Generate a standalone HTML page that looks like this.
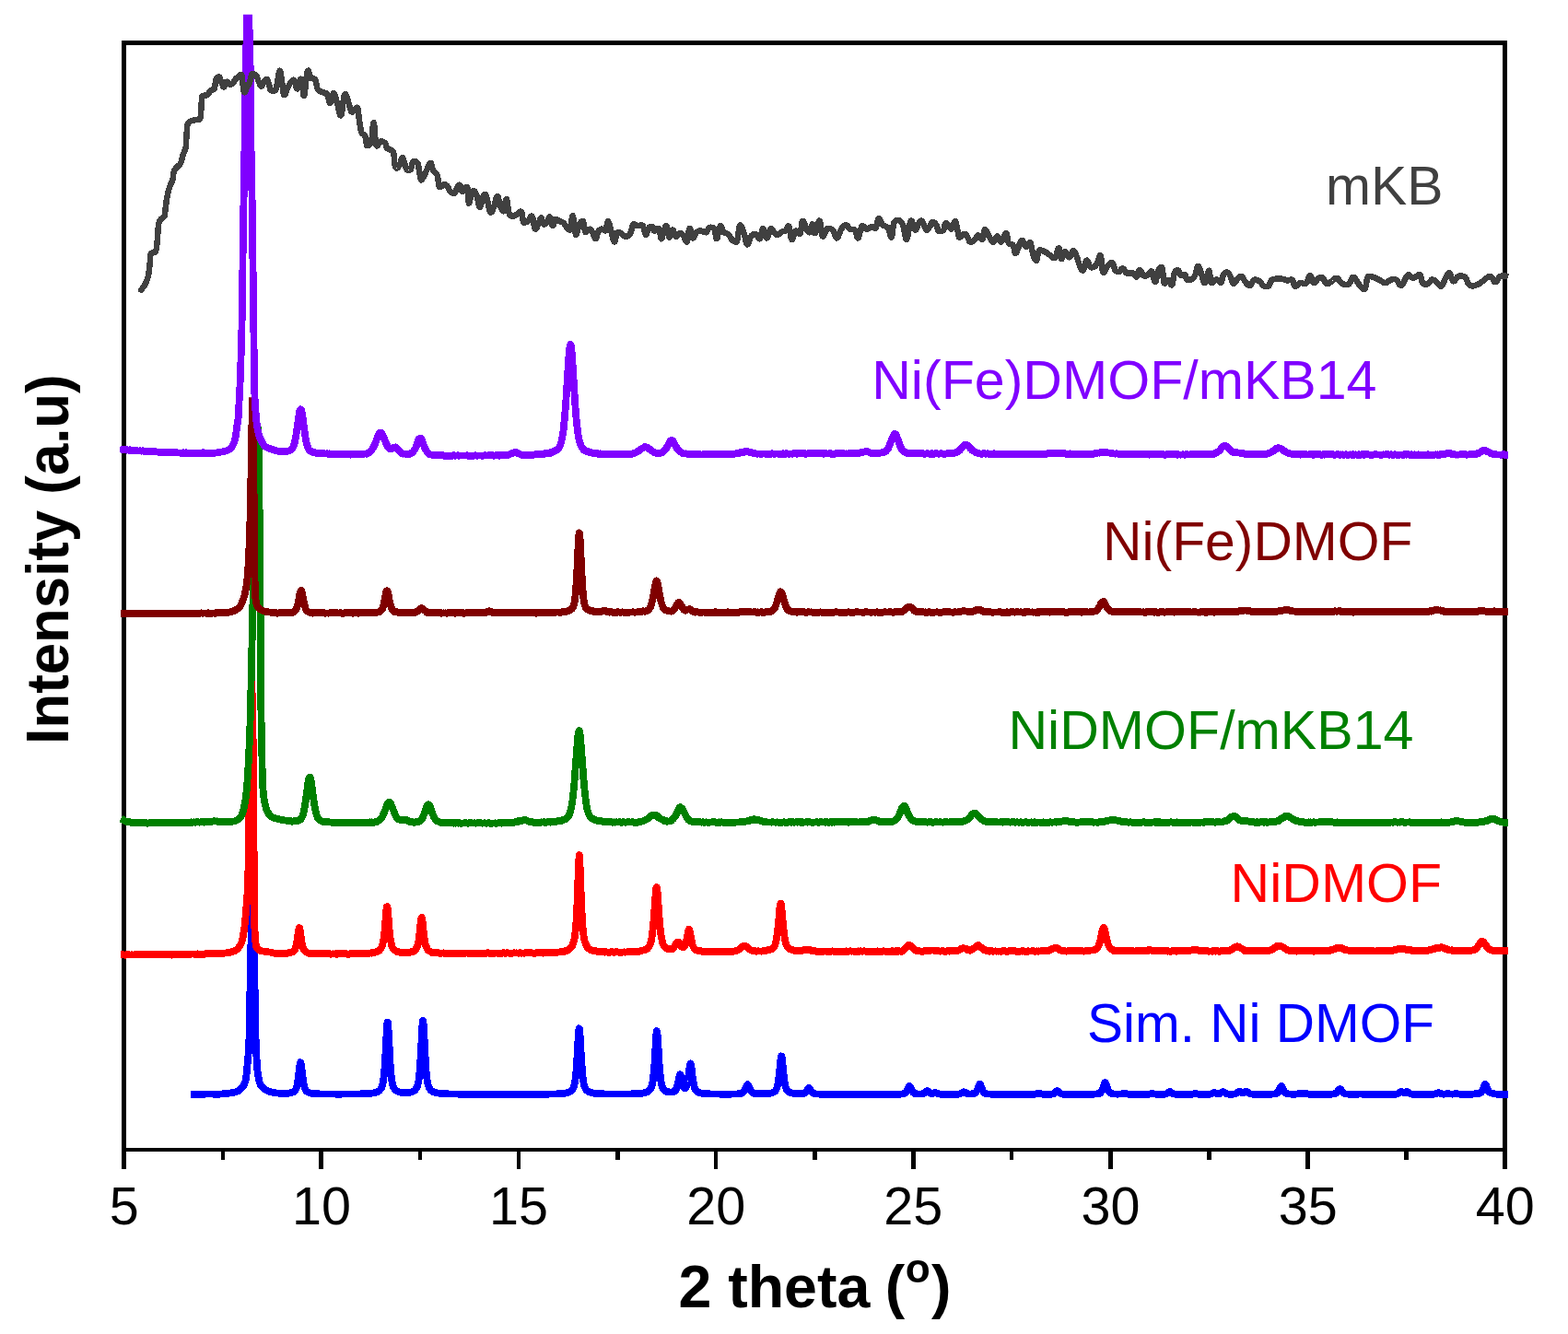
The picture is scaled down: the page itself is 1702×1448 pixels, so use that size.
<!DOCTYPE html>
<html lang="en">
<head>
<meta charset="utf-8">
<title>XRD patterns</title>
<style>
html,body{margin:0;padding:0;background:#fff;overflow:hidden;}
body{width:1702px;height:1448px;overflow:hidden;}
svg{display:block;}
text{font-family:"Liberation Sans",Arial,Helvetica,sans-serif;}
.tick{font-size:57.5px;fill:#000;text-anchor:middle;}
.lab{font-size:58.8px;}
.ax{font-weight:bold;fill:#000;text-anchor:middle;}
.c{fill:none;stroke-width:7.8;stroke-linejoin:round;stroke-linecap:butt;stroke-miterlimit:3;shape-rendering:crispEdges;}
</style>
</head>
<body>
<svg width="1702" height="1448" viewBox="0 0 1702 1448">
<rect x="0" y="0" width="1702" height="1448" fill="#ffffff"/>
<g fill="#000" shape-rendering="crispEdges">
<rect x="132" y="44" width="5" height="1206"/>
<rect x="1631" y="44" width="5" height="1206"/>
<rect x="132" y="44" width="1504" height="5"/>
<rect x="132" y="1246" width="1504" height="4"/>
<rect x="132" y="1248" width="5" height="21"/>
<rect x="346" y="1248" width="5" height="21"/>
<rect x="561" y="1248" width="4" height="21"/>
<rect x="775" y="1248" width="4" height="21"/>
<rect x="989" y="1248" width="5" height="21"/>
<rect x="1203" y="1248" width="5" height="21"/>
<rect x="1417" y="1248" width="5" height="21"/>
<rect x="1631" y="1248" width="5" height="21"/>
<rect x="240" y="1248" width="4" height="11"/>
<rect x="454" y="1248" width="4" height="11"/>
<rect x="668" y="1248" width="5" height="11"/>
<rect x="882" y="1248" width="5" height="11"/>
<rect x="1096" y="1248" width="4" height="11"/>
<rect x="1310" y="1248" width="5" height="11"/>
<rect x="1524" y="1248" width="5" height="11"/>
</g>
<clipPath id="clip0000ff"><rect x="0" y="976.0" width="1702" height="472.0"/></clipPath>
<path class="c" d="M207.00,1187.79 L230.00,1187.53 L235.97,1187.82 L241.21,1187.43 L247.82,1186.77 L251.41,1186.26 L254.23,1185.69 L256.52,1185.07 L258.30,1184.39 L259.73,1183.48 L261.12,1182.29 L262.88,1180.34 L264.32,1178.30 L265.45,1176.19 L266.36,1173.85 L267.00,1170.80 L267.55,1166.28 L269.81,1142.20 L270.18,1135.22 L270.54,1123.33 L270.99,1101.63 L272.11,1035.14 L273.07,1002.95 L274.05,976.00 L275.02,1002.58 L276.00,1035.47 L276.35,1054.01 L276.99,1100.21 L277.61,1127.85 L278.21,1143.94 L278.99,1156.52 L279.50,1162.45 L280.30,1168.00 L281.43,1173.49 L281.91,1175.25 L282.49,1176.92 L283.00,1178.00 L283.59,1178.91 L284.49,1179.96 L285.84,1181.20 L287.34,1182.31 L289.18,1183.39 L291.34,1184.37 L293.67,1185.22 L295.74,1185.80 L297.82,1186.21 L300.93,1186.52 L308.99,1187.02 L312.13,1186.94 L313.87,1186.64 L317.50,1185.66 L319.00,1184.90 L320.00,1184.02 L321.00,1182.51 L321.50,1181.35 L322.00,1179.79 L322.50,1177.74 L323.50,1171.83 L325.50,1155.40 L326.00,1153.30 L326.50,1153.55 L327.00,1156.06 L329.00,1172.59 L329.50,1175.75 L330.00,1178.27 L330.50,1180.23 L331.00,1181.71 L331.50,1182.82 L332.00,1183.64 L332.50,1184.27 L333.50,1185.12 L335.00,1185.89 L337.00,1186.48 L339.50,1186.90 L343.00,1187.21 L348.00,1187.43 L366.50,1187.64 L388.50,1187.49 L398.00,1187.15 L401.50,1186.89 L404.00,1186.59 L406.00,1186.24 L408.00,1185.73 L409.50,1185.16 L411.00,1184.34 L412.00,1183.56 L413.00,1182.47 L414.00,1180.86 L414.50,1179.71 L415.00,1178.22 L415.50,1176.22 L416.00,1173.55 L416.50,1169.99 L417.00,1165.29 L417.50,1159.26 L418.00,1151.78 L420.00,1114.26 L420.50,1109.46 L421.00,1110.01 L421.50,1115.72 L423.50,1153.33 L424.50,1166.24 L425.00,1170.68 L425.50,1174.04 L426.00,1176.54 L426.50,1178.41 L427.00,1179.81 L428.00,1181.73 L428.50,1182.40 L429.50,1183.42 L430.50,1184.15 L431.50,1184.68 L432.50,1185.08 L434.00,1185.51 L435.50,1185.79 L437.50,1186.01 L439.50,1186.09 L442.00,1186.02 L444.00,1185.82 L445.50,1185.56 L447.00,1185.16 L448.50,1184.55 L450.00,1183.62 L451.00,1182.69 L452.00,1181.34 L452.50,1180.40 L453.00,1179.19 L453.50,1177.59 L454.00,1175.46 L454.50,1172.60 L455.00,1168.78 L455.50,1163.77 L456.00,1157.37 L457.00,1140.19 L458.00,1119.87 L458.50,1111.78 L459.00,1107.91 L459.50,1109.62 L460.00,1116.29 L461.50,1145.97 L462.50,1161.47 L463.00,1167.03 L463.50,1171.31 L464.00,1174.54 L464.50,1176.95 L465.00,1178.75 L466.00,1181.17 L467.00,1182.67 L468.50,1184.10 L470.00,1185.01 L472.00,1185.79 L474.50,1186.39 L477.50,1186.83 L481.00,1187.13 L486.00,1187.39 L492.50,1187.57 L513.00,1187.78 L560.50,1187.84 L592.50,1187.68 L603.00,1187.45 L610.00,1187.03 L612.50,1186.75 L614.50,1186.40 L616.50,1185.88 L618.00,1185.31 L619.50,1184.45 L620.50,1183.61 L621.50,1182.42 L622.50,1180.56 L623.00,1179.19 L623.50,1177.37 L624.00,1174.93 L624.50,1171.67 L625.00,1167.38 L625.50,1161.87 L626.00,1155.02 L628.00,1120.71 L628.50,1116.32 L629.00,1116.83 L629.50,1122.06 L631.00,1148.59 L632.00,1163.07 L632.50,1168.32 L633.00,1172.39 L633.50,1175.47 L634.00,1177.77 L634.50,1179.48 L635.00,1180.78 L635.50,1181.77 L636.00,1182.55 L637.00,1183.69 L638.50,1184.81 L640.50,1185.72 L642.50,1186.28 L645.50,1186.79 L649.00,1187.12 L657.50,1187.46 L670.00,1187.58 L683.00,1187.47 L692.00,1187.14 L697.00,1186.66 L699.00,1186.31 L700.50,1185.94 L702.00,1185.43 L703.00,1184.96 L704.00,1184.33 L705.00,1183.48 L706.00,1182.24 L706.50,1181.39 L707.00,1180.28 L707.50,1178.82 L708.00,1176.87 L708.50,1174.25 L709.00,1170.78 L710.00,1160.50 L710.50,1153.47 L712.00,1127.98 L712.50,1121.61 L713.00,1119.20 L713.50,1121.60 L714.00,1127.95 L715.50,1153.39 L716.00,1160.40 L717.00,1170.65 L717.50,1174.11 L718.00,1176.70 L718.50,1178.63 L719.00,1180.07 L719.50,1181.16 L720.00,1181.99 L721.00,1183.18 L722.00,1183.98 L723.50,1184.75 L725.00,1185.21 L727.00,1185.50 L729.00,1185.48 L730.00,1185.34 L731.00,1185.08 L732.00,1184.60 L732.50,1184.23 L733.50,1183.04 L734.00,1182.13 L734.50,1180.92 L735.00,1179.36 L736.00,1175.10 L737.50,1167.64 L738.00,1166.34 L738.50,1166.42 L739.00,1167.80 L741.00,1176.92 L741.50,1178.56 L742.00,1179.78 L742.50,1180.61 L743.00,1181.08 L743.50,1181.21 L744.00,1181.01 L744.50,1180.45 L745.00,1179.50 L745.50,1178.07 L746.00,1176.10 L746.50,1173.51 L747.00,1170.29 L748.50,1158.44 L749.00,1155.48 L749.50,1154.40 L750.00,1155.60 L750.50,1158.69 L752.00,1170.96 L752.50,1174.34 L753.50,1179.30 L754.00,1180.98 L754.50,1182.25 L755.00,1183.20 L755.50,1183.91 L756.00,1184.46 L757.00,1185.22 L758.50,1185.93 L760.50,1186.49 L763.50,1186.96 L767.50,1187.28 L773.00,1187.49 L783.50,1187.64 L794.00,1187.61 L800.00,1187.43 L803.50,1187.09 L804.50,1186.88 L805.50,1186.52 L806.50,1185.87 L807.00,1185.39 L808.00,1183.98 L808.50,1183.02 L810.50,1178.31 L811.00,1177.50 L811.50,1177.20 L812.00,1177.50 L812.50,1178.30 L814.50,1182.99 L815.50,1184.72 L816.50,1185.82 L817.00,1186.18 L818.00,1186.65 L819.50,1187.00 L821.50,1187.21 L824.50,1187.32 L828.00,1187.30 L831.50,1187.16 L834.00,1186.95 L836.00,1186.66 L838.00,1186.20 L839.50,1185.63 L840.50,1185.06 L841.50,1184.21 L842.00,1183.61 L842.50,1182.82 L843.00,1181.77 L843.50,1180.36 L844.00,1178.47 L844.50,1175.99 L845.00,1172.80 L845.50,1168.84 L847.50,1148.98 L848.00,1146.44 L848.50,1146.74 L849.00,1149.77 L850.50,1165.12 L851.50,1173.50 L852.00,1176.55 L852.50,1178.90 L853.00,1180.68 L853.50,1182.01 L854.00,1183.01 L855.00,1184.33 L856.00,1185.14 L857.00,1185.69 L858.50,1186.24 L860.50,1186.69 L862.50,1186.97 L865.00,1187.16 L867.50,1187.24 L870.00,1187.20 L872.00,1186.98 L873.00,1186.67 L874.00,1186.08 L874.50,1185.62 L875.50,1184.33 L877.00,1181.83 L877.50,1181.22 L878.00,1181.00 L878.50,1181.24 L879.00,1181.85 L881.00,1185.13 L882.00,1186.20 L883.00,1186.82 L884.00,1187.16 L887.00,1187.54 L891.50,1187.72 L898.50,1187.82 L930.50,1187.92 L965.50,1187.88 L973.00,1187.78 L977.50,1187.61 L979.50,1187.42 L981.00,1187.14 L982.00,1186.75 L983.00,1186.03 L984.00,1184.76 L984.50,1183.87 L986.50,1179.58 L987.00,1179.05 L987.50,1179.11 L988.00,1179.74 L990.00,1184.04 L991.00,1185.57 L991.50,1186.09 L992.50,1186.76 L993.50,1187.11 L994.50,1187.30 L996.50,1187.48 L998.50,1187.53 L1000.00,1187.49 L1001.50,1187.30 L1003.00,1186.72 L1004.00,1186.00 L1005.50,1184.64 L1006.00,1184.32 L1006.50,1184.20 L1007.00,1184.32 L1007.50,1184.63 L1009.50,1186.34 L1010.00,1186.64 L1011.00,1186.98 L1011.50,1187.02 L1012.50,1186.91 L1014.50,1186.24 L1015.50,1186.11 L1016.50,1186.37 L1019.00,1187.37 L1020.00,1187.58 L1021.50,1187.73 L1025.50,1187.83 L1033.00,1187.84 L1038.00,1187.77 L1040.50,1187.62 L1041.50,1187.46 L1042.50,1187.15 L1043.50,1186.65 L1045.00,1185.68 L1045.50,1185.43 L1046.00,1185.30 L1046.50,1185.35 L1047.00,1185.54 L1049.00,1186.73 L1050.00,1187.14 L1051.50,1187.41 L1054.00,1187.42 L1056.00,1187.23 L1057.50,1186.87 L1058.50,1186.37 L1059.50,1185.42 L1060.50,1183.76 L1061.00,1182.61 L1062.50,1178.44 L1063.00,1177.34 L1063.50,1176.82 L1064.00,1177.05 L1064.50,1177.95 L1066.50,1183.35 L1067.00,1184.37 L1068.00,1185.80 L1069.00,1186.60 L1070.00,1187.02 L1071.50,1187.34 L1073.00,1187.52 L1077.50,1187.75 L1085.50,1187.88 L1119.50,1187.88 L1123.00,1187.68 L1124.50,1187.35 L1126.00,1186.88 L1127.00,1186.70 L1128.00,1186.82 L1130.50,1187.54 L1132.00,1187.75 L1135.00,1187.84 L1140.00,1187.76 L1142.00,1187.61 L1143.50,1187.23 L1144.50,1186.70 L1145.00,1186.33 L1147.00,1184.50 L1147.50,1184.25 L1148.00,1184.22 L1148.50,1184.44 L1150.50,1186.25 L1151.50,1186.95 L1153.00,1187.50 L1154.50,1187.71 L1159.00,1187.86 L1167.50,1187.90 L1179.00,1187.85 L1186.00,1187.71 L1189.50,1187.52 L1192.00,1187.20 L1193.50,1186.76 L1194.50,1186.16 L1195.50,1185.03 L1196.50,1183.08 L1197.00,1181.73 L1198.50,1176.83 L1199.00,1175.53 L1199.50,1174.92 L1200.00,1175.19 L1200.50,1176.25 L1202.00,1181.13 L1203.00,1183.76 L1203.50,1184.71 L1204.50,1185.98 L1205.50,1186.66 L1207.00,1187.14 L1209.50,1187.48 L1212.50,1187.64 L1216.00,1187.56 L1217.00,1187.41 L1220.00,1186.70 L1221.00,1186.80 L1224.00,1187.60 L1227.00,1187.84 L1236.50,1187.91 L1245.00,1187.86 L1247.00,1187.73 L1250.00,1187.17 L1251.00,1187.10 L1254.00,1187.63 L1255.50,1187.79 L1259.00,1187.86 L1263.00,1187.77 L1264.50,1187.64 L1266.00,1187.27 L1267.00,1186.78 L1269.00,1185.39 L1269.50,1185.16 L1270.00,1185.10 L1270.50,1185.23 L1271.00,1185.51 L1272.50,1186.60 L1273.50,1187.15 L1275.00,1187.60 L1276.50,1187.77 L1282.50,1187.90 L1291.50,1187.87 L1294.00,1187.68 L1296.50,1187.19 L1297.50,1187.10 L1300.50,1187.62 L1302.00,1187.79 L1305.00,1187.87 L1310.00,1187.84 L1312.50,1187.73 L1314.00,1187.51 L1315.00,1187.21 L1317.00,1186.33 L1318.00,1186.10 L1319.00,1186.29 L1320.50,1186.90 L1321.50,1187.19 L1323.00,1187.24 L1324.00,1186.97 L1324.50,1186.74 L1326.50,1185.43 L1327.00,1185.19 L1327.50,1185.10 L1328.00,1185.19 L1328.50,1185.44 L1330.50,1186.80 L1332.00,1187.40 L1334.00,1187.66 L1337.50,1187.70 L1340.00,1187.53 L1341.50,1187.15 L1342.50,1186.64 L1344.50,1185.11 L1345.00,1184.82 L1345.50,1184.70 L1346.00,1184.78 L1348.00,1185.98 L1349.00,1186.29 L1350.00,1186.15 L1352.00,1184.96 L1352.50,1184.75 L1353.00,1184.71 L1353.50,1184.87 L1354.00,1185.18 L1355.50,1186.38 L1356.50,1187.00 L1358.00,1187.50 L1359.50,1187.69 L1363.00,1187.81 L1369.00,1187.85 L1380.00,1187.69 L1382.50,1187.52 L1384.50,1187.21 L1385.50,1186.87 L1386.50,1186.23 L1387.50,1185.08 L1388.00,1184.26 L1390.00,1179.92 L1390.50,1179.20 L1391.00,1179.01 L1391.50,1179.43 L1392.00,1180.32 L1393.50,1183.68 L1394.00,1184.60 L1394.50,1185.36 L1395.50,1186.39 L1396.50,1186.95 L1397.50,1187.25 L1399.00,1187.48 L1401.50,1187.65 L1406.50,1187.69 L1411.00,1187.10 L1414.00,1187.38 L1417.50,1187.10 L1421.00,1187.69 L1424.50,1187.87 L1439.00,1187.85 L1443.50,1187.76 L1446.50,1187.58 L1448.50,1187.24 L1450.00,1186.58 L1451.00,1185.76 L1451.50,1185.22 L1453.50,1182.61 L1454.00,1182.21 L1454.50,1182.11 L1455.00,1182.34 L1455.50,1182.83 L1457.50,1185.45 L1458.00,1185.96 L1459.00,1186.71 L1460.00,1187.15 L1461.00,1187.41 L1462.50,1187.60 L1465.00,1187.75 L1471.50,1187.84 L1476.50,1187.50 L1480.50,1187.84 L1484.00,1187.92 L1504.00,1187.93 L1513.50,1187.80 L1515.50,1187.64 L1517.00,1187.30 L1518.00,1186.84 L1520.00,1185.48 L1520.50,1185.22 L1521.00,1185.10 L1521.50,1185.15 L1523.00,1185.81 L1524.00,1186.09 L1525.00,1185.96 L1526.50,1185.28 L1527.00,1185.13 L1527.50,1185.11 L1528.00,1185.26 L1530.50,1186.90 L1531.50,1187.33 L1533.00,1187.65 L1535.50,1187.81 L1546.50,1187.91 L1555.50,1187.80 L1557.00,1187.65 L1558.00,1187.43 L1560.50,1186.37 L1561.50,1186.10 L1562.50,1186.28 L1565.00,1187.33 L1566.00,1187.55 L1567.00,1187.64 L1568.50,1187.58 L1571.00,1187.16 L1572.00,1187.10 L1575.00,1187.58 L1577.00,1187.64 L1580.00,1187.18 L1581.00,1187.10 L1584.00,1187.61 L1586.00,1187.80 L1596.00,1187.78 L1599.00,1187.60 L1602.50,1187.10 L1605.00,1187.01 L1606.00,1186.84 L1607.00,1186.42 L1608.00,1185.54 L1609.00,1183.97 L1609.50,1182.87 L1611.50,1177.53 L1612.00,1176.86 L1612.50,1176.94 L1613.00,1177.72 L1614.50,1181.78 L1615.50,1184.03 L1616.00,1184.83 L1616.50,1185.41 L1617.50,1186.08 L1620.00,1186.64 L1622.50,1187.34 L1624.50,1187.63 L1628.50,1187.81 L1636.90,1187.91" stroke="#0000ff" clip-path="url(#clip0000ff)"/>
<clipPath id="clipff0000"><rect x="0" y="734.2" width="1702" height="713.8"/></clipPath>
<path class="c" d="M131.30,1036.39 L134.80,1036.37 L135.30,1036.64 L136.30,1036.75 L136.80,1036.31 L138.30,1036.10 L139.80,1036.49 L140.30,1036.40 L141.80,1036.59 L142.30,1036.52 L142.80,1036.31 L143.30,1036.31 L143.80,1036.60 L144.30,1036.58 L145.80,1036.30 L146.80,1036.27 L147.30,1036.44 L148.30,1036.46 L148.80,1036.05 L149.30,1036.15 L149.80,1035.96 L150.30,1036.09 L150.80,1036.00 L151.80,1036.34 L152.80,1036.09 L153.30,1036.13 L153.80,1036.43 L154.80,1036.54 L156.80,1036.18 L157.80,1036.35 L158.80,1036.14 L159.30,1035.86 L159.80,1036.04 L160.80,1036.16 L161.80,1035.91 L162.30,1036.19 L162.80,1035.94 L163.80,1035.93 L164.30,1036.31 L165.80,1035.90 L166.80,1036.33 L167.30,1036.15 L167.80,1036.26 L168.30,1035.94 L168.80,1036.25 L169.30,1036.20 L169.80,1036.28 L170.30,1035.90 L171.30,1036.23 L171.80,1036.52 L172.80,1036.40 L174.30,1035.85 L174.80,1036.09 L175.80,1036.03 L176.30,1035.82 L177.30,1036.15 L178.30,1035.80 L178.80,1035.73 L179.80,1036.31 L180.30,1036.33 L180.80,1036.15 L181.80,1036.03 L182.30,1036.16 L182.80,1036.02 L183.30,1036.06 L183.80,1035.95 L184.30,1036.10 L184.80,1036.11 L185.30,1036.42 L186.30,1036.68 L186.80,1036.13 L187.80,1035.64 L188.30,1035.95 L188.80,1035.71 L189.30,1035.92 L190.30,1036.09 L191.30,1035.59 L192.30,1035.94 L192.80,1036.27 L193.80,1036.25 L194.30,1036.02 L194.80,1036.25 L195.30,1036.24 L195.80,1036.38 L196.30,1036.03 L196.80,1035.91 L197.30,1035.64 L197.80,1035.95 L198.80,1036.10 L199.30,1035.85 L201.30,1035.70 L201.80,1036.07 L202.30,1036.15 L202.80,1036.02 L203.30,1035.57 L203.80,1035.43 L205.30,1035.94 L206.80,1035.82 L207.30,1035.59 L207.80,1035.51 L209.30,1035.57 L209.80,1035.45 L210.80,1035.64 L212.30,1035.68 L213.30,1036.01 L213.80,1035.65 L214.30,1035.66 L214.80,1035.39 L215.30,1035.64 L215.80,1035.63 L216.80,1035.90 L217.30,1035.81 L217.80,1035.86 L218.30,1035.69 L219.80,1035.48 L220.30,1035.74 L220.80,1035.75 L221.30,1036.06 L222.80,1035.34 L223.30,1035.42 L224.30,1035.38 L224.80,1035.27 L225.30,1035.52 L225.80,1035.37 L226.30,1035.48 L226.80,1035.19 L227.30,1035.13 L227.80,1034.90 L228.30,1034.81 L229.80,1035.24 L230.80,1035.32 L231.80,1035.23 L232.80,1034.71 L233.30,1034.75 L233.80,1034.54 L234.30,1034.78 L234.80,1034.65 L235.35,1034.97 L237.11,1034.76 L241.30,1034.92 L246.16,1034.35 L249.35,1033.81 L252.75,1032.94 L254.91,1032.08 L255.82,1031.53 L256.98,1030.65 L258.78,1028.89 L260.20,1027.00 L261.57,1024.48 L262.58,1021.85 L263.42,1018.46 L264.58,1011.90 L265.53,1004.96 L266.37,996.61 L268.38,972.18 L269.04,961.70 L269.62,936.17 L271.43,808.77 L271.73,794.08 L272.49,765.39 L273.10,734.20 L274.06,767.79 L274.92,820.98 L275.15,846.88 L275.43,903.93 L275.87,954.33 L276.03,989.33 L276.27,1005.77 L277.21,1021.15 L277.68,1025.12 L278.29,1027.83 L278.62,1028.64 L278.96,1029.16 L279.67,1029.93 L280.57,1030.64 L282.58,1031.77 L284.84,1032.44 L288.33,1033.01 L293.94,1033.60 L296.03,1034.32 L298.48,1034.80 L299.53,1034.67 L300.30,1034.74 L300.80,1035.29 L301.30,1035.12 L302.80,1035.02 L303.30,1035.19 L303.80,1035.17 L304.30,1035.31 L304.80,1035.27 L305.30,1035.10 L305.80,1035.18 L306.30,1035.08 L307.30,1035.08 L307.80,1035.44 L309.30,1034.89 L309.80,1034.85 L310.30,1034.96 L310.80,1034.85 L311.30,1035.00 L312.30,1034.76 L312.80,1034.25 L313.30,1034.15 L314.30,1034.40 L314.80,1034.32 L315.30,1033.87 L316.30,1033.82 L317.80,1033.14 L318.30,1033.03 L318.80,1032.44 L319.30,1032.07 L320.30,1030.42 L321.30,1027.16 L321.80,1025.13 L322.30,1022.46 L324.30,1008.73 L324.80,1007.10 L325.30,1007.39 L325.80,1009.97 L327.30,1021.36 L328.30,1026.44 L329.30,1029.73 L329.80,1030.86 L330.30,1031.71 L331.30,1032.44 L332.30,1033.57 L333.30,1033.96 L334.30,1034.60 L336.30,1034.87 L336.80,1034.71 L337.30,1034.89 L337.80,1034.89 L338.30,1035.28 L338.80,1034.90 L339.30,1035.00 L339.80,1034.92 L340.30,1035.15 L341.30,1035.16 L341.80,1035.29 L342.80,1035.11 L343.30,1035.19 L343.80,1035.42 L344.30,1035.47 L345.30,1035.25 L345.80,1035.38 L347.30,1034.98 L348.80,1035.09 L349.30,1035.28 L349.80,1035.23 L350.30,1035.33 L350.80,1035.06 L351.30,1035.26 L351.80,1034.98 L352.80,1035.06 L353.80,1035.26 L354.30,1035.14 L356.30,1035.46 L357.30,1035.33 L357.80,1035.14 L359.30,1035.76 L360.30,1035.48 L361.30,1035.38 L361.80,1035.50 L362.30,1035.49 L363.80,1035.24 L364.80,1035.85 L365.30,1035.85 L365.80,1035.64 L366.30,1035.05 L367.30,1035.08 L368.30,1035.29 L368.80,1035.11 L369.30,1035.21 L369.80,1035.13 L371.30,1035.39 L371.80,1035.37 L372.30,1035.10 L372.80,1035.04 L373.30,1035.20 L373.80,1035.22 L374.80,1035.10 L376.30,1035.41 L376.80,1035.63 L377.80,1035.72 L379.30,1035.62 L379.80,1035.34 L380.80,1035.20 L381.30,1035.53 L381.80,1035.43 L382.30,1035.48 L382.80,1035.32 L383.30,1035.51 L383.80,1035.46 L385.30,1035.12 L386.30,1035.12 L386.80,1035.20 L387.30,1035.40 L388.30,1035.30 L388.80,1035.04 L389.30,1035.16 L390.80,1034.83 L391.30,1035.02 L391.80,1035.09 L392.80,1034.83 L393.30,1034.88 L394.30,1035.23 L396.80,1034.67 L397.80,1034.80 L398.30,1034.66 L399.80,1034.98 L400.80,1034.65 L401.30,1034.74 L401.80,1034.47 L402.30,1034.58 L402.80,1034.38 L403.30,1034.65 L403.80,1034.41 L404.30,1034.35 L404.80,1034.11 L405.30,1034.13 L406.30,1033.86 L407.30,1033.36 L408.80,1033.45 L409.30,1033.24 L409.80,1032.84 L410.30,1032.59 L411.30,1032.29 L411.80,1031.65 L412.30,1030.59 L412.80,1029.81 L413.30,1029.56 L413.80,1029.10 L414.30,1028.19 L414.80,1026.86 L415.80,1023.08 L416.80,1016.99 L417.30,1012.59 L419.30,988.11 L419.80,984.42 L420.30,983.99 L420.80,986.87 L421.30,992.29 L422.80,1011.63 L423.30,1016.09 L424.30,1022.46 L425.30,1026.60 L426.30,1029.02 L427.30,1030.58 L427.80,1031.13 L429.30,1031.93 L430.30,1032.71 L430.80,1032.88 L431.30,1032.93 L431.80,1032.85 L432.30,1032.98 L432.80,1033.28 L433.30,1033.37 L433.80,1033.63 L434.80,1033.80 L435.30,1033.56 L435.80,1033.60 L436.30,1033.75 L436.80,1033.74 L437.80,1034.02 L438.30,1034.29 L438.80,1034.22 L439.80,1034.42 L441.30,1033.77 L441.80,1033.84 L442.30,1033.53 L442.80,1033.60 L443.30,1033.50 L443.80,1033.76 L444.30,1033.59 L444.80,1033.70 L446.30,1033.25 L446.80,1033.33 L447.80,1033.18 L449.30,1032.35 L449.80,1031.91 L450.30,1031.72 L450.80,1031.02 L451.30,1030.60 L452.80,1027.58 L453.30,1026.24 L453.80,1024.38 L454.80,1018.55 L456.80,1000.05 L457.30,996.72 L457.80,995.87 L458.30,997.93 L458.80,1002.07 L460.30,1016.79 L461.30,1022.92 L462.30,1026.62 L464.30,1031.04 L464.80,1031.75 L465.80,1032.21 L466.30,1032.31 L466.80,1032.77 L467.30,1032.92 L468.30,1033.68 L469.30,1034.26 L469.80,1034.09 L470.80,1034.01 L471.30,1034.28 L471.80,1034.32 L472.30,1034.24 L472.80,1033.92 L474.30,1034.37 L474.80,1034.37 L475.30,1034.13 L475.80,1034.22 L476.80,1034.68 L477.30,1034.70 L477.80,1034.47 L478.30,1034.64 L478.80,1034.62 L479.30,1034.78 L479.80,1034.67 L480.30,1034.44 L481.30,1034.37 L481.80,1034.69 L482.80,1034.96 L483.80,1034.51 L484.30,1034.49 L484.80,1034.74 L485.80,1034.42 L486.30,1034.47 L487.30,1034.88 L487.80,1034.61 L488.30,1034.79 L488.80,1034.45 L489.30,1034.62 L489.80,1034.66 L490.30,1035.00 L490.80,1035.07 L491.30,1034.69 L491.80,1034.87 L492.30,1034.69 L492.80,1034.87 L493.30,1034.72 L494.30,1034.83 L494.80,1034.65 L495.30,1034.70 L495.80,1034.59 L497.30,1034.97 L497.80,1034.98 L498.80,1034.69 L499.30,1034.69 L499.80,1034.85 L500.80,1034.98 L501.80,1034.80 L502.30,1034.85 L502.80,1034.74 L503.80,1034.92 L504.80,1034.91 L505.30,1034.54 L505.80,1034.61 L506.30,1034.43 L506.80,1034.58 L507.30,1034.58 L508.30,1035.01 L509.30,1035.17 L509.80,1034.97 L510.30,1034.91 L511.30,1034.52 L511.80,1034.55 L512.80,1035.12 L514.80,1034.93 L515.30,1034.58 L515.80,1034.52 L516.30,1034.56 L516.80,1034.95 L517.30,1035.04 L517.80,1034.94 L518.30,1034.63 L519.30,1034.54 L520.30,1034.74 L520.80,1034.98 L521.30,1035.03 L522.30,1034.55 L522.80,1034.63 L523.30,1034.91 L523.80,1034.93 L524.80,1034.67 L525.30,1034.92 L526.80,1034.80 L527.80,1034.85 L528.80,1034.22 L529.30,1034.13 L529.80,1034.15 L530.30,1034.54 L531.30,1034.94 L532.30,1034.78 L533.80,1034.94 L534.30,1034.88 L535.30,1035.06 L535.80,1034.89 L536.30,1034.96 L536.80,1034.68 L537.30,1034.67 L537.80,1034.42 L538.30,1034.59 L538.80,1034.56 L539.30,1034.69 L539.80,1034.50 L541.30,1035.11 L541.80,1035.18 L542.30,1035.02 L542.80,1035.25 L543.80,1034.80 L544.80,1034.69 L545.30,1034.75 L546.30,1034.30 L546.80,1034.40 L547.30,1034.35 L547.80,1034.72 L548.30,1034.82 L548.80,1034.74 L549.30,1034.38 L550.30,1034.19 L551.80,1034.55 L552.80,1034.56 L553.80,1035.06 L554.80,1034.93 L555.30,1034.65 L555.80,1034.70 L556.30,1034.47 L556.80,1034.65 L557.30,1034.44 L558.30,1034.35 L558.80,1034.56 L560.30,1034.38 L560.80,1034.57 L562.30,1034.46 L562.80,1034.72 L563.30,1034.77 L563.80,1034.64 L564.30,1034.20 L564.80,1034.15 L565.80,1034.72 L566.30,1034.81 L567.30,1034.42 L568.30,1034.46 L568.80,1034.70 L569.30,1034.44 L569.80,1034.45 L570.30,1034.28 L570.80,1034.54 L571.80,1034.44 L572.30,1034.27 L572.80,1034.48 L573.80,1034.53 L574.30,1034.25 L574.80,1034.11 L575.30,1034.37 L576.80,1034.18 L577.30,1034.54 L577.80,1034.61 L578.80,1034.57 L579.30,1034.70 L579.80,1034.60 L580.30,1034.70 L580.80,1034.60 L581.30,1034.78 L581.80,1034.44 L582.30,1034.52 L582.80,1034.18 L583.80,1034.06 L584.30,1034.11 L584.80,1034.33 L585.30,1034.14 L585.80,1034.42 L586.80,1034.34 L587.30,1034.16 L588.80,1034.32 L589.80,1034.64 L590.30,1034.56 L590.80,1034.24 L591.30,1034.19 L592.80,1033.53 L593.30,1033.56 L593.80,1034.12 L594.30,1034.21 L594.80,1034.20 L595.30,1033.84 L596.80,1033.92 L597.30,1033.83 L598.80,1033.99 L599.80,1034.28 L600.30,1034.04 L600.80,1034.17 L601.30,1033.96 L601.80,1034.28 L602.30,1033.85 L602.80,1033.84 L603.30,1033.69 L604.80,1033.80 L605.80,1033.46 L606.30,1033.43 L606.80,1033.58 L607.30,1033.51 L609.30,1032.83 L610.80,1033.05 L611.30,1032.69 L612.30,1032.88 L612.80,1032.83 L613.30,1032.61 L613.80,1032.17 L614.30,1032.25 L614.80,1032.13 L616.30,1031.36 L616.80,1031.25 L619.30,1029.09 L620.30,1027.98 L621.30,1026.30 L622.80,1022.13 L623.30,1020.15 L623.80,1017.51 L624.80,1009.17 L625.80,995.59 L626.80,973.43 L627.80,944.65 L628.30,933.09 L628.80,928.16 L629.30,933.02 L630.80,973.14 L631.80,995.49 L632.30,1003.18 L632.80,1008.71 L633.30,1013.47 L633.80,1017.10 L634.30,1019.94 L634.80,1021.86 L635.80,1024.76 L637.30,1027.78 L637.80,1028.62 L638.30,1029.15 L639.30,1029.84 L640.30,1030.35 L641.80,1031.40 L642.80,1031.63 L644.30,1032.23 L644.80,1032.32 L645.80,1032.13 L646.80,1032.20 L647.30,1032.65 L648.30,1032.89 L648.80,1032.85 L649.80,1033.29 L650.30,1033.38 L651.80,1033.16 L653.30,1033.34 L654.80,1032.79 L655.30,1032.89 L656.30,1033.63 L656.80,1033.59 L657.30,1033.26 L657.80,1033.22 L658.30,1033.41 L659.80,1033.47 L660.30,1033.80 L660.80,1033.72 L661.30,1033.82 L663.30,1033.31 L663.80,1033.53 L665.30,1033.33 L666.30,1033.95 L666.80,1034.00 L668.30,1033.23 L668.80,1033.41 L669.30,1033.23 L671.30,1033.48 L672.80,1033.81 L673.80,1033.82 L674.80,1033.56 L675.30,1033.66 L677.30,1033.38 L678.80,1033.63 L679.80,1033.55 L680.30,1033.62 L681.30,1033.12 L681.80,1033.18 L682.30,1033.39 L682.80,1033.28 L683.30,1032.94 L683.80,1032.88 L684.80,1033.19 L685.30,1033.17 L685.80,1033.32 L686.30,1033.10 L687.30,1033.29 L688.30,1033.35 L688.80,1033.20 L689.30,1033.34 L690.80,1032.61 L691.30,1032.66 L692.30,1033.07 L693.30,1032.96 L694.30,1032.36 L694.80,1032.20 L695.80,1032.29 L697.30,1031.45 L697.80,1031.52 L698.30,1031.32 L700.30,1031.09 L701.30,1030.13 L701.80,1029.78 L702.80,1029.78 L703.30,1029.24 L704.30,1027.79 L704.80,1026.82 L705.80,1024.57 L706.30,1023.13 L706.80,1021.51 L707.80,1015.79 L708.80,1007.45 L709.30,1001.92 L711.80,968.27 L712.30,964.02 L712.80,963.08 L713.30,965.28 L713.80,970.20 L715.80,998.37 L716.80,1009.52 L717.30,1013.66 L718.30,1019.55 L719.30,1023.76 L719.80,1025.04 L720.80,1026.95 L721.80,1028.28 L723.30,1029.14 L724.30,1029.94 L725.30,1030.29 L726.30,1030.42 L727.80,1030.19 L729.30,1030.28 L730.30,1029.92 L730.80,1029.47 L731.80,1028.03 L732.80,1026.28 L733.80,1024.27 L734.30,1023.53 L735.30,1022.44 L736.30,1022.40 L737.30,1023.41 L737.80,1024.32 L738.30,1024.91 L739.80,1027.55 L740.30,1028.00 L740.80,1028.26 L741.30,1028.24 L741.80,1028.10 L742.80,1027.28 L743.30,1026.67 L744.30,1024.07 L745.30,1019.60 L747.30,1009.75 L747.80,1008.76 L748.30,1009.27 L748.80,1011.05 L749.30,1013.33 L750.80,1021.60 L751.80,1025.73 L752.80,1028.39 L754.30,1030.68 L754.80,1031.15 L755.30,1031.42 L756.30,1031.38 L757.30,1031.85 L757.80,1031.96 L758.30,1032.31 L759.80,1032.47 L760.30,1032.31 L761.30,1032.29 L761.80,1032.58 L762.30,1032.74 L762.80,1032.76 L763.80,1032.74 L764.80,1032.43 L766.30,1032.86 L766.80,1032.90 L767.30,1033.16 L767.80,1033.20 L768.30,1032.98 L769.30,1032.82 L770.80,1033.14 L771.80,1033.25 L772.80,1033.56 L773.30,1033.28 L773.80,1033.17 L774.30,1032.86 L775.30,1032.88 L776.80,1033.12 L778.30,1032.97 L779.30,1033.37 L780.30,1032.92 L780.80,1032.84 L781.30,1033.25 L782.30,1033.56 L783.30,1033.32 L785.30,1033.04 L786.30,1033.03 L787.30,1033.14 L787.80,1033.39 L788.80,1033.11 L789.30,1033.15 L789.80,1033.33 L790.80,1033.06 L792.80,1033.32 L793.30,1033.31 L793.80,1033.23 L794.30,1032.78 L794.80,1032.67 L795.80,1032.89 L796.30,1032.77 L796.80,1032.42 L797.30,1032.36 L797.80,1032.50 L798.80,1032.35 L799.30,1032.03 L799.80,1031.97 L800.80,1031.60 L803.80,1029.16 L804.30,1029.01 L806.30,1027.20 L807.30,1026.82 L807.80,1026.86 L809.30,1026.73 L809.80,1027.23 L810.30,1027.54 L810.80,1028.20 L811.30,1028.37 L812.30,1029.27 L812.80,1029.92 L814.80,1031.09 L816.30,1031.75 L816.80,1031.77 L818.30,1032.26 L819.30,1032.17 L819.80,1032.28 L820.30,1032.57 L821.30,1032.78 L823.30,1032.28 L823.80,1032.45 L824.80,1032.54 L825.30,1032.46 L825.80,1032.61 L826.80,1032.66 L827.30,1032.43 L828.80,1032.18 L829.30,1031.86 L829.80,1031.99 L830.30,1031.76 L830.80,1031.86 L831.30,1031.69 L831.80,1031.75 L832.80,1031.52 L833.30,1031.29 L833.80,1031.25 L834.30,1030.92 L834.80,1030.83 L836.30,1030.79 L836.80,1030.64 L837.30,1030.38 L838.30,1029.51 L838.80,1029.33 L839.80,1028.46 L840.80,1026.70 L841.30,1025.59 L841.80,1024.14 L842.30,1022.23 L842.80,1019.70 L843.80,1012.99 L844.80,1003.86 L846.30,986.60 L846.80,982.52 L847.30,980.52 L847.80,981.37 L848.30,984.72 L850.30,1006.54 L851.30,1015.19 L852.30,1020.93 L853.30,1024.55 L853.80,1026.03 L854.30,1027.28 L854.80,1028.12 L856.80,1030.11 L857.30,1030.04 L857.80,1030.27 L858.30,1030.23 L858.80,1030.65 L860.30,1031.07 L861.30,1031.60 L861.80,1031.75 L863.30,1031.39 L864.80,1032.08 L865.30,1032.11 L865.80,1031.86 L866.80,1031.88 L867.30,1031.80 L867.80,1031.54 L868.30,1031.51 L868.80,1031.60 L869.30,1031.96 L869.80,1031.94 L870.30,1031.84 L870.80,1031.49 L871.30,1031.55 L871.80,1031.43 L872.30,1031.43 L872.80,1031.13 L873.30,1031.25 L875.30,1030.46 L875.80,1030.59 L876.30,1030.53 L876.80,1030.83 L877.30,1030.81 L877.80,1031.01 L878.30,1030.87 L879.30,1031.21 L880.30,1031.76 L881.30,1031.87 L883.80,1032.53 L884.80,1032.20 L885.30,1032.23 L885.80,1032.66 L886.80,1032.77 L887.30,1032.59 L887.80,1032.64 L888.30,1032.47 L889.80,1032.81 L890.80,1032.89 L891.30,1032.69 L891.80,1032.67 L893.30,1032.97 L893.80,1032.71 L894.80,1032.53 L896.80,1032.67 L897.30,1032.86 L898.80,1032.83 L899.80,1032.43 L900.30,1032.51 L901.30,1033.00 L902.80,1032.41 L903.80,1032.35 L904.30,1032.62 L904.80,1032.51 L905.80,1032.84 L906.30,1033.15 L907.30,1032.98 L907.80,1032.64 L908.80,1032.52 L909.30,1032.81 L910.30,1032.83 L911.80,1032.52 L913.30,1032.90 L914.30,1032.75 L915.30,1032.92 L915.80,1033.20 L916.30,1033.21 L917.80,1032.46 L918.80,1032.39 L919.80,1032.88 L920.30,1032.90 L920.80,1032.88 L921.30,1032.55 L921.80,1032.59 L922.30,1032.38 L922.80,1032.33 L924.30,1032.65 L925.30,1032.46 L926.30,1032.48 L926.80,1032.63 L927.30,1032.50 L928.30,1032.63 L928.80,1032.92 L929.30,1033.02 L929.80,1032.98 L930.80,1032.41 L931.30,1032.38 L931.80,1032.63 L932.30,1033.05 L933.80,1032.25 L934.80,1032.54 L935.80,1032.65 L936.30,1032.62 L936.80,1032.43 L937.80,1032.27 L938.30,1032.57 L938.80,1032.49 L939.80,1032.56 L940.80,1032.87 L941.30,1032.69 L942.30,1032.76 L942.80,1033.11 L943.80,1033.21 L944.30,1032.94 L945.30,1032.88 L946.30,1033.11 L946.80,1033.00 L947.80,1033.30 L948.30,1033.12 L948.80,1033.09 L949.30,1032.85 L949.80,1033.01 L950.30,1032.77 L950.80,1032.81 L952.30,1032.36 L953.80,1032.91 L954.30,1032.92 L955.30,1032.43 L956.30,1032.52 L956.80,1032.78 L957.30,1032.90 L957.80,1032.86 L958.30,1032.79 L958.80,1032.34 L959.80,1032.44 L960.30,1032.63 L961.30,1032.49 L961.80,1032.51 L963.30,1033.08 L963.80,1032.93 L964.80,1032.83 L965.30,1033.01 L965.80,1032.92 L966.30,1032.98 L966.80,1032.68 L967.30,1032.64 L967.80,1032.25 L968.30,1032.04 L968.80,1032.27 L969.30,1032.73 L969.80,1032.91 L970.30,1032.71 L971.30,1032.52 L971.80,1032.73 L972.30,1032.52 L972.80,1032.55 L973.30,1031.99 L973.80,1032.29 L974.30,1032.36 L974.80,1032.87 L975.30,1032.55 L975.80,1032.56 L976.30,1032.34 L977.80,1032.79 L978.30,1032.84 L979.30,1032.12 L980.30,1031.81 L980.80,1031.49 L982.30,1030.01 L982.80,1029.66 L985.30,1026.87 L985.80,1026.19 L986.80,1025.76 L987.80,1026.12 L988.80,1027.10 L989.30,1027.37 L990.80,1029.35 L991.30,1029.59 L992.30,1030.53 L992.80,1030.91 L993.30,1031.12 L993.80,1031.55 L994.80,1031.98 L996.30,1032.43 L996.80,1032.44 L997.80,1032.28 L998.30,1032.32 L998.80,1032.48 L999.30,1032.49 L999.80,1032.77 L1000.80,1032.84 L1001.30,1032.54 L1001.80,1032.67 L1002.80,1032.55 L1003.30,1032.24 L1004.30,1032.49 L1005.80,1032.23 L1006.30,1032.51 L1007.30,1032.23 L1008.80,1032.10 L1009.80,1031.66 L1010.80,1031.62 L1011.80,1031.43 L1013.30,1031.67 L1013.80,1031.48 L1014.30,1031.65 L1014.80,1031.50 L1015.30,1031.87 L1015.80,1031.74 L1016.30,1031.84 L1016.80,1031.61 L1018.80,1032.03 L1019.80,1032.48 L1020.80,1032.64 L1021.30,1032.44 L1021.80,1032.38 L1022.30,1032.11 L1022.80,1032.32 L1023.80,1032.24 L1024.30,1032.33 L1025.30,1033.05 L1026.30,1032.52 L1026.80,1032.45 L1027.30,1032.64 L1028.80,1032.08 L1029.30,1032.13 L1030.30,1032.70 L1030.80,1032.67 L1031.30,1032.22 L1031.80,1032.19 L1032.30,1032.28 L1032.80,1032.52 L1033.30,1032.38 L1033.80,1032.41 L1034.80,1032.28 L1035.80,1031.83 L1036.30,1031.83 L1037.30,1032.04 L1038.30,1032.01 L1038.80,1031.78 L1040.30,1031.78 L1041.30,1031.12 L1042.30,1030.67 L1043.80,1029.48 L1044.30,1029.40 L1044.80,1029.49 L1046.30,1029.22 L1046.80,1029.38 L1048.30,1029.56 L1049.30,1030.09 L1049.80,1030.78 L1050.30,1031.10 L1050.80,1031.26 L1051.30,1031.15 L1052.30,1031.65 L1052.80,1031.69 L1053.30,1031.45 L1053.80,1031.00 L1055.30,1030.48 L1055.80,1030.44 L1056.30,1029.90 L1056.80,1029.59 L1057.30,1029.02 L1058.30,1028.60 L1059.80,1026.73 L1061.30,1026.11 L1062.30,1026.20 L1063.30,1026.77 L1064.30,1028.09 L1065.80,1028.71 L1066.80,1029.62 L1067.80,1030.79 L1068.30,1031.06 L1069.30,1031.15 L1069.80,1031.57 L1070.30,1031.58 L1070.80,1031.88 L1071.30,1031.67 L1071.80,1031.87 L1072.30,1031.72 L1072.80,1032.06 L1073.30,1032.22 L1073.80,1032.76 L1075.30,1032.21 L1076.30,1032.52 L1076.80,1032.22 L1077.80,1032.45 L1078.30,1032.74 L1078.80,1032.51 L1079.30,1032.52 L1079.80,1032.41 L1080.30,1032.49 L1080.80,1032.40 L1081.30,1032.62 L1082.80,1032.53 L1083.80,1032.66 L1084.30,1032.50 L1084.80,1032.59 L1085.30,1032.52 L1086.80,1032.87 L1087.30,1032.72 L1087.80,1032.33 L1089.80,1032.10 L1090.30,1032.11 L1090.80,1032.41 L1091.30,1032.33 L1091.80,1032.65 L1092.30,1032.45 L1092.80,1032.64 L1093.30,1032.53 L1094.30,1032.72 L1095.30,1032.23 L1096.30,1032.03 L1097.80,1032.55 L1098.30,1032.55 L1098.80,1032.30 L1100.80,1032.35 L1101.30,1032.25 L1101.80,1032.46 L1102.30,1032.37 L1102.80,1032.62 L1103.30,1032.70 L1103.80,1032.75 L1104.80,1032.57 L1105.80,1032.87 L1106.80,1032.71 L1107.30,1032.78 L1107.80,1032.56 L1108.30,1032.59 L1108.80,1032.29 L1109.30,1032.65 L1109.80,1032.53 L1110.30,1032.62 L1110.80,1032.33 L1111.80,1032.50 L1112.30,1032.83 L1113.30,1032.53 L1114.30,1033.07 L1114.80,1033.12 L1115.80,1032.28 L1116.30,1032.47 L1116.80,1032.43 L1117.30,1032.57 L1119.30,1032.39 L1120.30,1032.58 L1121.80,1032.18 L1122.30,1032.29 L1123.30,1032.83 L1125.30,1032.33 L1125.80,1032.58 L1126.30,1032.53 L1126.80,1032.69 L1127.80,1032.37 L1128.30,1032.55 L1128.80,1032.50 L1129.30,1032.57 L1129.80,1032.34 L1130.30,1032.27 L1130.80,1032.36 L1131.30,1032.23 L1131.80,1032.39 L1132.80,1032.32 L1134.30,1032.37 L1135.30,1032.26 L1135.80,1032.57 L1136.30,1032.37 L1136.80,1032.35 L1137.30,1032.03 L1137.80,1032.10 L1139.30,1031.51 L1140.80,1030.43 L1141.30,1030.26 L1141.80,1030.25 L1143.30,1029.67 L1143.80,1029.35 L1144.80,1029.01 L1146.80,1028.92 L1147.80,1029.26 L1149.80,1030.78 L1150.30,1031.35 L1151.30,1031.62 L1151.80,1031.63 L1152.30,1031.90 L1153.80,1032.25 L1155.30,1032.22 L1155.80,1032.30 L1156.30,1032.52 L1157.80,1032.65 L1159.30,1032.29 L1159.80,1032.41 L1160.30,1032.33 L1161.80,1032.38 L1162.30,1032.49 L1162.80,1032.34 L1163.30,1032.46 L1163.80,1032.15 L1164.80,1032.38 L1166.80,1032.22 L1167.30,1032.37 L1168.30,1032.49 L1168.80,1032.26 L1169.30,1032.20 L1170.30,1032.26 L1170.80,1032.44 L1171.30,1032.11 L1172.30,1031.72 L1172.80,1031.79 L1173.30,1032.03 L1173.80,1031.97 L1174.30,1032.25 L1174.80,1032.30 L1175.30,1032.53 L1176.30,1032.64 L1177.80,1032.43 L1178.30,1032.27 L1179.30,1031.75 L1179.80,1031.85 L1180.30,1031.69 L1180.80,1031.83 L1181.30,1031.65 L1181.80,1032.00 L1182.80,1031.93 L1183.30,1031.80 L1183.80,1031.45 L1185.80,1031.51 L1186.30,1031.36 L1186.80,1031.51 L1187.30,1031.13 L1188.80,1030.96 L1189.30,1030.54 L1190.80,1029.71 L1191.30,1029.11 L1192.30,1027.07 L1193.80,1022.98 L1194.80,1018.72 L1195.80,1013.53 L1196.80,1009.28 L1197.30,1007.85 L1197.80,1006.99 L1198.30,1006.88 L1198.80,1007.89 L1199.30,1009.47 L1200.80,1016.78 L1202.80,1025.09 L1203.80,1027.33 L1204.80,1029.13 L1205.30,1029.73 L1205.80,1030.08 L1206.80,1030.09 L1207.80,1030.91 L1208.30,1031.58 L1208.80,1031.88 L1210.30,1031.67 L1210.80,1031.93 L1212.30,1031.92 L1212.80,1032.19 L1213.80,1032.08 L1214.30,1031.89 L1215.30,1031.84 L1216.30,1032.02 L1217.30,1032.41 L1218.30,1032.54 L1218.80,1032.26 L1220.30,1032.28 L1221.30,1031.85 L1222.80,1032.01 L1223.30,1032.19 L1223.80,1032.08 L1224.30,1032.19 L1224.80,1032.09 L1225.30,1032.12 L1226.80,1032.52 L1227.30,1032.36 L1228.80,1032.49 L1229.30,1032.19 L1230.30,1032.32 L1230.80,1032.56 L1232.30,1032.43 L1232.80,1032.28 L1234.30,1032.32 L1234.80,1032.21 L1236.30,1032.60 L1237.30,1031.91 L1237.80,1031.76 L1238.30,1031.77 L1238.80,1032.22 L1239.80,1032.03 L1240.30,1032.06 L1240.80,1032.34 L1241.30,1032.43 L1243.30,1031.85 L1243.80,1031.90 L1244.30,1031.71 L1244.80,1031.74 L1245.30,1031.36 L1245.80,1031.34 L1247.30,1031.72 L1247.80,1031.22 L1248.30,1031.25 L1248.80,1031.11 L1249.80,1031.40 L1250.30,1031.76 L1251.30,1032.17 L1251.80,1031.97 L1252.30,1032.12 L1252.80,1032.08 L1253.30,1032.37 L1253.80,1032.21 L1254.30,1032.18 L1255.80,1032.48 L1256.30,1032.27 L1256.80,1032.21 L1257.80,1032.47 L1259.80,1032.27 L1260.30,1032.43 L1260.80,1032.38 L1261.30,1032.50 L1261.80,1032.10 L1262.80,1031.81 L1263.30,1032.03 L1265.30,1032.44 L1265.80,1032.15 L1266.30,1032.31 L1266.80,1032.31 L1267.30,1032.62 L1267.80,1032.37 L1268.80,1032.42 L1269.80,1032.64 L1270.30,1032.54 L1270.80,1032.75 L1271.30,1032.41 L1272.30,1032.24 L1272.80,1032.44 L1273.30,1032.45 L1273.80,1032.12 L1274.30,1032.29 L1274.80,1032.12 L1275.30,1032.39 L1275.80,1032.27 L1276.30,1032.60 L1276.80,1032.71 L1278.80,1032.06 L1279.30,1032.25 L1279.80,1032.24 L1280.30,1032.47 L1280.80,1032.23 L1281.30,1032.27 L1281.80,1032.18 L1282.30,1032.30 L1282.80,1032.16 L1283.30,1032.35 L1284.80,1032.04 L1285.30,1032.07 L1286.30,1032.46 L1286.80,1032.46 L1287.30,1032.38 L1287.80,1031.97 L1288.30,1031.99 L1289.30,1032.25 L1289.80,1032.28 L1291.30,1031.80 L1292.80,1031.57 L1293.30,1031.59 L1294.80,1031.00 L1295.30,1031.10 L1295.80,1031.05 L1296.30,1031.25 L1298.30,1030.94 L1300.80,1031.57 L1301.80,1032.05 L1302.80,1031.94 L1303.80,1032.03 L1304.30,1032.46 L1304.80,1032.53 L1305.30,1032.54 L1305.80,1032.26 L1307.30,1032.05 L1307.80,1032.23 L1309.30,1032.22 L1309.80,1032.58 L1310.80,1032.59 L1311.30,1032.36 L1311.80,1032.69 L1312.30,1032.57 L1314.30,1032.42 L1314.80,1032.59 L1315.30,1032.48 L1315.80,1032.71 L1317.30,1031.94 L1317.80,1031.99 L1318.80,1032.63 L1319.30,1032.65 L1319.80,1032.53 L1320.30,1032.17 L1321.30,1032.22 L1321.80,1032.10 L1322.80,1032.36 L1323.30,1032.89 L1324.80,1032.21 L1326.30,1031.92 L1327.80,1032.55 L1329.30,1032.08 L1330.80,1032.47 L1331.30,1032.33 L1331.80,1032.31 L1332.30,1032.00 L1333.80,1032.00 L1334.30,1031.91 L1334.80,1031.54 L1336.80,1030.71 L1337.30,1030.71 L1337.80,1030.58 L1338.30,1030.26 L1338.80,1029.48 L1339.30,1029.25 L1339.80,1028.63 L1340.30,1028.34 L1340.80,1027.90 L1341.80,1027.71 L1342.30,1027.33 L1343.30,1027.26 L1344.80,1027.95 L1345.30,1028.40 L1346.80,1029.20 L1347.30,1029.56 L1348.80,1030.09 L1350.80,1031.73 L1351.30,1032.08 L1351.80,1032.22 L1352.30,1031.89 L1353.30,1031.98 L1353.80,1032.25 L1354.30,1032.19 L1354.80,1032.48 L1355.30,1032.26 L1355.80,1032.32 L1356.30,1031.95 L1357.30,1032.05 L1357.80,1032.36 L1358.30,1032.17 L1359.30,1032.10 L1359.80,1032.32 L1360.30,1032.15 L1361.30,1032.00 L1362.80,1032.49 L1363.30,1032.46 L1364.30,1032.14 L1364.80,1032.31 L1365.80,1032.34 L1366.30,1031.99 L1367.30,1032.00 L1368.30,1032.40 L1369.30,1032.42 L1369.80,1032.12 L1370.80,1032.08 L1371.30,1032.24 L1372.30,1031.96 L1372.80,1032.11 L1374.30,1031.72 L1374.80,1031.70 L1375.80,1031.96 L1377.30,1031.90 L1378.80,1031.28 L1379.30,1031.48 L1379.80,1031.53 L1380.80,1030.79 L1381.30,1030.27 L1381.80,1030.04 L1382.80,1029.15 L1383.80,1028.82 L1384.80,1028.31 L1385.30,1027.85 L1385.80,1027.59 L1386.30,1026.93 L1387.30,1026.95 L1387.80,1027.11 L1388.80,1026.62 L1389.80,1026.92 L1390.30,1027.30 L1390.80,1027.47 L1391.80,1027.56 L1392.80,1028.15 L1393.30,1028.68 L1394.80,1029.74 L1395.30,1029.91 L1395.80,1030.39 L1396.30,1030.48 L1397.30,1030.88 L1397.80,1031.36 L1398.30,1031.61 L1398.80,1031.76 L1399.30,1031.51 L1400.30,1031.52 L1402.30,1032.19 L1402.80,1032.22 L1403.30,1032.13 L1403.80,1032.25 L1404.30,1032.14 L1405.30,1032.19 L1406.30,1032.40 L1406.80,1032.35 L1407.30,1032.62 L1407.80,1032.67 L1408.80,1032.13 L1409.30,1032.04 L1409.80,1032.34 L1411.30,1032.62 L1411.80,1032.44 L1412.80,1031.75 L1413.30,1032.11 L1413.80,1032.17 L1414.30,1032.40 L1414.80,1032.00 L1415.30,1031.96 L1416.30,1032.17 L1416.80,1032.17 L1417.30,1032.05 L1417.80,1032.33 L1418.80,1032.21 L1419.30,1031.91 L1420.80,1032.12 L1421.30,1032.03 L1422.80,1032.05 L1423.80,1032.47 L1424.30,1032.42 L1424.80,1032.14 L1425.30,1032.05 L1426.30,1032.69 L1427.80,1031.77 L1428.30,1032.06 L1429.80,1032.16 L1430.30,1032.38 L1430.80,1032.17 L1431.80,1032.05 L1432.80,1032.29 L1433.30,1032.24 L1433.80,1032.47 L1434.30,1032.23 L1434.80,1032.47 L1435.30,1032.49 L1435.80,1032.46 L1436.80,1032.11 L1438.80,1032.14 L1439.30,1032.03 L1440.30,1032.09 L1440.80,1031.95 L1441.30,1032.00 L1441.80,1031.85 L1442.30,1031.91 L1442.80,1031.77 L1443.30,1031.91 L1444.80,1031.02 L1445.30,1031.08 L1446.30,1030.97 L1447.30,1030.62 L1448.30,1030.43 L1448.80,1029.96 L1449.30,1029.91 L1449.80,1029.50 L1450.30,1029.65 L1450.80,1029.02 L1451.30,1028.89 L1451.80,1028.52 L1452.30,1028.77 L1453.30,1029.03 L1453.80,1028.91 L1455.80,1028.98 L1456.80,1029.62 L1457.80,1029.89 L1458.30,1030.15 L1458.80,1030.67 L1459.80,1030.91 L1460.80,1031.35 L1461.80,1031.34 L1462.80,1031.59 L1463.80,1031.60 L1464.80,1031.86 L1465.30,1031.88 L1465.80,1031.78 L1466.30,1031.85 L1467.80,1032.47 L1468.80,1032.17 L1469.30,1031.74 L1470.80,1032.18 L1472.30,1031.77 L1472.80,1031.96 L1473.30,1032.32 L1474.30,1032.49 L1474.80,1032.24 L1475.80,1032.09 L1476.80,1032.41 L1477.30,1032.31 L1477.80,1032.42 L1478.30,1032.34 L1478.80,1032.45 L1479.80,1032.25 L1480.80,1031.66 L1481.30,1031.72 L1481.80,1031.99 L1482.80,1031.95 L1484.30,1032.23 L1484.80,1032.09 L1485.30,1032.40 L1485.80,1032.16 L1486.30,1032.16 L1486.80,1031.90 L1487.30,1032.24 L1487.80,1032.09 L1488.30,1032.30 L1488.80,1032.04 L1489.30,1032.16 L1489.80,1031.93 L1490.80,1032.12 L1491.80,1032.46 L1492.30,1032.43 L1492.80,1032.53 L1493.30,1032.39 L1493.80,1032.57 L1494.80,1032.30 L1495.30,1032.04 L1496.80,1032.39 L1498.30,1032.14 L1498.80,1032.15 L1499.30,1031.93 L1499.80,1032.11 L1500.30,1031.98 L1500.80,1032.21 L1501.30,1032.07 L1501.80,1032.10 L1502.80,1031.89 L1504.30,1032.55 L1505.30,1032.13 L1505.80,1032.09 L1506.30,1032.31 L1506.80,1032.32 L1507.30,1032.04 L1507.80,1031.59 L1508.30,1031.72 L1508.80,1031.61 L1509.30,1031.85 L1509.80,1031.73 L1510.30,1032.26 L1511.30,1031.96 L1511.80,1031.54 L1513.30,1031.51 L1513.80,1031.25 L1514.30,1030.72 L1514.80,1030.56 L1515.30,1030.46 L1515.80,1030.78 L1516.30,1030.47 L1516.80,1030.47 L1517.30,1030.10 L1517.80,1030.05 L1519.30,1030.20 L1521.30,1029.68 L1521.80,1030.05 L1522.80,1030.39 L1524.30,1030.37 L1524.80,1030.13 L1526.80,1030.94 L1527.30,1030.80 L1527.80,1031.01 L1528.30,1030.79 L1528.80,1030.97 L1529.30,1030.98 L1529.80,1031.41 L1530.30,1031.48 L1530.80,1031.46 L1531.30,1031.21 L1531.80,1031.67 L1532.80,1032.16 L1533.80,1032.22 L1534.80,1031.65 L1535.30,1031.49 L1535.80,1032.03 L1536.30,1031.93 L1536.80,1032.13 L1537.30,1031.83 L1537.80,1031.96 L1538.80,1031.98 L1540.80,1031.70 L1541.80,1031.83 L1542.80,1032.11 L1543.30,1032.06 L1543.80,1032.31 L1545.30,1031.92 L1547.30,1032.05 L1549.30,1031.88 L1549.80,1031.56 L1550.80,1031.20 L1551.30,1031.17 L1551.80,1030.99 L1552.80,1031.24 L1553.30,1031.18 L1553.80,1030.96 L1554.30,1030.59 L1555.30,1030.19 L1556.30,1030.29 L1556.80,1030.23 L1557.30,1029.94 L1557.80,1029.36 L1558.30,1029.21 L1558.80,1029.22 L1559.30,1029.50 L1560.30,1029.14 L1560.80,1029.22 L1561.30,1029.02 L1561.80,1028.98 L1562.30,1028.68 L1562.80,1028.69 L1564.30,1028.17 L1565.80,1028.57 L1566.80,1028.60 L1567.30,1029.13 L1568.30,1029.72 L1568.80,1029.56 L1569.30,1029.65 L1571.30,1030.83 L1571.80,1031.28 L1572.30,1031.48 L1573.80,1031.32 L1574.30,1031.62 L1574.80,1031.52 L1575.30,1031.63 L1575.80,1031.21 L1576.80,1031.38 L1577.80,1031.96 L1579.30,1031.71 L1579.80,1031.72 L1580.80,1032.23 L1581.30,1032.34 L1582.30,1031.86 L1583.30,1031.89 L1583.80,1031.79 L1584.80,1031.95 L1585.30,1032.14 L1585.80,1031.86 L1586.30,1031.75 L1586.80,1031.90 L1588.30,1031.98 L1588.80,1032.32 L1589.30,1032.38 L1589.80,1032.29 L1590.30,1032.00 L1591.30,1032.15 L1592.30,1032.10 L1593.80,1031.57 L1594.30,1031.67 L1594.80,1032.03 L1595.30,1032.22 L1595.80,1032.07 L1596.30,1031.77 L1597.30,1031.73 L1598.30,1031.49 L1598.80,1031.26 L1599.30,1031.42 L1599.80,1031.25 L1600.30,1031.23 L1601.30,1030.76 L1602.30,1029.50 L1603.30,1028.69 L1603.80,1028.00 L1604.30,1026.94 L1604.80,1026.26 L1605.80,1025.56 L1607.30,1022.63 L1607.80,1022.02 L1608.30,1021.76 L1608.80,1022.03 L1609.30,1021.91 L1610.30,1022.49 L1610.80,1023.41 L1612.30,1025.06 L1613.80,1027.51 L1614.30,1028.18 L1614.80,1028.62 L1615.30,1029.41 L1615.80,1029.96 L1616.30,1030.14 L1617.30,1030.70 L1617.80,1031.15 L1619.80,1031.42 L1621.30,1032.23 L1621.80,1032.20 L1622.30,1032.32 L1622.80,1032.17 L1623.30,1032.17 L1624.30,1032.47 L1624.80,1032.43 L1625.80,1031.82 L1626.30,1031.82 L1626.80,1031.97 L1627.30,1031.87 L1628.30,1031.87 L1628.80,1032.14 L1629.30,1032.06 L1629.80,1032.31 L1630.30,1032.38 L1630.80,1032.29 L1631.30,1031.91 L1631.80,1031.91 L1632.30,1032.15 L1632.80,1032.26 L1633.80,1032.07 L1637.00,1032.11" stroke="#ff0000" clip-path="url(#clipff0000)"/>
<clipPath id="clip008000"><rect x="0" y="459.0" width="1702" height="989.0"/></clipPath>
<path class="c" d="M131.30,888.46 L134.80,890.49 L135.80,891.39 L136.80,891.42 L137.80,892.01 L139.30,891.83 L139.80,892.06 L140.30,892.10 L141.30,892.48 L142.80,892.80 L143.30,893.00 L144.30,892.98 L144.80,892.86 L145.30,893.07 L145.80,892.94 L147.30,893.19 L149.30,892.88 L150.30,892.95 L150.80,893.25 L151.30,893.31 L152.30,893.09 L152.80,892.87 L153.30,893.11 L155.30,892.90 L155.80,893.25 L156.30,893.14 L156.80,893.26 L157.30,893.01 L157.80,893.11 L158.30,892.91 L158.80,893.22 L159.30,893.32 L159.80,893.71 L160.30,893.61 L160.80,893.65 L162.30,893.19 L163.80,893.30 L164.30,893.13 L164.80,893.25 L167.30,893.08 L167.80,893.15 L168.30,892.98 L168.80,892.94 L169.30,892.67 L169.80,892.94 L170.30,893.04 L170.80,893.08 L171.30,892.82 L171.80,892.91 L173.80,892.88 L174.30,892.99 L174.80,892.91 L175.80,893.02 L176.30,893.18 L176.80,893.17 L177.30,893.02 L177.80,892.64 L178.80,892.77 L179.30,893.02 L181.30,892.83 L182.80,893.01 L183.80,893.31 L184.30,893.11 L185.30,893.06 L185.80,893.13 L186.80,892.98 L187.30,893.02 L188.30,892.70 L188.80,892.77 L189.30,892.97 L190.80,893.18 L191.80,893.04 L192.30,892.77 L192.80,892.78 L193.30,892.62 L193.80,892.65 L194.30,892.82 L195.80,892.90 L196.80,893.08 L197.80,893.06 L198.80,893.18 L199.30,893.13 L200.30,892.79 L200.80,892.72 L201.30,892.73 L202.30,893.12 L202.80,893.02 L203.30,892.76 L204.80,892.95 L207.30,892.33 L207.80,892.73 L208.80,892.69 L209.30,892.45 L209.80,892.49 L210.30,892.40 L210.80,892.44 L211.80,892.77 L212.80,892.34 L213.30,892.26 L214.30,892.32 L214.80,892.09 L215.30,892.39 L216.30,892.63 L216.80,892.49 L217.30,892.52 L218.80,891.91 L219.30,892.25 L220.30,892.28 L220.80,892.18 L221.80,892.66 L222.30,892.58 L222.80,892.22 L224.30,892.20 L224.80,891.85 L225.80,892.16 L226.30,892.18 L226.80,891.98 L227.80,891.84 L228.30,892.14 L228.80,892.04 L229.30,891.82 L229.80,891.43 L230.80,891.63 L231.80,891.18 L232.30,891.20 L232.80,891.56 L235.35,891.36 L236.73,892.01 L239.16,892.08 L240.89,892.43 L241.24,892.41 L245.07,892.04 L251.09,891.73 L253.46,891.52 L254.81,891.25 L256.53,890.60 L257.86,889.89 L259.06,889.08 L260.06,888.23 L260.68,887.55 L261.43,886.42 L262.09,885.13 L263.42,881.75 L264.15,879.42 L264.75,877.03 L266.12,870.16 L267.01,864.27 L267.77,856.97 L268.61,846.15 L269.37,833.92 L270.55,810.85 L271.16,796.16 L272.06,767.48 L272.99,720.58 L274.15,673.00 L277.01,489.96 L277.46,477.03 L279.20,459.00 L280.56,472.58 L280.99,477.47 L281.10,480.00 L282.05,614.31 L282.99,698.30 L283.41,771.10 L283.68,787.90 L284.41,820.44 L284.70,840.74 L284.93,848.44 L285.50,857.18 L286.39,865.88 L286.88,869.01 L287.49,872.11 L288.29,875.50 L289.00,877.85 L289.91,880.16 L290.85,882.01 L292.00,883.79 L293.17,885.20 L294.19,886.14 L295.29,886.85 L296.86,887.58 L298.56,888.19 L301.61,889.04 L305.04,889.79 L308.16,890.31 L311.97,890.76 L313.71,891.13 L315.11,891.04 L315.46,891.12 L316.51,891.69 L317.21,891.77 L317.91,891.60 L318.30,891.38 L318.80,891.43 L319.30,891.31 L319.80,891.50 L320.30,891.36 L321.30,891.38 L322.30,891.04 L322.80,890.71 L323.30,890.59 L323.80,890.68 L324.80,890.50 L325.30,890.11 L325.80,889.87 L326.30,889.37 L327.80,886.98 L328.30,885.89 L328.80,884.45 L329.80,880.62 L330.80,875.72 L331.30,872.58 L334.30,850.53 L334.80,847.39 L335.30,845.07 L335.80,843.82 L336.30,843.63 L336.80,844.36 L337.30,846.00 L337.80,848.54 L341.30,874.30 L342.30,879.38 L343.30,883.52 L344.30,886.45 L345.30,888.62 L345.80,889.01 L346.80,890.06 L347.80,890.70 L348.30,890.86 L349.30,891.39 L349.80,891.41 L350.30,891.77 L350.80,891.85 L352.80,892.52 L353.30,892.21 L353.80,892.10 L354.30,892.10 L354.80,892.41 L355.80,892.57 L356.30,892.38 L356.80,892.45 L357.30,892.26 L357.80,892.46 L358.30,892.41 L359.30,892.50 L359.80,892.81 L361.30,892.67 L361.80,892.76 L362.30,893.07 L362.80,892.99 L363.30,893.07 L363.80,892.92 L364.30,893.12 L365.30,893.23 L366.80,892.66 L368.30,893.30 L369.30,893.05 L369.80,893.04 L370.30,892.87 L370.80,892.99 L371.30,892.87 L374.80,893.32 L375.80,892.86 L376.30,892.78 L377.30,893.51 L377.80,893.53 L378.30,893.52 L378.80,893.18 L380.30,893.15 L381.30,892.86 L381.80,893.02 L382.30,892.77 L383.30,892.79 L383.80,893.12 L384.80,893.17 L385.30,893.07 L387.30,892.98 L387.80,893.19 L388.30,893.12 L388.80,892.90 L389.30,892.51 L389.80,892.92 L390.80,893.27 L391.30,892.94 L391.80,892.85 L392.30,892.60 L393.30,892.85 L393.80,892.85 L394.80,892.56 L396.80,893.30 L397.80,893.40 L398.80,892.87 L399.30,892.83 L400.30,893.03 L401.30,892.35 L401.80,892.41 L402.80,892.82 L403.80,892.37 L404.30,892.41 L404.80,892.55 L405.30,892.90 L406.30,892.60 L406.80,892.21 L407.80,892.41 L408.30,892.36 L409.30,891.78 L409.80,891.61 L410.30,891.07 L410.80,890.76 L411.80,890.38 L412.30,889.91 L412.80,888.96 L413.30,888.73 L414.30,887.91 L416.80,882.53 L418.30,878.84 L419.80,874.43 L420.80,871.97 L421.80,870.77 L422.30,870.69 L422.80,870.70 L423.30,871.01 L424.30,872.48 L428.30,882.80 L430.80,887.87 L431.30,888.29 L431.80,888.89 L432.30,889.04 L432.80,889.40 L435.80,890.28 L436.80,890.01 L437.30,889.75 L438.30,889.98 L439.30,890.06 L440.30,889.51 L440.80,889.69 L441.30,889.75 L441.80,890.23 L442.30,890.36 L443.30,891.24 L444.30,891.82 L444.80,891.74 L445.80,891.94 L446.30,891.93 L446.80,892.23 L447.30,892.14 L448.30,892.24 L448.80,892.61 L449.30,892.71 L449.80,892.44 L450.80,892.64 L451.30,892.45 L451.80,891.96 L452.80,892.38 L453.30,892.45 L454.30,892.08 L454.80,891.76 L455.30,891.18 L456.30,890.38 L456.80,890.11 L457.80,889.24 L458.30,888.47 L459.80,885.28 L461.80,879.78 L463.30,874.91 L463.80,873.88 L464.30,873.44 L464.80,873.32 L465.30,873.36 L465.80,873.54 L466.30,874.33 L467.80,878.18 L469.30,882.96 L470.80,886.47 L472.30,889.17 L472.80,889.86 L473.80,890.82 L474.80,891.29 L475.30,891.25 L475.80,891.68 L476.30,891.85 L476.80,892.27 L477.30,892.37 L477.80,892.77 L480.30,892.62 L480.80,892.80 L481.30,892.80 L481.80,893.21 L482.30,893.15 L482.80,893.23 L483.30,893.09 L483.80,893.20 L484.30,893.11 L485.30,892.72 L486.80,893.24 L487.80,893.05 L488.80,893.44 L489.30,893.53 L489.80,893.24 L490.80,893.23 L491.80,893.56 L492.30,893.64 L492.80,893.50 L493.30,893.18 L494.30,893.41 L494.80,893.64 L496.30,893.27 L497.30,893.65 L498.30,893.27 L498.80,893.17 L499.80,893.50 L500.30,893.80 L500.80,893.81 L501.80,893.42 L503.80,893.39 L504.30,893.31 L506.80,893.33 L507.30,893.66 L508.30,893.72 L508.80,893.42 L509.30,893.32 L510.80,893.56 L511.30,893.20 L512.30,893.31 L512.80,893.61 L513.80,893.60 L515.30,893.23 L516.30,893.65 L517.80,893.50 L518.30,893.37 L518.80,893.00 L519.30,892.82 L519.80,892.79 L520.30,893.06 L521.30,893.11 L523.30,893.63 L524.80,893.47 L525.80,893.24 L526.30,893.24 L527.30,893.68 L527.80,893.60 L528.30,893.67 L529.30,893.45 L529.80,893.21 L531.80,893.45 L532.30,893.78 L533.30,893.71 L533.80,893.47 L534.30,893.73 L534.80,893.53 L535.80,893.51 L536.30,893.59 L536.80,893.40 L537.30,893.35 L538.30,893.62 L538.80,893.86 L539.30,893.71 L539.80,893.67 L540.30,893.34 L540.80,893.48 L541.80,893.39 L542.30,893.14 L542.80,893.02 L543.30,893.12 L543.80,893.45 L544.30,893.63 L545.30,893.21 L545.80,893.12 L547.80,893.41 L548.30,893.30 L548.80,892.97 L549.80,892.76 L550.30,892.96 L550.80,893.03 L551.80,893.04 L552.30,892.95 L552.80,893.32 L553.30,893.37 L554.30,892.96 L554.80,892.92 L555.30,893.09 L556.30,892.93 L557.30,893.03 L558.30,892.58 L558.80,892.26 L559.80,891.96 L560.80,891.91 L561.30,892.14 L561.80,892.18 L562.30,891.97 L562.80,891.25 L563.30,890.93 L564.30,890.52 L565.30,890.51 L566.30,890.85 L566.80,890.85 L567.30,890.73 L567.80,890.36 L569.30,890.16 L570.30,890.56 L570.80,890.54 L571.30,890.38 L571.80,890.43 L573.80,891.73 L574.80,891.98 L575.30,892.01 L575.80,892.24 L576.30,892.02 L576.80,892.23 L577.30,892.05 L577.80,892.22 L578.30,892.23 L578.80,892.43 L579.30,892.82 L580.30,892.74 L581.30,892.53 L581.80,892.85 L582.80,893.18 L583.80,892.77 L584.30,892.80 L585.80,892.61 L586.80,892.84 L587.30,892.69 L587.80,892.36 L588.30,892.52 L589.30,892.57 L589.80,892.27 L590.30,892.16 L590.80,892.52 L591.30,892.72 L592.30,892.65 L593.30,892.71 L593.80,892.15 L594.30,892.08 L594.80,892.11 L595.30,892.38 L595.80,892.17 L597.30,892.66 L599.30,892.00 L599.80,892.07 L600.30,891.92 L600.80,892.09 L601.30,891.91 L602.30,892.04 L602.80,892.23 L604.30,891.40 L604.80,891.30 L605.30,891.43 L605.80,891.24 L606.80,891.16 L607.30,891.28 L608.80,891.04 L610.30,890.13 L610.80,890.13 L611.80,889.63 L613.30,889.28 L613.80,889.07 L616.30,886.68 L617.30,885.41 L618.30,883.51 L618.80,881.98 L619.30,880.36 L620.30,875.87 L621.30,869.72 L622.30,861.34 L623.30,851.40 L626.30,811.09 L627.30,799.57 L627.80,795.67 L628.30,793.69 L628.80,793.20 L629.30,794.96 L629.80,798.49 L630.30,803.57 L633.30,844.06 L634.80,860.22 L636.30,872.59 L637.30,877.83 L637.80,879.82 L638.80,883.18 L639.80,885.08 L641.30,887.29 L641.80,887.82 L642.30,888.18 L642.80,888.34 L643.80,888.94 L644.30,889.38 L645.30,889.89 L646.30,889.85 L647.80,890.63 L648.30,890.67 L648.80,890.83 L649.30,890.73 L650.80,891.16 L651.30,891.21 L651.80,891.07 L652.30,891.28 L652.80,891.21 L653.80,891.36 L654.30,891.77 L655.30,891.94 L655.80,891.58 L656.30,891.74 L656.80,891.71 L657.30,891.84 L657.80,891.57 L658.30,891.51 L659.30,892.02 L660.30,892.21 L660.80,892.28 L662.30,891.90 L662.80,892.21 L663.30,892.22 L663.80,892.42 L664.30,892.33 L664.80,892.69 L665.80,892.59 L666.30,892.31 L666.80,892.35 L667.30,892.65 L667.80,892.62 L668.30,892.51 L668.80,892.21 L669.30,892.36 L669.80,892.36 L671.30,892.61 L672.30,892.32 L673.30,892.25 L674.30,892.74 L674.80,892.80 L675.30,892.65 L675.80,892.23 L676.30,892.21 L676.80,892.26 L677.30,892.52 L677.80,892.60 L678.30,892.66 L679.30,892.58 L679.80,892.67 L680.30,892.43 L680.80,892.34 L681.30,892.06 L681.80,892.20 L685.30,892.57 L686.30,892.23 L686.80,892.17 L688.30,892.70 L689.30,892.77 L689.80,892.53 L690.80,892.47 L691.30,892.78 L692.30,892.58 L692.80,892.28 L693.30,892.18 L693.80,891.89 L694.80,891.71 L695.30,891.94 L697.80,891.48 L698.30,891.02 L699.30,890.61 L699.80,890.54 L700.30,890.23 L700.80,889.77 L701.80,889.29 L702.30,889.17 L703.30,888.43 L704.30,887.40 L704.80,886.73 L705.80,885.97 L707.30,885.50 L707.80,885.26 L708.30,884.67 L708.80,884.53 L710.30,884.70 L710.80,884.57 L713.30,885.59 L713.80,886.31 L714.80,887.44 L715.80,887.95 L716.80,888.66 L717.80,889.23 L719.30,889.71 L720.30,890.39 L720.80,890.87 L721.80,891.11 L722.30,891.05 L723.30,891.62 L723.80,891.74 L724.80,891.36 L726.30,891.51 L726.80,891.30 L727.30,891.36 L728.30,891.26 L728.80,890.86 L729.80,889.59 L730.30,889.20 L730.80,888.98 L732.30,886.82 L732.80,886.45 L735.80,880.34 L737.30,877.01 L737.80,876.29 L738.30,876.18 L740.30,877.44 L741.30,879.15 L742.30,881.40 L743.30,883.08 L744.80,886.27 L746.80,889.27 L747.30,889.80 L749.30,891.13 L749.80,891.26 L750.30,891.21 L750.80,891.41 L751.80,892.07 L752.30,892.08 L752.80,892.25 L753.30,892.12 L753.80,892.18 L754.30,892.00 L755.80,892.42 L756.30,892.33 L756.80,892.06 L757.80,892.14 L758.30,892.32 L759.80,892.19 L760.80,892.56 L761.30,892.62 L762.80,892.50 L763.30,892.31 L764.30,892.54 L764.80,892.87 L765.80,892.66 L766.30,892.39 L766.80,892.50 L767.30,892.47 L767.80,892.67 L768.30,892.63 L768.80,892.72 L769.30,892.59 L769.80,892.68 L771.30,892.53 L771.80,892.61 L772.80,892.32 L773.30,892.30 L773.80,892.46 L775.30,892.11 L776.30,892.61 L777.30,892.92 L777.80,893.17 L778.30,892.89 L779.30,892.60 L779.80,892.62 L780.80,892.36 L781.80,892.94 L783.30,892.29 L784.30,892.61 L784.80,892.64 L785.30,892.91 L786.30,892.87 L786.80,892.67 L787.30,892.80 L787.80,892.65 L788.30,892.69 L788.80,892.47 L789.30,892.43 L790.30,892.67 L790.80,893.00 L793.30,892.66 L793.80,892.85 L794.30,892.67 L794.80,892.92 L795.30,892.69 L795.80,892.89 L796.30,892.71 L797.80,892.84 L798.80,892.52 L799.30,892.57 L799.80,892.39 L801.30,892.57 L801.80,892.42 L803.30,892.37 L803.80,892.20 L804.80,892.51 L805.30,892.50 L806.30,892.32 L807.80,892.20 L808.30,891.88 L808.80,891.82 L809.30,891.51 L810.80,891.32 L811.30,891.53 L812.30,891.34 L812.80,891.09 L813.30,890.99 L814.30,890.25 L814.80,890.08 L815.80,890.00 L816.30,889.75 L816.80,889.78 L817.80,889.26 L818.30,889.13 L818.80,889.35 L819.30,889.76 L820.80,889.84 L821.30,889.98 L821.80,890.41 L822.30,890.42 L823.30,890.16 L823.80,890.20 L825.30,890.73 L827.80,891.80 L828.30,891.88 L829.30,891.56 L829.80,891.51 L830.30,891.83 L831.80,892.07 L832.30,892.52 L832.80,892.63 L833.80,892.49 L835.30,892.57 L835.80,892.45 L836.30,892.52 L836.80,892.41 L837.30,892.63 L838.80,892.17 L839.80,892.44 L841.80,892.69 L842.30,892.51 L842.80,892.57 L843.30,892.36 L843.80,892.46 L844.30,892.43 L845.80,892.84 L846.30,893.10 L847.30,892.89 L847.80,892.64 L849.80,892.62 L850.30,892.54 L850.80,892.29 L851.80,892.39 L852.30,892.86 L852.80,892.90 L853.80,892.73 L854.80,892.71 L855.80,892.31 L856.30,892.33 L856.80,892.56 L858.30,892.28 L859.30,892.69 L859.80,892.38 L860.80,892.29 L861.30,892.58 L861.80,892.69 L863.30,892.34 L863.80,892.33 L864.30,892.12 L864.80,892.44 L865.80,892.64 L866.30,892.21 L866.80,892.39 L867.80,892.50 L868.30,892.18 L869.30,892.40 L869.80,892.81 L870.80,892.37 L871.30,892.28 L871.80,892.40 L872.30,892.77 L873.30,892.49 L874.30,892.48 L874.80,892.27 L875.80,892.29 L876.30,892.68 L876.80,892.51 L877.30,892.53 L878.30,892.12 L878.80,892.31 L879.30,892.26 L879.80,892.52 L881.30,892.77 L881.80,892.63 L882.30,892.71 L882.80,892.64 L883.30,892.73 L883.80,892.61 L884.30,892.63 L884.80,892.41 L885.30,892.58 L885.80,892.26 L886.30,892.36 L886.80,892.26 L887.30,892.56 L887.80,892.54 L888.80,892.87 L889.30,892.79 L890.30,892.02 L890.80,891.99 L892.30,892.55 L893.30,892.51 L894.80,892.30 L895.30,892.62 L895.80,892.71 L896.30,892.63 L896.80,892.04 L897.80,892.25 L899.30,892.81 L899.80,892.68 L900.30,892.34 L900.80,892.29 L901.30,892.59 L901.80,892.50 L902.80,892.72 L903.30,892.72 L904.30,891.90 L905.80,892.65 L906.80,892.35 L907.80,892.32 L908.80,892.05 L909.80,892.57 L910.30,892.61 L910.80,892.38 L911.30,892.46 L911.80,892.23 L912.30,892.31 L912.80,892.12 L913.30,892.31 L913.80,892.21 L914.30,892.37 L915.30,892.41 L916.80,892.39 L917.30,892.26 L917.80,892.36 L918.80,892.35 L919.30,892.22 L919.80,892.37 L920.30,892.38 L920.80,892.67 L921.30,892.42 L921.80,892.51 L922.30,892.25 L922.80,892.59 L923.30,892.32 L923.80,892.47 L924.30,892.17 L924.80,892.44 L925.30,892.36 L925.80,892.52 L926.80,892.19 L927.80,892.19 L928.80,891.82 L929.30,892.00 L930.30,892.61 L931.30,892.46 L932.30,892.47 L933.80,892.00 L934.30,892.11 L934.80,892.07 L936.80,892.48 L937.30,892.48 L938.80,891.79 L939.80,892.04 L941.30,891.88 L942.30,891.95 L943.80,890.90 L944.30,891.03 L945.30,890.67 L945.80,890.33 L947.80,889.92 L949.30,890.17 L950.80,890.10 L951.30,890.43 L951.80,890.57 L952.30,890.87 L952.80,890.61 L953.80,891.30 L954.30,891.88 L954.80,891.74 L955.30,891.76 L955.80,892.06 L956.80,892.13 L957.30,891.92 L957.80,892.07 L958.30,892.07 L958.80,891.91 L959.30,891.99 L959.80,891.81 L960.30,892.15 L961.30,892.23 L961.80,891.75 L962.30,891.66 L963.80,892.09 L964.80,892.08 L965.30,891.68 L965.80,891.60 L966.30,891.59 L967.30,891.88 L969.30,891.65 L970.80,890.82 L971.30,890.65 L973.80,888.48 L975.80,885.07 L979.30,876.37 L980.30,875.28 L981.30,874.47 L981.80,874.82 L982.80,876.51 L983.80,878.56 L985.30,882.51 L986.80,885.96 L989.30,889.49 L990.30,890.30 L990.80,890.60 L991.30,890.76 L991.80,890.77 L992.80,891.02 L993.30,891.40 L994.30,891.88 L994.80,891.74 L995.30,891.90 L995.80,891.69 L996.30,891.86 L996.80,891.86 L997.30,892.01 L997.80,891.86 L999.30,891.92 L1000.30,891.85 L1000.80,891.96 L1001.30,892.22 L1002.30,892.46 L1002.80,892.11 L1003.30,892.18 L1003.80,892.06 L1004.80,892.27 L1005.30,892.57 L1006.30,892.66 L1006.80,892.45 L1007.30,892.56 L1008.80,892.13 L1009.80,892.19 L1010.30,892.09 L1011.30,892.22 L1011.80,892.57 L1012.30,892.78 L1012.80,892.82 L1013.30,892.55 L1013.80,892.41 L1014.80,892.49 L1015.30,892.32 L1015.80,892.01 L1016.30,892.03 L1016.80,892.37 L1017.30,892.56 L1017.80,892.61 L1018.30,892.43 L1019.30,892.56 L1019.80,892.28 L1020.80,892.15 L1021.80,892.55 L1022.30,892.46 L1023.80,892.66 L1024.30,892.55 L1024.80,892.30 L1025.30,892.42 L1025.80,892.16 L1026.80,891.89 L1027.80,892.50 L1028.30,892.43 L1028.80,892.52 L1029.80,892.47 L1030.30,892.34 L1031.30,892.54 L1032.30,892.06 L1032.80,892.08 L1033.30,892.37 L1034.30,892.32 L1034.80,892.05 L1035.30,892.17 L1035.80,891.97 L1036.30,892.05 L1036.80,891.85 L1037.30,891.88 L1038.30,891.66 L1039.80,892.50 L1040.30,892.28 L1040.80,892.29 L1041.30,892.17 L1043.30,892.24 L1044.30,891.90 L1045.80,891.20 L1046.30,891.14 L1046.80,890.91 L1047.30,890.98 L1047.80,890.71 L1048.30,890.81 L1049.80,889.94 L1051.80,887.89 L1052.30,887.53 L1053.30,886.45 L1054.30,884.77 L1054.80,884.54 L1056.30,883.24 L1057.30,883.19 L1058.30,882.94 L1058.80,882.95 L1059.30,883.09 L1059.80,883.54 L1060.80,884.86 L1061.30,885.29 L1061.80,885.41 L1063.30,886.86 L1064.30,888.01 L1064.80,888.79 L1066.30,889.86 L1068.30,891.02 L1068.80,891.51 L1069.80,891.68 L1070.30,891.45 L1071.80,891.94 L1072.80,891.97 L1074.30,892.41 L1074.80,892.34 L1075.80,891.91 L1076.30,891.95 L1077.30,892.23 L1077.80,892.11 L1078.30,892.14 L1078.80,891.93 L1079.80,891.86 L1080.30,892.18 L1080.80,892.26 L1081.80,892.22 L1082.30,892.29 L1082.80,892.52 L1083.80,892.58 L1084.30,892.45 L1084.80,892.50 L1085.80,892.23 L1086.80,892.30 L1087.30,892.50 L1087.80,892.47 L1088.30,892.65 L1088.80,892.30 L1089.30,892.10 L1089.80,892.13 L1090.80,892.47 L1091.30,892.28 L1091.80,892.38 L1092.80,892.16 L1093.80,892.48 L1094.30,892.51 L1094.80,892.38 L1095.30,892.39 L1095.80,892.61 L1096.80,892.68 L1097.30,892.44 L1097.80,892.45 L1098.30,892.29 L1099.30,892.59 L1099.80,892.38 L1100.30,892.42 L1100.80,892.23 L1101.30,892.58 L1102.30,892.71 L1102.80,892.44 L1103.80,892.29 L1105.30,892.47 L1105.80,892.76 L1106.80,892.71 L1107.30,892.36 L1107.80,892.29 L1109.30,892.92 L1110.30,892.95 L1111.30,892.52 L1112.30,892.35 L1112.80,892.41 L1113.30,892.27 L1113.80,892.46 L1114.30,892.36 L1115.30,892.89 L1116.80,892.67 L1117.80,892.67 L1118.30,892.42 L1118.80,892.57 L1119.30,892.40 L1120.30,892.49 L1120.80,892.99 L1121.80,892.80 L1122.80,892.21 L1123.80,892.49 L1124.30,892.80 L1124.80,892.76 L1125.30,892.54 L1125.80,892.56 L1126.30,892.42 L1126.80,892.63 L1127.30,892.56 L1128.80,892.73 L1130.30,892.75 L1130.80,892.92 L1131.80,892.42 L1132.30,892.33 L1133.30,892.72 L1136.30,892.71 L1136.80,892.64 L1138.30,892.85 L1138.80,892.81 L1139.30,892.39 L1140.30,892.29 L1142.30,892.80 L1142.80,892.50 L1143.80,892.52 L1144.80,892.27 L1145.30,892.31 L1146.30,892.69 L1147.30,892.31 L1147.80,892.21 L1148.80,892.29 L1149.30,892.09 L1149.80,892.18 L1150.30,892.10 L1150.80,892.21 L1151.80,891.89 L1152.30,891.59 L1153.30,891.45 L1154.30,891.18 L1154.80,891.27 L1155.30,891.52 L1156.30,891.62 L1157.30,891.24 L1157.80,890.95 L1158.30,890.91 L1160.80,891.99 L1161.80,891.77 L1162.30,891.53 L1162.80,891.84 L1163.30,891.58 L1163.80,891.64 L1164.30,891.49 L1164.80,892.04 L1165.30,892.01 L1165.80,892.32 L1166.30,892.27 L1166.80,892.55 L1167.30,892.57 L1167.80,892.79 L1168.30,892.85 L1169.30,892.63 L1169.80,892.72 L1170.80,892.51 L1171.80,892.48 L1172.80,892.24 L1173.30,892.24 L1174.30,892.55 L1175.30,892.31 L1177.30,892.44 L1178.30,892.40 L1178.80,892.07 L1179.30,892.37 L1179.80,892.32 L1180.30,892.43 L1180.80,892.11 L1181.30,892.00 L1181.80,892.33 L1182.80,892.58 L1183.80,892.29 L1184.30,892.45 L1184.80,892.19 L1185.30,892.48 L1185.80,892.29 L1186.30,892.60 L1186.80,892.52 L1187.30,892.71 L1187.80,892.55 L1188.30,892.58 L1188.80,892.47 L1189.30,892.59 L1189.80,892.48 L1191.30,892.85 L1191.80,892.81 L1192.80,892.31 L1193.80,892.40 L1194.30,892.18 L1194.80,891.74 L1195.30,892.05 L1195.80,892.10 L1196.30,892.35 L1196.80,891.91 L1197.80,892.12 L1198.80,891.85 L1199.30,891.45 L1200.30,891.08 L1200.80,891.06 L1201.80,891.46 L1202.30,891.33 L1202.80,890.84 L1203.30,890.63 L1203.80,890.50 L1204.30,890.57 L1204.80,890.23 L1205.30,890.10 L1206.80,890.58 L1207.80,890.10 L1208.80,889.88 L1209.30,890.01 L1210.30,889.97 L1211.30,890.25 L1211.80,890.57 L1212.30,890.54 L1212.80,890.80 L1213.30,890.89 L1214.30,891.27 L1215.30,891.10 L1215.80,891.13 L1216.30,891.57 L1216.80,891.74 L1217.30,891.74 L1217.80,891.91 L1218.30,891.91 L1218.80,892.04 L1219.30,891.78 L1220.30,892.01 L1221.80,892.54 L1222.30,892.24 L1223.30,892.37 L1223.80,892.62 L1225.30,892.67 L1226.80,892.43 L1227.30,892.22 L1227.80,892.43 L1228.30,892.47 L1228.80,892.66 L1229.30,892.68 L1229.80,892.99 L1232.30,892.42 L1232.80,892.76 L1233.80,893.19 L1234.30,892.94 L1234.80,893.17 L1235.80,893.05 L1236.30,892.69 L1237.30,892.76 L1237.80,892.98 L1240.80,892.33 L1241.80,892.23 L1243.30,892.84 L1243.80,892.79 L1244.30,892.47 L1245.30,892.56 L1245.80,892.85 L1246.30,892.94 L1246.80,892.84 L1247.30,893.02 L1247.80,892.96 L1248.30,893.07 L1249.30,892.81 L1249.80,892.58 L1250.80,892.49 L1252.30,892.60 L1252.80,892.55 L1253.30,892.28 L1253.80,892.28 L1254.30,892.63 L1255.30,893.10 L1255.80,892.63 L1256.80,892.01 L1257.80,892.82 L1258.30,892.72 L1258.80,892.38 L1259.30,892.31 L1260.30,892.85 L1260.80,892.85 L1262.30,892.54 L1262.80,892.82 L1263.30,892.77 L1263.80,892.57 L1264.30,892.57 L1265.30,893.18 L1265.80,892.99 L1266.30,892.65 L1267.30,892.63 L1267.80,892.81 L1268.80,892.83 L1269.30,892.52 L1270.30,892.38 L1270.80,892.44 L1271.30,892.37 L1272.80,892.77 L1273.30,892.52 L1273.80,892.60 L1274.80,892.95 L1275.80,892.60 L1276.30,892.76 L1277.30,892.72 L1277.80,892.36 L1279.30,893.04 L1279.80,893.12 L1280.30,892.90 L1280.80,892.98 L1281.30,892.57 L1282.30,892.41 L1283.30,892.82 L1284.80,892.50 L1285.80,892.61 L1286.80,892.90 L1287.30,892.71 L1287.80,892.77 L1288.30,892.65 L1288.80,892.91 L1289.30,892.79 L1290.30,892.93 L1290.80,892.70 L1291.30,892.69 L1291.80,892.47 L1292.30,892.71 L1294.30,892.47 L1294.80,892.58 L1295.30,892.82 L1296.30,892.91 L1297.80,892.88 L1298.30,892.42 L1299.30,892.63 L1299.80,893.11 L1300.30,892.91 L1301.30,892.85 L1301.80,893.06 L1302.30,892.93 L1302.80,892.56 L1303.80,892.42 L1305.30,892.51 L1306.30,892.86 L1306.80,892.80 L1307.30,892.58 L1307.80,892.06 L1309.30,892.59 L1309.80,892.26 L1310.80,892.13 L1311.30,892.38 L1313.30,892.40 L1313.80,892.54 L1314.30,892.12 L1314.80,892.06 L1315.30,892.17 L1315.80,892.60 L1316.30,892.61 L1317.30,892.33 L1318.30,892.60 L1319.30,892.67 L1319.80,892.38 L1320.30,892.33 L1320.80,892.10 L1321.80,892.13 L1323.80,892.46 L1324.30,892.40 L1324.80,892.51 L1325.30,892.46 L1325.80,892.60 L1326.30,892.38 L1326.80,892.38 L1328.30,891.57 L1329.30,891.25 L1330.30,890.68 L1330.80,890.88 L1331.80,890.76 L1332.30,890.26 L1332.80,889.99 L1334.80,887.74 L1335.30,887.55 L1335.80,886.98 L1336.30,886.92 L1336.80,886.67 L1337.30,886.63 L1338.30,886.01 L1338.80,885.85 L1339.30,886.14 L1340.30,886.48 L1340.80,886.33 L1341.30,886.52 L1341.80,886.88 L1342.80,888.06 L1343.80,888.75 L1345.30,890.18 L1346.80,890.84 L1348.30,890.45 L1349.30,890.97 L1349.80,890.76 L1350.80,890.65 L1351.30,890.81 L1351.80,890.82 L1352.80,891.15 L1354.30,891.25 L1355.80,891.79 L1356.30,891.71 L1356.80,891.82 L1357.30,891.67 L1358.30,891.99 L1359.30,892.12 L1359.80,892.09 L1360.80,892.41 L1361.30,892.29 L1362.30,892.55 L1362.80,892.92 L1363.30,892.83 L1364.30,892.21 L1364.80,892.31 L1365.80,892.74 L1367.30,892.62 L1368.30,892.15 L1368.80,892.10 L1370.80,892.17 L1371.30,892.44 L1371.80,892.48 L1372.30,892.70 L1373.30,892.33 L1373.80,892.03 L1374.30,892.22 L1374.80,892.72 L1375.30,892.93 L1375.80,892.84 L1376.30,892.48 L1376.80,892.44 L1377.30,892.59 L1378.30,892.43 L1378.80,892.07 L1379.30,892.09 L1380.30,892.51 L1381.30,892.11 L1381.80,892.01 L1383.30,892.23 L1384.30,891.88 L1384.80,891.85 L1386.30,891.33 L1386.80,891.30 L1387.30,891.41 L1387.80,890.63 L1388.30,890.50 L1388.80,890.02 L1389.30,890.04 L1389.80,889.64 L1390.30,888.98 L1391.30,888.16 L1391.80,888.52 L1392.30,888.18 L1392.80,888.05 L1393.30,887.39 L1393.80,887.27 L1394.30,886.57 L1394.80,886.30 L1395.30,885.86 L1395.80,885.67 L1396.80,885.63 L1397.80,885.78 L1399.30,886.27 L1399.80,886.70 L1400.30,887.37 L1400.80,887.56 L1402.30,888.68 L1404.30,889.62 L1404.80,889.99 L1407.30,891.31 L1407.80,891.20 L1408.80,891.28 L1409.30,891.39 L1409.80,891.79 L1410.30,891.92 L1410.80,891.88 L1411.30,891.66 L1412.80,892.27 L1413.30,892.11 L1414.80,892.04 L1415.30,892.30 L1416.30,892.60 L1416.80,892.91 L1417.30,892.71 L1417.80,892.89 L1418.30,892.63 L1418.80,892.94 L1419.30,892.85 L1420.30,892.34 L1420.80,892.41 L1421.30,892.69 L1422.30,892.38 L1422.80,892.43 L1423.30,892.74 L1423.80,892.73 L1424.30,892.71 L1424.80,892.45 L1425.80,892.30 L1426.80,892.80 L1427.30,892.82 L1427.80,892.65 L1428.80,892.62 L1429.80,892.44 L1431.30,892.59 L1431.80,892.26 L1432.80,892.00 L1433.30,892.25 L1434.80,892.05 L1435.80,892.04 L1436.80,891.77 L1439.30,892.40 L1439.80,892.35 L1440.30,892.08 L1440.80,892.22 L1442.30,892.16 L1443.30,892.28 L1443.80,892.23 L1444.30,892.47 L1445.30,892.62 L1445.80,892.33 L1446.30,892.31 L1447.80,892.67 L1448.80,892.73 L1449.30,892.94 L1449.80,892.75 L1450.30,892.72 L1450.80,892.46 L1451.30,892.37 L1452.30,892.66 L1452.80,893.01 L1453.30,892.87 L1454.80,893.03 L1455.30,892.92 L1455.80,892.47 L1456.30,892.73 L1456.80,892.73 L1457.30,893.12 L1457.80,892.83 L1458.30,892.88 L1458.80,892.67 L1459.30,892.82 L1459.80,892.79 L1460.30,892.89 L1460.80,892.85 L1461.30,892.62 L1461.80,892.69 L1462.30,892.59 L1462.80,892.98 L1463.80,893.08 L1464.30,892.87 L1464.80,893.14 L1465.30,893.04 L1465.80,893.31 L1466.30,893.06 L1466.80,893.27 L1467.30,892.82 L1467.80,892.81 L1468.30,892.65 L1468.80,892.77 L1469.80,892.72 L1470.30,892.90 L1470.80,892.71 L1471.30,892.87 L1472.30,892.87 L1473.30,892.54 L1474.30,892.62 L1474.80,892.93 L1475.80,893.07 L1476.80,892.66 L1478.30,892.78 L1479.80,892.58 L1480.30,892.68 L1480.80,892.62 L1481.30,892.81 L1481.80,892.76 L1482.30,892.93 L1483.80,892.39 L1484.30,892.43 L1485.30,892.91 L1485.80,893.01 L1487.30,893.03 L1487.80,892.93 L1489.80,892.86 L1490.30,893.15 L1491.30,892.90 L1491.80,892.59 L1493.30,893.11 L1493.80,892.87 L1494.30,893.09 L1494.80,892.74 L1495.30,892.84 L1495.80,892.69 L1496.80,892.94 L1497.30,892.88 L1498.80,893.07 L1499.80,892.67 L1500.30,892.78 L1500.80,893.16 L1501.30,893.36 L1501.80,893.32 L1502.30,893.12 L1502.80,893.25 L1503.80,892.96 L1504.30,892.61 L1504.80,892.86 L1505.30,892.83 L1505.80,892.98 L1506.30,892.61 L1506.80,892.49 L1507.30,892.53 L1508.30,893.03 L1510.30,892.44 L1510.80,892.41 L1511.80,892.70 L1513.30,892.24 L1515.30,892.21 L1516.80,892.83 L1517.30,892.82 L1517.80,892.55 L1518.30,892.53 L1518.80,892.51 L1519.80,892.71 L1520.30,892.23 L1520.80,892.24 L1521.30,892.11 L1521.80,892.44 L1522.30,892.24 L1522.80,892.22 L1523.30,892.32 L1524.30,892.80 L1525.30,892.93 L1525.80,892.91 L1526.80,892.61 L1527.80,892.47 L1528.80,892.49 L1529.30,892.35 L1530.30,892.26 L1531.30,892.90 L1531.80,893.04 L1532.80,892.80 L1533.80,893.00 L1535.30,892.83 L1535.80,893.02 L1536.30,892.99 L1536.80,893.12 L1537.80,893.15 L1538.80,892.70 L1539.30,892.65 L1539.80,892.71 L1540.80,893.28 L1541.30,893.27 L1542.30,892.81 L1543.30,892.83 L1543.80,892.99 L1544.30,892.93 L1544.80,893.02 L1545.30,892.87 L1545.80,893.13 L1546.80,893.31 L1547.30,892.96 L1547.80,892.89 L1548.30,892.97 L1549.30,892.88 L1550.30,893.20 L1551.30,892.97 L1551.80,893.16 L1552.30,893.16 L1553.30,892.79 L1554.80,893.12 L1555.30,892.84 L1556.30,892.76 L1556.80,893.10 L1558.30,893.01 L1559.30,892.70 L1560.30,892.55 L1560.80,892.95 L1561.30,892.98 L1561.80,893.29 L1562.30,892.93 L1563.30,892.65 L1564.30,892.67 L1564.80,892.38 L1565.30,892.64 L1565.80,892.50 L1566.30,892.71 L1566.80,892.44 L1568.30,893.06 L1569.30,892.78 L1571.30,893.23 L1572.30,892.91 L1572.80,892.56 L1574.80,892.32 L1575.30,892.49 L1576.30,892.15 L1576.80,891.75 L1577.30,891.60 L1577.80,891.66 L1578.30,891.57 L1578.80,891.64 L1579.30,891.21 L1580.80,891.01 L1581.30,891.02 L1582.30,891.38 L1582.80,891.39 L1583.30,891.24 L1583.80,891.44 L1584.30,891.46 L1584.80,891.75 L1585.30,891.82 L1585.80,892.03 L1586.30,892.00 L1587.30,892.14 L1587.80,892.47 L1588.30,892.44 L1588.80,892.61 L1589.30,892.60 L1590.80,893.00 L1591.30,892.96 L1592.30,892.64 L1593.30,892.50 L1593.80,892.54 L1594.30,892.89 L1594.80,893.06 L1596.30,892.43 L1596.80,892.71 L1598.30,892.90 L1598.80,892.79 L1599.30,892.95 L1599.80,892.88 L1600.30,893.12 L1600.80,892.93 L1601.30,893.00 L1601.80,892.73 L1602.30,892.87 L1604.30,892.80 L1605.80,892.29 L1606.30,892.54 L1607.30,892.61 L1607.80,892.38 L1608.30,892.29 L1608.80,892.02 L1610.30,892.09 L1610.80,891.84 L1611.30,891.37 L1611.80,891.44 L1612.30,891.31 L1612.80,891.48 L1613.80,891.01 L1614.30,890.42 L1616.30,889.97 L1617.30,889.57 L1618.30,888.85 L1619.30,888.57 L1619.80,888.77 L1620.80,888.91 L1621.30,888.79 L1621.80,888.88 L1623.30,889.78 L1623.80,889.83 L1624.80,890.27 L1627.30,891.61 L1627.80,891.61 L1628.30,891.85 L1628.80,891.84 L1629.80,892.13 L1630.30,892.45 L1630.80,892.58 L1632.30,892.66 L1632.80,892.81 L1633.30,892.56 L1633.80,892.47 L1634.30,892.73 L1637.00,892.83" stroke="#008000" clip-path="url(#clip008000)"/>
<clipPath id="clip800000"><rect x="0" y="431.2" width="1702" height="1016.8"/></clipPath>
<path class="c" d="M131.30,666.14 L135.30,666.16 L135.80,666.05 L136.80,666.24 L137.30,666.07 L138.30,666.09 L139.30,665.99 L139.80,665.67 L140.30,665.68 L140.80,665.51 L141.30,665.71 L141.80,665.71 L142.30,665.96 L143.30,666.13 L143.80,665.80 L144.30,665.71 L144.80,665.73 L145.30,666.04 L146.80,665.74 L147.80,666.00 L148.80,666.11 L150.30,666.11 L150.80,666.01 L151.30,666.09 L151.80,665.95 L152.30,665.95 L152.80,666.10 L153.30,666.06 L153.80,666.15 L154.30,666.00 L155.80,666.32 L156.30,666.25 L156.80,666.02 L157.30,665.99 L158.30,666.18 L158.80,666.10 L159.80,666.29 L160.80,666.16 L161.30,665.93 L161.80,666.03 L162.30,665.86 L163.30,665.80 L164.30,666.25 L165.30,665.91 L167.30,665.71 L167.80,666.10 L168.30,666.24 L168.80,666.21 L169.80,665.90 L170.30,666.12 L171.30,666.10 L171.80,665.96 L172.80,666.00 L173.30,665.82 L174.30,665.80 L174.80,666.07 L175.80,666.20 L176.80,666.02 L177.30,666.14 L177.80,666.06 L178.30,666.17 L178.80,665.88 L179.30,665.92 L179.80,665.65 L180.80,665.48 L181.30,665.57 L182.30,666.13 L183.30,666.04 L183.80,665.79 L184.30,665.95 L186.30,666.05 L187.80,665.79 L188.80,665.83 L189.30,665.72 L189.80,665.96 L190.30,665.95 L190.80,666.06 L191.30,665.87 L191.80,665.83 L192.30,665.57 L192.80,665.50 L193.80,665.54 L194.30,665.77 L194.80,665.52 L195.30,665.86 L195.80,665.66 L196.30,665.96 L197.30,665.79 L197.80,665.84 L198.80,666.17 L200.30,665.68 L200.80,665.84 L201.30,665.79 L201.80,665.89 L202.30,665.66 L202.80,665.65 L203.30,665.50 L203.80,665.74 L204.30,665.79 L204.80,666.06 L206.80,665.60 L208.30,665.70 L209.30,665.47 L209.80,665.70 L210.30,665.78 L210.80,665.74 L211.30,665.58 L211.80,665.82 L212.80,665.70 L213.30,665.45 L213.80,665.41 L214.80,665.58 L215.30,665.80 L215.80,665.61 L217.30,665.65 L218.30,665.37 L219.80,665.78 L220.30,665.60 L221.30,665.50 L222.80,665.61 L223.30,665.53 L223.80,665.70 L224.80,665.83 L225.80,665.35 L226.30,665.41 L227.30,665.72 L228.30,665.63 L229.30,665.76 L229.80,665.60 L230.30,665.67 L230.80,665.40 L231.30,665.54 L231.80,665.41 L232.30,665.65 L233.30,665.86 L233.80,665.60 L234.30,665.15 L234.80,665.06 L236.06,665.28 L237.48,665.09 L238.88,665.34 L240.98,665.38 L245.14,665.19 L247.23,664.95 L249.68,664.42 L252.38,663.59 L254.93,662.61 L256.83,661.56 L258.62,660.28 L260.13,658.85 L261.08,657.54 L262.31,655.01 L264.46,649.36 L265.29,646.69 L266.18,642.96 L267.16,637.79 L267.97,632.24 L268.73,625.63 L269.19,619.70 L270.69,590.34 L271.85,551.86 L272.19,535.06 L273.03,474.52 L274.30,431.20 L275.62,536.54 L275.89,588.69 L276.09,608.99 L276.34,623.69 L277.17,647.12 L277.63,651.66 L278.19,654.84 L279.02,657.55 L279.41,658.41 L279.93,659.21 L280.62,660.00 L281.74,660.97 L282.67,661.63 L283.94,662.36 L286.80,663.44 L290.28,664.26 L294.45,664.75 L296.19,665.05 L296.89,664.97 L298.29,664.99 L299.35,665.18 L299.71,665.38 L300.80,665.64 L302.30,665.59 L302.80,665.46 L303.30,665.06 L303.80,665.09 L304.80,665.62 L305.30,665.50 L306.30,665.04 L307.80,665.34 L310.30,665.26 L311.80,665.56 L312.30,665.48 L312.80,665.03 L313.30,664.98 L313.80,664.71 L314.80,664.72 L315.30,664.99 L315.80,665.09 L316.30,664.72 L317.30,664.37 L318.30,664.73 L318.80,664.67 L319.30,664.27 L319.80,663.54 L320.80,662.56 L321.30,661.76 L321.80,660.72 L322.80,657.78 L323.80,653.70 L325.30,645.31 L325.80,643.08 L326.30,641.44 L326.80,640.76 L327.30,641.18 L327.80,642.85 L329.30,650.81 L330.30,655.53 L331.30,659.47 L332.30,662.06 L332.80,662.84 L333.30,663.34 L333.80,663.53 L334.80,664.35 L335.30,664.41 L336.30,664.73 L336.80,665.21 L337.80,665.03 L338.30,664.79 L338.80,665.19 L339.30,665.24 L339.80,665.61 L340.30,665.26 L340.80,665.33 L341.30,664.97 L342.80,665.21 L343.30,665.41 L344.30,665.39 L345.30,665.13 L345.80,665.26 L346.30,665.27 L348.30,665.12 L348.80,665.15 L349.30,665.39 L350.30,665.38 L350.80,665.20 L352.30,665.40 L352.80,665.70 L353.30,665.51 L353.80,665.62 L354.30,665.42 L355.80,665.46 L356.30,665.63 L357.80,665.36 L358.30,665.37 L358.80,665.62 L359.80,665.52 L360.30,665.20 L360.80,665.38 L362.30,665.16 L362.80,665.43 L363.30,665.46 L364.30,665.12 L364.80,665.16 L365.30,665.34 L367.30,665.41 L367.80,665.55 L368.30,665.36 L368.80,665.31 L369.30,665.04 L369.80,665.37 L370.30,665.48 L370.80,665.73 L371.30,665.50 L372.30,665.53 L372.80,665.77 L373.80,665.43 L374.30,665.07 L374.80,665.04 L375.80,665.53 L376.30,665.57 L377.30,665.17 L377.80,665.45 L378.30,665.28 L378.80,665.39 L379.30,665.09 L379.80,665.55 L380.30,665.35 L380.80,665.45 L381.30,665.14 L381.80,665.15 L382.80,665.62 L383.30,665.69 L384.30,665.09 L384.80,665.08 L385.80,665.40 L387.80,665.30 L388.80,665.81 L389.30,665.79 L390.30,665.31 L390.80,665.24 L392.30,665.18 L393.80,665.47 L395.30,665.14 L396.30,665.13 L397.30,665.29 L398.30,665.15 L398.80,664.97 L399.30,665.05 L400.30,664.89 L401.30,665.00 L401.80,665.21 L403.30,664.93 L404.30,664.88 L404.80,664.98 L405.30,664.83 L406.80,664.95 L407.30,664.82 L407.80,664.82 L408.30,664.58 L408.80,664.62 L409.30,664.51 L409.80,664.66 L410.30,664.56 L411.30,664.13 L412.30,663.91 L412.80,663.68 L414.80,661.44 L415.30,660.27 L416.30,656.72 L416.80,654.57 L418.30,646.51 L419.30,641.99 L419.80,641.13 L420.30,641.12 L420.80,642.22 L421.30,644.17 L422.80,651.88 L424.30,658.00 L424.80,659.70 L425.80,661.98 L426.80,663.05 L428.30,664.22 L428.80,664.36 L429.80,664.42 L430.80,664.27 L431.80,664.55 L432.30,664.84 L432.80,664.61 L433.80,664.55 L434.30,664.68 L434.80,664.48 L435.30,664.54 L436.30,665.12 L437.30,665.01 L437.80,665.07 L438.30,664.83 L439.30,664.81 L439.80,665.23 L440.30,665.46 L440.80,665.54 L443.30,665.16 L443.80,665.17 L444.30,665.47 L444.80,665.45 L445.80,665.11 L446.30,665.28 L446.80,665.27 L447.30,665.41 L447.80,665.11 L448.30,665.07 L448.80,664.83 L449.80,665.08 L451.30,664.29 L451.80,664.21 L452.30,663.90 L453.80,663.35 L454.30,662.73 L455.30,661.75 L455.80,661.46 L456.30,660.80 L456.80,660.38 L457.30,660.07 L457.80,660.04 L458.80,660.62 L460.30,661.77 L460.80,662.48 L462.30,663.67 L463.30,664.90 L463.80,664.97 L464.30,664.90 L465.30,665.06 L466.30,664.89 L467.30,665.05 L468.30,664.67 L469.80,665.15 L470.30,665.11 L470.80,665.29 L471.80,665.31 L473.30,664.97 L473.80,665.21 L474.80,665.30 L475.30,665.12 L475.80,665.10 L476.30,665.28 L477.80,664.91 L478.30,665.41 L478.80,665.65 L479.30,665.68 L479.80,665.47 L480.30,665.60 L480.80,665.59 L481.80,665.36 L482.80,665.57 L483.30,665.37 L484.80,665.79 L485.30,665.64 L485.80,665.20 L486.80,665.10 L487.30,665.39 L488.30,665.38 L488.80,665.13 L489.80,665.04 L490.30,665.20 L490.80,665.09 L491.30,665.13 L491.80,664.90 L492.30,665.12 L492.80,665.19 L493.30,665.60 L493.80,665.69 L494.30,665.66 L495.30,664.96 L495.80,664.81 L496.80,665.09 L497.30,664.99 L497.80,665.09 L498.30,664.90 L498.80,665.17 L499.30,665.12 L499.80,665.26 L501.30,665.13 L501.80,664.93 L502.30,664.99 L503.30,665.73 L503.80,665.89 L504.30,665.75 L504.80,665.43 L505.80,665.35 L506.30,665.42 L506.80,665.21 L508.30,665.21 L508.80,665.06 L509.30,665.07 L509.80,665.35 L510.30,665.47 L510.80,665.49 L511.30,665.28 L511.80,665.37 L512.80,665.17 L514.80,665.47 L515.80,665.35 L516.30,665.10 L516.80,665.36 L517.30,665.11 L517.80,665.09 L518.30,664.84 L518.80,665.15 L519.80,665.53 L520.30,665.26 L520.80,665.27 L521.30,665.06 L521.80,665.17 L522.30,665.14 L524.30,664.68 L525.30,664.90 L526.30,665.30 L526.80,665.16 L527.80,664.43 L528.30,664.18 L529.30,663.94 L530.30,663.44 L530.80,663.32 L531.30,663.33 L531.80,663.67 L532.30,663.74 L533.30,664.23 L533.80,664.58 L534.80,664.96 L535.30,664.99 L535.80,664.86 L536.80,664.83 L537.30,665.06 L537.80,664.94 L538.30,665.18 L539.30,665.21 L539.80,664.81 L540.30,664.77 L541.30,665.03 L542.30,665.01 L542.80,665.17 L543.30,665.07 L544.30,665.19 L544.80,665.59 L545.80,665.30 L546.30,664.89 L546.80,665.11 L547.30,665.02 L547.80,665.07 L549.80,664.88 L550.80,664.68 L551.30,664.69 L552.30,665.11 L553.30,664.87 L553.80,664.99 L554.30,665.26 L554.80,665.31 L555.30,665.11 L556.80,665.02 L557.30,664.84 L558.80,665.48 L559.30,665.25 L559.80,665.34 L560.30,665.12 L560.80,665.16 L561.80,665.51 L562.30,665.46 L562.80,665.15 L563.30,665.10 L563.80,665.30 L564.30,665.25 L565.30,664.82 L565.80,664.88 L566.80,665.29 L567.80,665.41 L568.30,665.12 L568.80,665.18 L569.80,665.55 L570.30,665.48 L570.80,665.24 L571.30,665.36 L572.80,665.02 L573.30,665.22 L576.80,664.92 L577.30,665.03 L579.80,665.03 L580.30,664.82 L581.30,665.33 L581.80,665.69 L583.30,665.10 L584.30,665.23 L584.80,665.05 L585.30,665.16 L585.80,664.97 L586.30,665.29 L587.80,664.96 L589.30,665.12 L590.30,664.70 L591.30,664.88 L591.80,665.15 L593.30,665.00 L594.30,664.74 L594.80,664.93 L595.30,664.84 L595.80,665.00 L596.30,664.77 L597.80,664.85 L598.30,664.81 L598.80,664.61 L599.30,664.72 L599.80,665.00 L603.30,664.66 L603.80,664.54 L604.80,664.58 L605.80,664.46 L607.30,664.76 L608.30,664.76 L608.80,664.89 L609.30,664.61 L609.80,664.59 L610.30,664.24 L610.80,664.51 L611.30,664.57 L611.80,664.32 L612.30,663.92 L612.80,663.73 L613.30,663.98 L613.80,664.11 L614.80,663.80 L616.30,663.50 L616.80,663.00 L617.30,662.92 L617.80,662.49 L618.30,662.66 L619.30,662.05 L620.80,660.72 L622.30,658.41 L622.80,657.34 L623.30,655.39 L623.80,652.75 L624.30,648.92 L624.80,643.93 L625.30,637.39 L626.30,619.89 L627.80,588.17 L628.30,580.93 L628.80,578.43 L629.30,581.01 L629.80,588.34 L631.30,619.71 L632.30,637.55 L633.30,649.28 L633.80,652.87 L634.30,655.44 L634.80,657.11 L635.80,659.52 L636.30,660.33 L636.80,660.82 L637.80,661.41 L638.30,661.50 L638.80,662.04 L639.30,662.22 L639.80,662.61 L640.30,662.72 L640.80,663.00 L641.30,663.06 L642.80,662.99 L643.30,663.17 L643.80,663.57 L644.80,664.02 L645.30,663.73 L645.80,663.94 L646.30,663.88 L646.80,664.08 L647.30,664.15 L647.80,664.43 L648.30,664.49 L648.80,664.46 L649.30,664.15 L650.30,664.14 L650.80,664.33 L651.30,664.21 L651.80,664.36 L652.30,663.90 L653.30,663.41 L653.80,663.37 L655.30,662.45 L655.80,662.52 L656.80,663.39 L657.30,663.48 L657.80,663.35 L658.30,663.41 L658.80,663.89 L660.30,664.30 L660.80,664.59 L661.30,664.69 L662.30,664.23 L663.30,664.09 L663.80,664.38 L664.30,664.40 L664.80,664.74 L665.80,665.10 L666.80,664.80 L667.80,664.86 L669.30,664.39 L669.80,664.69 L670.30,664.41 L670.80,664.47 L671.30,664.26 L672.30,664.68 L673.80,664.86 L674.30,664.57 L674.80,664.59 L675.30,664.37 L675.80,664.64 L676.80,664.64 L677.30,664.54 L678.30,664.75 L678.80,664.75 L679.80,665.12 L680.80,664.81 L681.30,664.83 L681.80,665.09 L682.30,665.07 L682.80,664.74 L683.30,664.57 L684.30,664.46 L684.80,664.60 L685.80,664.57 L686.30,664.33 L687.30,664.29 L689.30,664.72 L691.30,664.36 L691.80,664.42 L692.30,664.28 L692.80,664.45 L693.30,664.33 L693.80,664.34 L694.30,664.09 L694.80,663.97 L695.30,664.03 L695.80,663.96 L696.30,664.13 L698.30,663.22 L699.80,663.77 L700.80,663.18 L701.80,663.21 L702.30,663.11 L702.80,662.79 L703.30,662.77 L703.80,662.57 L704.30,662.01 L705.80,659.43 L706.80,656.75 L707.30,655.09 L708.80,648.98 L710.30,639.91 L711.30,634.71 L711.80,632.61 L712.30,631.20 L712.80,630.57 L713.30,631.21 L713.80,632.97 L716.80,649.65 L717.30,652.00 L718.80,657.24 L719.80,659.53 L720.30,660.16 L720.80,661.01 L722.80,662.48 L723.30,662.46 L724.30,662.63 L726.30,663.49 L726.80,663.44 L727.80,663.51 L728.30,663.66 L728.80,663.65 L729.30,663.38 L730.30,662.75 L731.30,661.93 L732.30,660.74 L733.80,658.00 L734.80,656.58 L735.80,654.76 L736.30,654.00 L736.80,653.83 L737.30,653.94 L737.80,654.55 L738.80,656.32 L740.30,658.52 L741.80,661.32 L742.30,661.80 L743.80,662.70 L744.30,662.51 L744.80,662.18 L747.30,661.40 L748.80,661.30 L749.30,661.49 L749.80,661.88 L750.80,662.99 L753.30,664.42 L754.80,664.67 L755.30,664.30 L756.30,664.06 L757.80,664.60 L758.30,664.68 L758.80,664.53 L759.30,664.64 L760.30,664.66 L760.80,664.45 L762.30,664.71 L763.80,664.52 L764.80,664.72 L765.30,664.74 L765.80,664.64 L766.30,665.06 L766.80,664.94 L767.30,665.12 L767.80,664.78 L768.30,664.85 L768.80,664.78 L769.80,665.06 L770.30,665.02 L771.30,664.63 L771.80,664.65 L772.80,665.03 L774.80,665.07 L775.80,664.44 L776.30,664.25 L776.80,664.62 L777.30,664.66 L777.80,664.98 L778.30,664.86 L778.80,665.17 L779.80,665.06 L780.80,664.72 L782.30,664.70 L782.80,664.87 L783.30,664.73 L783.80,664.77 L784.30,664.46 L784.80,664.69 L786.30,664.93 L786.80,664.64 L787.30,664.78 L787.80,664.61 L788.30,664.88 L789.80,664.36 L790.30,664.36 L790.80,664.86 L791.30,664.98 L791.80,664.99 L792.30,664.63 L793.80,665.12 L794.30,664.92 L794.80,664.51 L795.30,664.61 L796.30,665.23 L796.80,665.27 L797.80,664.80 L798.30,664.80 L798.80,664.58 L799.30,664.67 L799.80,664.53 L800.30,664.77 L801.30,664.83 L802.30,664.38 L803.80,664.23 L804.30,664.02 L805.80,663.80 L806.30,663.60 L807.30,663.94 L807.80,664.32 L809.30,663.76 L810.80,664.07 L811.30,664.09 L811.80,664.03 L812.30,663.72 L813.30,664.09 L813.80,664.13 L814.30,664.03 L814.80,664.10 L815.30,664.38 L815.80,664.46 L816.80,664.53 L817.80,664.33 L818.30,664.32 L818.80,664.48 L819.30,664.26 L819.80,664.18 L820.30,664.34 L820.80,664.79 L821.30,664.55 L821.80,664.77 L822.30,664.44 L822.80,664.81 L823.30,664.64 L823.80,664.89 L824.30,664.78 L824.80,664.48 L826.30,664.13 L827.30,664.54 L827.80,665.04 L828.30,664.58 L828.80,664.65 L829.30,664.60 L829.80,664.87 L830.30,664.67 L831.80,663.77 L832.30,663.68 L832.80,663.67 L833.80,663.91 L834.30,663.83 L834.80,664.12 L835.30,664.22 L835.80,664.14 L836.30,663.95 L836.80,663.57 L837.80,663.14 L838.80,662.52 L839.30,661.85 L840.30,661.10 L841.30,659.45 L843.80,652.31 L845.80,644.74 L846.80,642.60 L847.30,642.28 L847.80,642.42 L848.30,643.04 L848.80,644.15 L849.30,645.41 L852.30,656.27 L853.30,658.67 L853.80,659.51 L854.80,661.61 L855.30,662.38 L856.30,663.01 L856.80,663.01 L857.30,663.45 L858.30,663.35 L859.80,664.25 L860.80,663.86 L861.30,664.04 L861.80,663.89 L862.30,663.87 L862.80,663.95 L863.80,664.45 L864.30,664.43 L864.80,664.71 L865.30,664.50 L865.80,664.55 L866.30,664.05 L866.80,664.01 L868.30,664.51 L868.80,664.36 L870.30,664.22 L871.80,664.59 L872.30,664.59 L872.80,664.40 L873.30,664.36 L873.80,664.43 L874.80,664.96 L875.30,665.08 L875.80,664.95 L876.80,664.42 L877.80,664.23 L878.80,664.35 L879.30,664.56 L880.30,664.59 L880.80,664.36 L881.30,664.61 L881.80,664.70 L882.30,665.06 L882.80,664.96 L883.30,665.08 L883.80,664.84 L884.30,664.83 L884.80,664.98 L886.30,664.80 L886.80,665.00 L887.80,664.90 L888.80,664.73 L889.30,664.48 L889.80,664.47 L890.30,664.35 L891.80,664.67 L892.30,664.52 L892.80,664.74 L893.30,664.83 L893.80,665.10 L894.30,664.81 L894.80,664.66 L895.80,664.73 L896.30,664.54 L896.80,664.56 L897.30,664.87 L898.30,664.88 L898.80,664.57 L899.30,664.78 L899.80,664.83 L900.30,664.64 L901.30,664.68 L901.80,664.80 L903.30,664.54 L903.80,664.78 L904.30,664.65 L904.80,664.82 L905.30,664.47 L905.80,664.67 L907.80,664.18 L908.80,664.64 L910.30,664.54 L910.80,664.69 L911.30,665.01 L912.80,664.56 L913.80,664.89 L914.30,664.90 L915.80,664.55 L916.30,664.79 L916.80,664.80 L917.30,664.73 L917.80,664.43 L918.30,664.52 L918.80,664.74 L919.30,664.78 L921.30,664.27 L922.80,664.72 L923.80,664.91 L924.30,664.86 L924.80,664.97 L925.80,664.93 L926.30,664.76 L928.80,664.37 L929.80,664.33 L930.30,664.52 L930.80,664.33 L931.30,664.32 L931.80,664.37 L932.30,664.59 L932.80,664.49 L933.30,664.57 L933.80,664.41 L935.30,664.67 L936.30,664.61 L937.30,664.67 L937.80,664.56 L938.30,664.74 L939.80,664.12 L940.30,664.26 L941.30,664.27 L941.80,664.44 L942.30,664.44 L942.80,664.56 L944.30,664.59 L945.30,664.87 L946.80,664.41 L947.80,664.63 L948.80,664.58 L950.30,664.70 L950.80,664.44 L951.80,664.31 L952.30,664.70 L953.30,664.74 L953.80,664.41 L954.30,664.44 L955.30,664.67 L955.80,664.94 L956.30,664.88 L956.80,665.03 L957.30,664.82 L957.80,664.86 L958.30,664.52 L959.30,664.38 L959.80,664.52 L960.30,664.28 L960.80,664.39 L961.30,664.37 L961.80,664.58 L962.30,664.44 L963.30,664.55 L964.80,664.32 L965.80,664.55 L966.80,664.33 L967.30,664.36 L967.80,664.57 L968.30,664.53 L968.80,664.72 L969.80,664.74 L970.30,664.65 L971.80,663.94 L972.80,664.22 L973.80,664.35 L974.30,664.12 L974.80,664.22 L975.30,664.02 L975.80,664.17 L976.30,664.03 L976.80,664.02 L977.80,663.75 L979.30,663.96 L979.80,663.65 L980.80,662.81 L981.30,662.65 L981.80,662.12 L982.30,661.94 L982.80,661.35 L983.30,660.98 L983.80,660.34 L985.30,659.23 L985.80,658.75 L986.80,658.52 L987.30,658.53 L988.30,658.95 L988.80,659.40 L989.30,659.61 L992.30,662.80 L992.80,662.80 L993.80,663.34 L994.30,663.71 L994.80,663.89 L995.30,663.66 L995.80,663.93 L996.30,663.91 L996.80,664.36 L997.30,664.10 L997.80,664.30 L998.30,664.19 L998.80,664.53 L999.30,664.35 L999.80,664.32 L1000.30,664.51 L1001.30,664.53 L1001.80,664.23 L1002.30,664.22 L1003.30,664.70 L1003.80,664.74 L1004.30,664.40 L1004.80,664.33 L1005.80,664.86 L1006.30,664.87 L1007.30,664.52 L1007.80,664.21 L1008.30,664.15 L1009.30,664.38 L1009.80,664.82 L1010.80,664.72 L1011.30,664.54 L1012.30,664.89 L1013.30,664.48 L1014.30,664.67 L1015.30,664.49 L1016.30,664.53 L1017.30,664.26 L1018.30,664.48 L1018.80,664.71 L1019.30,664.76 L1020.30,664.47 L1020.80,664.49 L1021.30,664.73 L1021.80,664.81 L1022.80,664.46 L1023.80,664.39 L1024.30,664.24 L1025.30,664.29 L1025.80,664.52 L1026.30,664.22 L1027.30,664.05 L1028.30,664.37 L1028.80,664.23 L1029.30,664.36 L1029.80,664.17 L1031.30,664.44 L1031.80,664.38 L1032.30,664.51 L1032.80,664.41 L1033.30,664.62 L1033.80,664.41 L1034.30,664.68 L1034.80,664.58 L1035.30,664.66 L1035.80,664.38 L1036.30,664.55 L1036.80,664.31 L1038.30,664.47 L1039.80,664.41 L1041.30,663.73 L1041.80,663.89 L1042.80,663.87 L1043.80,663.40 L1045.30,663.36 L1045.80,663.11 L1046.30,663.18 L1046.80,663.09 L1047.80,663.47 L1048.30,663.43 L1048.80,663.60 L1049.30,663.60 L1049.80,663.74 L1050.80,663.50 L1052.80,664.03 L1053.80,664.41 L1054.80,663.88 L1055.30,663.71 L1055.80,663.66 L1056.30,663.76 L1056.80,663.45 L1057.30,663.34 L1058.30,662.89 L1060.30,661.68 L1061.30,661.41 L1061.80,661.57 L1062.30,661.49 L1062.80,661.80 L1063.30,661.77 L1063.80,661.98 L1064.30,662.36 L1065.30,662.75 L1065.80,662.68 L1066.30,662.92 L1066.80,663.55 L1067.80,664.17 L1068.30,663.93 L1069.30,664.12 L1069.80,664.53 L1070.80,664.50 L1071.30,664.35 L1072.80,664.23 L1073.30,664.09 L1074.30,664.28 L1074.80,664.51 L1075.30,664.28 L1076.30,664.49 L1076.80,664.78 L1078.30,664.66 L1078.80,664.46 L1079.30,664.52 L1079.80,664.41 L1081.30,664.61 L1081.80,664.60 L1082.30,664.43 L1082.80,664.46 L1084.30,664.30 L1085.30,664.39 L1085.80,664.32 L1086.30,664.63 L1087.30,664.93 L1087.80,664.68 L1088.30,664.79 L1089.30,664.77 L1089.80,664.54 L1090.30,664.54 L1090.80,664.72 L1091.30,664.68 L1091.80,664.90 L1092.30,664.62 L1092.80,664.71 L1093.30,664.34 L1093.80,664.66 L1094.30,664.54 L1094.80,664.65 L1095.30,664.54 L1095.80,664.73 L1096.80,664.46 L1097.30,664.14 L1098.80,664.44 L1100.30,664.26 L1101.30,664.63 L1102.30,664.41 L1102.80,664.18 L1103.30,664.47 L1103.80,664.37 L1104.30,664.40 L1104.80,664.22 L1105.30,664.42 L1106.30,664.55 L1107.30,664.47 L1107.80,664.30 L1108.80,664.39 L1110.30,664.72 L1111.30,664.39 L1111.80,664.43 L1112.30,664.73 L1112.80,664.74 L1113.80,664.16 L1115.30,664.22 L1115.80,664.13 L1117.80,664.48 L1118.30,664.45 L1118.80,664.63 L1119.80,664.52 L1120.30,664.33 L1120.80,664.58 L1121.30,664.65 L1121.80,664.61 L1122.30,664.40 L1122.80,664.41 L1123.80,664.82 L1124.30,664.90 L1124.80,664.77 L1125.80,664.22 L1126.80,664.34 L1127.30,664.82 L1127.80,664.80 L1128.80,664.13 L1129.80,664.23 L1130.80,664.14 L1131.80,664.41 L1132.30,664.35 L1133.80,664.40 L1134.30,664.14 L1134.80,664.10 L1135.30,664.24 L1136.80,664.29 L1137.80,664.46 L1138.30,664.23 L1139.80,664.65 L1140.80,663.99 L1141.30,664.05 L1141.80,664.44 L1142.30,664.57 L1142.80,664.57 L1143.30,664.26 L1144.30,663.98 L1144.80,664.06 L1145.30,663.87 L1146.80,664.06 L1147.30,663.77 L1147.80,663.64 L1148.30,663.70 L1148.80,663.59 L1149.80,663.78 L1150.80,664.23 L1151.80,664.26 L1152.80,663.94 L1153.30,663.97 L1154.80,664.18 L1156.30,664.71 L1157.30,664.55 L1157.80,664.64 L1158.30,664.58 L1158.80,664.75 L1159.30,664.47 L1159.80,664.44 L1160.30,664.05 L1161.30,664.22 L1161.80,664.56 L1162.80,664.46 L1163.30,664.24 L1163.80,664.23 L1164.30,664.09 L1164.80,664.14 L1165.30,664.01 L1165.80,664.17 L1166.30,664.16 L1166.80,664.29 L1167.80,663.98 L1168.30,664.28 L1168.80,664.24 L1169.30,664.59 L1169.80,664.43 L1170.30,664.55 L1170.80,664.22 L1171.30,664.27 L1171.80,664.51 L1172.30,664.53 L1173.30,664.28 L1174.30,664.70 L1174.80,664.50 L1175.30,664.52 L1175.80,664.12 L1176.30,664.43 L1177.30,664.15 L1177.80,663.87 L1178.30,663.93 L1178.80,664.42 L1179.80,664.38 L1180.30,664.21 L1180.80,664.43 L1181.80,664.44 L1184.30,663.92 L1184.80,664.03 L1185.30,663.82 L1185.80,664.02 L1186.30,663.94 L1186.80,664.03 L1187.80,663.46 L1188.80,663.41 L1189.80,663.05 L1190.80,662.14 L1191.30,661.34 L1191.80,660.92 L1192.80,659.61 L1193.80,657.97 L1195.30,654.50 L1196.80,653.51 L1197.80,653.06 L1198.80,654.29 L1202.30,660.56 L1202.80,661.09 L1203.80,661.80 L1204.80,662.87 L1205.80,663.31 L1206.30,663.42 L1206.80,663.77 L1207.80,664.07 L1208.80,664.23 L1209.30,664.16 L1209.80,664.35 L1210.30,664.05 L1210.80,664.17 L1211.30,663.95 L1211.80,664.16 L1212.80,663.74 L1213.30,663.74 L1213.80,663.79 L1214.30,664.09 L1214.80,663.97 L1215.30,664.23 L1215.80,664.22 L1216.30,664.37 L1216.80,664.13 L1217.80,663.91 L1219.30,664.16 L1220.80,663.95 L1222.30,664.59 L1222.80,664.54 L1223.30,664.12 L1224.30,663.72 L1224.80,664.01 L1225.30,664.09 L1225.80,664.30 L1226.30,664.14 L1227.30,664.41 L1228.30,664.35 L1228.80,664.09 L1229.30,664.28 L1230.30,664.16 L1230.80,663.89 L1231.30,663.85 L1231.80,664.04 L1232.30,664.51 L1233.30,664.62 L1233.80,664.35 L1235.30,664.13 L1235.80,664.18 L1236.30,664.45 L1236.80,664.25 L1237.30,664.38 L1237.80,664.19 L1238.30,664.35 L1240.80,664.48 L1241.30,664.22 L1242.30,664.54 L1242.80,664.90 L1243.30,664.85 L1243.80,664.40 L1244.80,664.05 L1245.80,664.28 L1246.80,664.34 L1247.30,663.99 L1248.30,664.10 L1248.80,664.24 L1249.30,664.17 L1249.80,664.39 L1250.80,664.29 L1251.30,663.97 L1252.30,664.63 L1252.80,664.77 L1253.80,664.24 L1254.80,664.30 L1255.30,664.53 L1256.30,664.69 L1257.30,664.51 L1257.80,664.69 L1258.30,664.48 L1258.80,664.54 L1259.30,664.30 L1261.30,664.20 L1262.30,663.91 L1263.30,664.63 L1263.80,664.82 L1264.30,664.79 L1264.80,664.49 L1267.30,664.09 L1267.80,664.18 L1269.30,664.22 L1269.80,664.47 L1272.80,664.18 L1274.30,664.65 L1274.80,664.35 L1275.80,664.02 L1276.30,664.25 L1277.30,664.23 L1278.30,664.38 L1278.80,664.30 L1280.30,664.53 L1280.80,664.47 L1281.30,664.26 L1281.80,664.47 L1283.80,664.08 L1285.30,664.36 L1285.80,664.27 L1286.30,663.81 L1286.80,663.82 L1287.30,663.66 L1287.80,664.13 L1288.30,664.25 L1288.80,664.51 L1289.80,664.28 L1291.80,664.06 L1293.30,664.56 L1293.80,664.39 L1294.30,664.40 L1294.80,664.27 L1296.30,664.49 L1297.30,664.16 L1297.80,664.33 L1299.30,664.41 L1300.30,664.67 L1300.80,664.45 L1301.30,664.60 L1301.80,664.58 L1302.30,664.69 L1303.80,663.95 L1304.30,664.02 L1305.30,664.36 L1306.30,663.95 L1307.30,663.91 L1308.30,664.36 L1308.80,664.88 L1309.30,664.87 L1309.80,664.66 L1310.80,663.70 L1311.80,663.78 L1312.30,664.31 L1313.30,664.55 L1314.30,664.46 L1314.80,664.56 L1315.80,664.27 L1316.30,663.93 L1317.80,664.72 L1318.30,664.38 L1319.30,664.12 L1319.80,664.28 L1321.30,664.26 L1321.80,664.39 L1322.80,664.36 L1323.80,664.16 L1324.30,664.30 L1325.30,664.36 L1326.30,664.07 L1326.80,664.14 L1327.30,664.06 L1327.80,664.32 L1328.80,664.18 L1329.80,663.87 L1330.30,663.97 L1330.80,663.94 L1332.30,664.34 L1332.80,664.20 L1333.30,664.26 L1333.80,664.12 L1335.30,664.28 L1335.80,664.23 L1336.30,664.02 L1337.80,664.20 L1338.30,664.08 L1338.80,664.08 L1339.30,664.39 L1339.80,664.42 L1340.30,664.37 L1341.30,663.77 L1342.30,663.50 L1342.80,663.90 L1343.80,663.67 L1344.30,663.37 L1345.80,663.10 L1346.30,662.78 L1346.80,662.68 L1347.30,662.64 L1347.80,662.91 L1348.30,662.90 L1349.30,662.55 L1350.80,662.66 L1352.30,662.43 L1353.30,662.71 L1353.80,662.72 L1354.30,662.57 L1355.30,662.59 L1355.80,662.98 L1359.30,664.36 L1360.80,664.08 L1361.30,664.30 L1361.80,664.31 L1363.30,663.88 L1364.30,663.95 L1365.30,663.85 L1366.80,664.28 L1367.30,663.98 L1368.30,663.79 L1368.80,664.02 L1369.30,664.04 L1369.80,664.22 L1370.80,664.28 L1371.30,664.17 L1371.80,664.27 L1372.30,664.21 L1372.80,664.34 L1373.80,664.38 L1374.30,664.25 L1374.80,664.26 L1375.80,664.46 L1377.30,664.32 L1377.80,664.43 L1378.30,664.31 L1378.80,664.05 L1379.80,664.06 L1380.30,664.16 L1381.30,663.84 L1381.80,664.22 L1382.30,664.29 L1383.80,663.85 L1384.30,664.24 L1385.80,663.48 L1386.30,663.52 L1386.80,663.67 L1387.30,663.34 L1387.80,663.36 L1388.30,663.52 L1389.30,663.45 L1389.80,663.07 L1390.30,663.47 L1393.30,662.46 L1394.30,661.99 L1395.80,662.14 L1396.80,661.79 L1397.80,661.69 L1399.30,662.46 L1400.30,662.75 L1401.80,662.95 L1402.30,662.89 L1402.80,663.26 L1403.80,663.61 L1404.30,663.41 L1405.30,663.44 L1405.80,663.75 L1408.80,664.16 L1409.30,664.06 L1409.80,664.12 L1410.30,664.01 L1411.80,663.94 L1412.80,664.46 L1413.80,664.47 L1414.30,664.29 L1414.80,664.37 L1415.30,664.28 L1415.80,664.33 L1416.30,664.57 L1418.30,664.11 L1418.80,664.22 L1419.30,663.71 L1420.30,664.01 L1420.80,664.47 L1421.80,664.57 L1422.80,664.47 L1423.30,664.18 L1424.30,664.15 L1424.80,664.29 L1426.30,664.02 L1427.80,664.06 L1428.80,663.79 L1429.30,664.05 L1429.80,664.06 L1430.30,664.21 L1430.80,664.08 L1431.30,664.33 L1432.80,663.99 L1433.30,664.23 L1434.30,664.03 L1434.80,664.05 L1435.80,664.45 L1436.80,664.16 L1437.30,664.13 L1437.80,664.30 L1438.30,664.10 L1438.80,664.10 L1439.30,663.98 L1441.80,664.10 L1442.30,663.91 L1443.30,663.92 L1444.30,664.21 L1445.80,663.59 L1446.30,663.74 L1446.80,664.13 L1447.30,664.12 L1448.80,663.43 L1449.30,663.30 L1450.30,663.53 L1450.80,663.74 L1451.30,663.45 L1451.80,663.60 L1452.30,663.52 L1452.80,663.60 L1453.30,663.27 L1453.80,663.09 L1454.30,663.15 L1455.30,663.78 L1456.80,663.53 L1458.30,664.07 L1458.80,663.99 L1460.30,664.21 L1460.80,663.98 L1461.30,664.01 L1462.30,664.30 L1463.30,664.10 L1464.30,664.39 L1464.80,664.10 L1465.30,664.05 L1465.80,663.84 L1467.30,664.05 L1468.30,664.56 L1468.80,664.69 L1469.30,664.68 L1469.80,664.20 L1470.80,663.82 L1473.30,663.91 L1474.30,663.68 L1475.30,664.03 L1475.80,664.32 L1476.30,664.39 L1477.30,664.30 L1477.80,664.00 L1478.30,664.31 L1479.30,664.52 L1479.80,664.11 L1480.80,663.81 L1481.80,663.90 L1482.30,664.14 L1483.30,664.20 L1483.80,664.06 L1484.30,664.15 L1484.80,663.98 L1486.30,663.96 L1486.80,664.29 L1487.30,664.17 L1487.80,664.53 L1488.30,664.17 L1488.80,664.31 L1489.30,663.92 L1490.30,663.84 L1490.80,664.07 L1491.80,664.20 L1492.30,664.02 L1492.80,664.19 L1493.30,664.09 L1493.80,664.26 L1494.30,664.02 L1494.80,664.17 L1495.30,664.17 L1495.80,664.33 L1496.80,663.74 L1497.30,663.63 L1498.30,663.98 L1498.80,664.01 L1499.30,663.88 L1499.80,664.11 L1500.30,664.20 L1501.30,664.17 L1502.30,664.34 L1503.80,663.72 L1504.30,663.73 L1505.30,664.07 L1506.30,664.25 L1506.80,664.23 L1507.80,663.76 L1508.80,663.67 L1509.30,663.85 L1509.80,663.88 L1511.30,663.81 L1511.80,663.98 L1512.80,664.10 L1514.30,663.96 L1514.80,664.21 L1515.80,664.39 L1516.30,664.33 L1516.80,664.59 L1517.30,664.35 L1517.80,664.42 L1518.30,664.26 L1518.80,664.32 L1519.30,664.05 L1521.30,664.23 L1522.80,663.98 L1523.80,664.40 L1524.30,664.18 L1525.30,664.15 L1525.80,664.49 L1526.30,664.21 L1526.80,664.17 L1527.30,663.93 L1528.30,663.77 L1529.30,664.08 L1530.30,664.04 L1531.30,664.42 L1532.30,664.09 L1533.30,664.11 L1534.30,664.00 L1534.80,664.27 L1535.30,664.22 L1536.30,663.44 L1536.80,663.46 L1537.80,664.00 L1538.30,664.10 L1539.80,663.87 L1540.30,663.95 L1540.80,663.85 L1541.30,664.28 L1541.80,664.38 L1542.30,664.36 L1542.80,663.91 L1543.80,663.66 L1544.80,663.64 L1545.30,663.94 L1545.80,663.97 L1546.30,663.95 L1546.80,663.68 L1547.30,663.57 L1548.30,663.76 L1548.80,664.02 L1549.30,663.92 L1549.80,664.04 L1550.30,663.89 L1550.80,663.91 L1551.30,663.49 L1551.80,663.23 L1552.30,663.24 L1552.80,663.56 L1553.30,663.64 L1553.80,663.52 L1555.30,662.68 L1555.80,662.70 L1556.80,662.56 L1557.30,662.28 L1558.80,662.05 L1560.80,662.30 L1561.80,662.57 L1562.30,662.58 L1562.80,662.46 L1563.30,662.53 L1563.80,662.34 L1564.30,662.75 L1564.80,662.73 L1565.30,663.21 L1565.80,663.07 L1566.30,663.29 L1566.80,663.28 L1568.30,664.05 L1569.30,664.18 L1569.80,663.93 L1570.30,664.01 L1572.30,663.88 L1573.30,664.04 L1574.30,663.88 L1574.80,663.93 L1575.30,663.79 L1576.30,663.91 L1577.80,663.68 L1578.30,663.81 L1578.80,664.21 L1579.30,663.81 L1579.80,664.18 L1580.30,664.06 L1580.80,664.48 L1582.30,663.92 L1582.80,664.05 L1583.30,663.87 L1584.80,663.97 L1586.30,663.83 L1586.80,664.01 L1587.30,664.04 L1587.80,664.01 L1588.80,663.73 L1589.30,663.84 L1590.30,663.86 L1590.80,664.05 L1591.30,663.96 L1591.80,664.16 L1592.30,664.04 L1592.80,664.22 L1593.30,664.04 L1593.80,663.98 L1594.30,663.74 L1595.30,664.04 L1595.80,664.43 L1596.30,664.52 L1596.80,664.43 L1597.30,664.15 L1597.80,664.04 L1598.30,664.00 L1598.80,664.19 L1599.30,664.25 L1599.80,664.14 L1600.30,663.87 L1601.30,664.02 L1602.30,664.00 L1603.30,663.85 L1604.30,663.38 L1604.80,663.47 L1605.30,663.33 L1605.80,663.44 L1606.30,663.19 L1606.80,663.37 L1607.80,663.41 L1608.30,663.08 L1608.80,663.04 L1609.30,662.83 L1609.80,663.05 L1610.30,663.10 L1611.30,663.52 L1612.30,663.68 L1612.80,663.50 L1613.30,663.47 L1614.30,663.73 L1614.80,663.66 L1615.80,663.70 L1616.30,664.02 L1616.80,663.99 L1617.80,663.59 L1618.80,663.99 L1619.30,663.98 L1619.80,663.82 L1620.80,663.72 L1621.30,663.41 L1621.80,663.27 L1622.80,663.80 L1623.30,663.97 L1624.30,664.06 L1624.80,663.83 L1625.80,663.60 L1626.30,663.70 L1626.80,663.67 L1627.80,663.87 L1628.80,663.72 L1629.30,664.00 L1629.80,664.05 L1630.80,663.69 L1631.80,664.15 L1632.30,663.98 L1632.80,664.03 L1633.30,663.88 L1634.30,663.99 L1637.00,663.99" stroke="#800000" clip-path="url(#clip800000)"/>
<clipPath id="clip8000ff"><rect x="0" y="15.7" width="1702" height="1432.3"/></clipPath>
<path class="c" d="M130.30,487.56 L133.80,487.88 L134.30,487.81 L134.80,487.58 L135.80,487.99 L136.30,488.59 L137.30,488.65 L137.80,488.31 L138.30,488.43 L138.80,488.38 L139.30,488.70 L139.80,488.53 L140.30,488.66 L140.80,488.33 L141.30,488.71 L141.80,488.72 L142.30,488.91 L143.30,488.72 L143.80,488.91 L144.30,488.72 L144.80,488.94 L145.30,488.76 L146.80,488.64 L147.30,488.97 L147.80,489.09 L148.30,489.38 L149.80,489.36 L150.80,489.55 L151.30,489.48 L151.80,489.27 L152.80,489.32 L153.30,489.68 L154.30,489.58 L154.80,489.34 L155.80,489.71 L156.80,489.51 L157.30,489.52 L157.80,489.78 L158.80,489.84 L159.30,489.68 L160.30,489.94 L160.80,489.87 L161.30,490.14 L161.80,490.14 L162.30,490.28 L162.80,489.91 L163.30,489.88 L164.30,490.18 L165.30,490.31 L165.80,490.07 L166.80,489.86 L167.80,490.26 L169.30,490.28 L169.80,490.59 L171.30,490.46 L172.30,490.76 L172.80,490.61 L173.30,490.65 L173.80,490.50 L176.30,491.18 L176.80,491.16 L177.80,490.78 L178.30,490.95 L178.80,490.87 L179.30,491.30 L179.80,491.05 L180.30,491.21 L180.80,490.95 L181.30,491.11 L181.80,491.04 L182.30,491.31 L182.80,491.28 L183.30,491.39 L183.80,491.12 L184.80,491.12 L185.30,491.44 L185.80,491.54 L186.30,491.38 L186.80,491.36 L187.30,490.99 L187.80,491.39 L188.30,491.00 L188.80,491.31 L189.30,491.25 L189.80,491.50 L190.30,491.38 L190.80,491.44 L191.30,491.23 L191.80,491.20 L192.80,491.35 L193.30,491.56 L193.80,491.50 L194.80,491.61 L195.30,491.54 L197.30,491.83 L197.80,491.81 L199.30,491.30 L200.80,491.90 L201.80,491.33 L202.30,491.38 L202.80,491.66 L204.30,491.89 L205.80,491.48 L206.80,491.78 L207.30,492.09 L207.80,492.16 L208.80,491.70 L209.80,491.63 L210.80,491.69 L211.30,491.93 L212.30,491.88 L213.30,492.02 L214.30,491.64 L214.80,491.64 L215.30,491.80 L215.80,491.78 L216.30,491.58 L216.80,491.79 L217.80,491.95 L219.30,491.77 L220.30,491.07 L221.80,491.92 L222.30,491.74 L223.30,492.02 L223.80,491.83 L224.30,491.95 L224.80,491.55 L226.40,492.10 L228.15,492.11 L230.93,491.89 L234.75,491.44 L241.02,490.48 L243.38,489.96 L245.08,489.47 L246.81,488.84 L248.12,488.23 L249.90,487.10 L250.50,486.52 L251.13,485.71 L251.89,484.48 L253.75,480.98 L254.35,479.71 L254.68,478.73 L255.33,476.01 L255.99,472.20 L257.15,463.18 L258.45,455.22 L258.85,451.75 L259.46,437.41 L260.45,418.89 L261.18,400.71 L262.26,364.32 L262.95,333.18 L263.97,244.63 L264.61,214.19 L266.52,95.91 L267.38,51.11 L267.80,15.70 L270.00,15.70 L270.93,40.53 L271.56,66.08 L272.29,143.42 L272.97,187.17 L273.63,216.91 L274.02,252.96 L275.07,327.50 L275.94,411.15 L276.23,424.44 L276.93,439.13 L277.85,451.69 L278.40,457.27 L278.95,461.79 L279.54,465.59 L280.22,469.05 L280.99,472.09 L281.76,474.39 L282.93,476.96 L285.26,481.38 L286.21,482.89 L287.08,483.89 L288.38,484.86 L289.94,485.69 L291.96,486.54 L296.57,488.28 L300.62,489.50 L304.04,490.09 L306.82,490.19 L307.87,489.86 L308.93,489.81 L310.80,490.04 L311.30,489.66 L311.80,489.69 L312.30,489.56 L313.30,489.58 L314.30,489.30 L314.80,488.91 L315.30,488.78 L316.30,488.04 L316.80,487.30 L317.30,486.84 L318.30,485.01 L318.80,483.81 L319.80,480.55 L320.30,478.36 L320.80,475.87 L321.80,469.68 L324.80,448.59 L325.30,446.03 L325.80,444.76 L326.30,444.33 L326.80,444.66 L327.30,446.13 L327.80,448.25 L328.80,454.86 L330.80,470.08 L331.80,476.25 L332.80,481.10 L333.80,484.47 L335.30,488.17 L335.80,488.96 L336.30,489.38 L337.30,489.62 L338.30,490.44 L339.30,490.96 L339.80,490.81 L340.30,490.93 L340.80,490.80 L341.30,491.05 L341.80,491.01 L342.30,491.32 L342.80,491.36 L343.30,491.62 L343.80,491.72 L344.30,492.09 L344.80,492.31 L345.30,491.96 L346.30,491.66 L346.80,491.89 L347.80,491.90 L348.80,492.17 L349.30,492.11 L349.80,491.89 L350.80,491.98 L351.30,492.29 L351.80,492.24 L352.30,492.42 L353.30,492.44 L353.80,492.61 L354.80,492.30 L355.80,492.67 L356.80,492.59 L357.30,492.42 L357.80,493.00 L358.30,493.04 L358.80,493.33 L359.80,492.80 L360.80,492.79 L361.30,493.04 L362.80,492.58 L364.30,492.90 L364.80,492.79 L365.30,493.06 L365.80,492.99 L366.30,493.18 L366.80,492.79 L367.80,493.10 L368.30,493.38 L368.80,493.27 L369.30,492.98 L370.30,493.10 L371.80,493.00 L372.80,493.15 L373.30,493.06 L373.80,493.33 L374.30,493.11 L374.80,493.21 L376.80,492.71 L377.30,493.05 L378.30,493.22 L378.80,493.13 L379.30,493.49 L379.80,493.46 L380.30,493.68 L381.80,492.85 L382.30,492.72 L382.80,492.86 L383.80,492.82 L384.30,493.09 L385.30,493.44 L385.80,493.42 L386.30,493.18 L386.80,493.20 L387.30,492.92 L387.80,493.10 L388.30,492.94 L388.80,493.00 L389.80,493.35 L390.30,493.34 L390.80,493.27 L391.80,492.56 L392.30,492.56 L393.30,493.29 L394.30,492.78 L394.80,492.83 L396.80,492.45 L397.30,492.60 L397.80,492.52 L398.30,492.71 L398.80,492.19 L399.30,491.94 L399.80,491.72 L400.80,491.50 L401.30,490.75 L401.80,490.30 L402.30,489.45 L402.80,489.09 L403.80,488.09 L405.80,484.67 L407.30,481.40 L409.30,475.60 L411.30,470.78 L411.80,470.06 L412.30,469.75 L413.30,469.50 L413.80,469.64 L414.30,470.15 L415.30,471.85 L416.30,473.90 L418.80,480.69 L420.30,483.74 L421.30,485.25 L422.80,486.87 L423.30,487.11 L424.30,486.84 L425.30,486.86 L425.80,486.68 L426.80,485.92 L427.30,485.76 L427.80,485.78 L429.30,485.38 L430.30,486.17 L430.80,486.69 L431.30,486.98 L432.30,488.09 L433.80,490.15 L434.30,490.53 L435.80,492.30 L436.30,492.54 L437.30,492.42 L437.80,492.63 L438.30,492.53 L439.30,492.55 L439.80,492.74 L440.30,492.75 L440.80,492.95 L441.30,492.88 L441.80,492.94 L442.30,492.71 L442.80,492.80 L443.30,492.69 L443.80,492.80 L444.30,492.77 L444.80,493.01 L445.30,492.63 L445.80,492.50 L446.30,491.93 L446.80,491.87 L447.30,491.67 L448.30,490.89 L450.80,486.82 L451.80,484.30 L453.80,478.48 L454.80,476.56 L455.80,475.78 L456.30,475.80 L456.80,475.98 L457.30,476.56 L458.30,478.79 L459.80,482.87 L461.80,487.65 L462.30,488.59 L464.30,491.71 L464.80,492.28 L465.30,492.69 L466.30,492.96 L466.80,493.30 L467.80,493.51 L468.30,493.47 L469.80,493.88 L470.80,493.67 L471.80,493.83 L473.30,493.85 L473.80,494.25 L474.30,494.18 L474.80,494.41 L475.30,494.01 L476.30,494.11 L477.30,494.51 L477.80,494.36 L479.30,494.18 L479.80,494.31 L480.30,494.26 L480.80,494.41 L481.30,494.39 L481.80,494.56 L482.30,494.91 L482.80,494.81 L483.30,494.91 L483.80,494.59 L484.80,494.58 L485.30,494.68 L486.80,494.44 L487.30,494.71 L488.30,494.64 L488.80,494.52 L489.30,494.63 L490.30,494.58 L490.80,494.45 L491.30,494.75 L491.80,494.34 L492.80,494.01 L493.80,494.70 L496.80,494.30 L497.30,494.55 L498.30,494.71 L499.30,494.42 L502.80,494.61 L503.80,494.58 L504.80,494.41 L505.30,494.57 L505.80,494.61 L506.30,494.54 L506.80,494.34 L507.30,494.40 L507.80,494.67 L508.30,494.68 L508.80,494.87 L509.30,494.80 L509.80,494.92 L511.30,494.78 L511.80,494.85 L512.30,494.57 L513.30,494.54 L513.80,494.71 L515.30,494.49 L515.80,494.53 L516.30,494.29 L516.80,494.53 L517.30,494.54 L517.80,494.70 L519.30,494.40 L519.80,494.56 L520.80,494.48 L521.30,494.56 L521.80,494.46 L522.80,494.51 L523.80,494.87 L524.30,494.62 L524.80,494.59 L525.80,494.29 L526.80,494.31 L527.30,494.54 L527.80,494.35 L528.30,494.54 L529.30,494.58 L529.80,494.39 L530.30,494.00 L531.30,494.16 L532.30,494.52 L533.30,494.63 L534.30,494.29 L534.80,494.29 L535.30,494.47 L535.80,494.79 L536.30,494.80 L537.30,494.36 L538.80,494.35 L540.30,494.20 L541.30,494.46 L541.80,494.72 L542.80,494.57 L543.30,494.20 L544.80,494.50 L545.30,494.51 L545.80,494.27 L546.30,494.41 L546.80,494.41 L548.30,493.86 L549.30,494.18 L550.30,494.17 L551.30,493.75 L552.80,493.61 L554.80,492.24 L555.30,492.03 L556.30,491.96 L556.80,491.79 L557.30,491.36 L558.30,491.20 L558.80,491.01 L559.30,491.02 L560.30,491.44 L560.80,491.30 L561.30,491.47 L562.30,492.18 L562.80,492.32 L563.30,492.21 L564.30,492.73 L564.80,493.24 L565.30,493.42 L565.80,493.77 L566.30,493.52 L566.80,493.73 L567.30,493.60 L568.30,493.72 L568.80,493.92 L569.80,494.10 L570.30,493.96 L571.30,493.94 L571.80,494.03 L573.80,493.60 L574.30,493.72 L574.80,493.67 L575.30,493.80 L575.80,493.75 L576.30,493.98 L576.80,493.90 L577.30,493.98 L578.30,493.84 L578.80,493.65 L580.30,493.53 L580.80,493.39 L581.30,493.12 L582.80,493.62 L583.30,493.30 L583.80,493.21 L584.80,493.48 L585.30,493.28 L585.80,493.26 L587.30,493.53 L588.30,493.22 L588.80,493.19 L589.30,493.24 L589.80,493.47 L590.30,492.85 L591.30,492.21 L591.80,492.52 L592.30,492.49 L593.30,492.00 L593.80,492.13 L594.30,491.98 L594.80,491.97 L595.80,491.41 L596.30,491.36 L597.30,491.77 L597.80,491.70 L598.30,491.35 L598.80,491.21 L599.30,490.76 L599.80,490.56 L600.30,490.16 L601.30,489.93 L601.80,489.97 L602.80,489.40 L603.30,488.96 L603.80,488.83 L604.30,488.35 L604.80,488.40 L605.80,487.57 L607.30,485.25 L608.30,482.88 L609.30,479.50 L610.30,475.01 L611.30,469.04 L611.80,465.05 L612.80,454.66 L613.80,442.60 L614.80,427.92 L616.80,395.43 L617.80,382.36 L618.30,377.91 L618.80,374.88 L619.30,374.03 L619.80,375.38 L620.30,378.97 L620.80,384.27 L621.30,390.98 L623.80,431.26 L624.80,445.79 L625.30,451.74 L626.80,466.30 L627.80,473.34 L628.80,478.41 L629.80,481.64 L630.80,484.36 L632.30,486.73 L633.30,487.93 L634.30,488.80 L634.80,489.09 L635.80,489.34 L636.30,489.77 L636.80,489.99 L637.30,489.73 L637.80,489.65 L638.80,490.55 L639.30,490.78 L640.30,490.80 L640.80,491.31 L641.30,491.15 L641.80,491.44 L642.30,491.32 L642.80,491.73 L643.80,491.71 L645.30,492.25 L646.30,492.29 L647.30,492.06 L648.30,492.07 L648.80,492.43 L649.30,492.60 L649.80,492.93 L650.80,492.41 L651.30,492.38 L652.30,492.83 L652.80,492.90 L654.30,492.44 L654.80,492.84 L655.30,493.00 L656.30,492.98 L657.30,493.33 L658.30,493.13 L659.30,493.30 L659.80,493.20 L660.30,492.86 L660.80,492.70 L661.30,492.96 L662.30,493.09 L662.80,492.94 L663.80,493.22 L665.30,493.30 L665.80,493.18 L666.30,493.22 L666.80,493.04 L667.80,493.31 L668.30,493.56 L668.80,493.57 L670.30,493.12 L671.30,493.05 L671.80,493.21 L672.30,493.17 L672.80,493.26 L673.30,493.10 L673.80,493.10 L674.30,492.84 L675.30,493.20 L676.30,493.38 L676.80,493.23 L677.30,493.25 L677.80,493.12 L678.80,493.16 L679.80,492.73 L680.30,492.63 L680.80,492.68 L681.30,492.88 L682.30,492.66 L683.80,493.21 L684.80,492.70 L685.30,492.57 L686.30,492.71 L686.80,492.55 L687.80,491.91 L688.30,491.74 L689.80,491.59 L690.30,491.17 L691.30,490.67 L691.80,490.15 L692.80,489.51 L693.30,489.38 L693.80,489.02 L694.30,488.32 L695.30,487.46 L695.80,487.26 L696.30,487.20 L697.30,486.78 L697.80,486.26 L700.30,484.95 L701.30,485.34 L701.80,485.78 L702.80,486.11 L703.30,486.12 L704.30,487.20 L704.80,487.60 L705.80,487.65 L706.80,488.74 L707.30,489.49 L707.80,489.65 L708.30,489.97 L708.80,490.02 L709.80,490.90 L711.80,491.65 L713.80,491.84 L714.30,491.64 L715.80,491.90 L716.30,491.89 L716.80,491.80 L717.30,491.50 L717.80,491.65 L718.30,491.33 L718.80,491.34 L719.30,490.73 L719.80,490.54 L721.30,488.77 L721.80,488.47 L722.30,487.90 L722.80,487.21 L724.80,483.81 L726.80,479.71 L727.80,478.37 L728.30,478.15 L728.80,478.08 L729.30,478.11 L730.30,478.56 L730.80,479.09 L731.80,480.86 L732.30,481.99 L735.30,487.31 L736.80,489.31 L737.80,490.23 L738.30,490.56 L738.80,490.70 L739.80,491.23 L740.30,491.80 L741.30,491.96 L742.30,492.23 L742.80,492.48 L743.80,492.51 L744.80,492.39 L745.30,492.64 L745.80,492.75 L746.30,492.67 L747.30,492.97 L747.80,493.35 L748.30,493.04 L749.30,492.63 L749.80,492.93 L750.80,493.13 L751.80,492.78 L752.30,492.86 L752.80,493.17 L753.30,493.31 L754.30,492.77 L755.30,492.67 L756.80,492.73 L757.30,492.85 L758.80,492.84 L759.80,493.40 L760.30,493.54 L762.30,493.37 L762.80,493.49 L763.30,493.36 L763.80,493.36 L764.30,492.95 L766.30,493.40 L766.80,493.12 L767.30,493.35 L767.80,493.11 L768.30,493.27 L768.80,493.04 L769.30,493.14 L769.80,493.08 L770.30,493.26 L770.80,493.18 L771.30,493.23 L771.80,493.07 L772.30,493.11 L773.30,493.03 L773.80,492.81 L774.80,492.78 L775.80,492.99 L776.30,492.85 L776.80,492.96 L777.80,493.40 L778.30,493.07 L778.80,492.90 L779.30,492.89 L779.80,493.10 L781.30,493.01 L783.30,493.09 L784.30,493.39 L785.80,492.96 L786.30,493.09 L788.30,493.20 L788.80,492.88 L789.80,492.54 L790.80,493.00 L791.30,492.96 L791.80,493.12 L793.30,492.93 L794.30,493.10 L795.30,492.82 L795.80,492.87 L797.30,492.60 L798.30,492.54 L799.80,491.89 L800.30,491.84 L800.80,492.20 L801.80,492.27 L802.80,491.49 L803.30,491.24 L804.30,491.22 L805.80,490.69 L807.30,490.93 L807.80,490.50 L808.80,490.12 L809.30,490.42 L809.80,490.32 L810.30,490.42 L810.80,490.21 L811.30,490.37 L811.80,490.30 L812.30,490.48 L812.80,490.46 L813.30,490.76 L813.80,490.91 L814.30,490.81 L815.30,491.06 L815.80,491.47 L816.30,491.69 L816.80,491.69 L817.80,491.49 L818.30,491.63 L818.80,492.08 L819.80,492.40 L820.30,492.30 L820.80,492.53 L821.80,492.75 L822.30,492.53 L822.80,492.61 L823.30,492.50 L823.80,492.55 L824.30,492.41 L824.80,492.62 L825.80,492.80 L826.30,492.68 L826.80,492.79 L828.30,492.42 L830.30,492.67 L830.80,492.53 L831.30,492.72 L831.80,492.76 L832.30,493.03 L832.80,493.00 L833.30,492.64 L834.30,492.53 L834.80,492.83 L836.30,493.05 L836.80,492.93 L837.30,492.53 L837.80,492.33 L838.30,492.36 L838.80,492.55 L839.80,492.74 L840.80,492.59 L841.80,492.64 L842.80,492.50 L844.30,492.61 L844.80,492.76 L845.80,492.87 L846.30,492.78 L846.80,493.00 L847.30,493.05 L847.80,492.76 L848.30,492.84 L848.80,492.64 L849.30,492.66 L849.80,492.27 L850.30,492.55 L850.80,492.68 L851.30,492.54 L851.80,492.59 L852.30,492.40 L852.80,492.85 L853.30,492.32 L853.80,492.49 L854.30,492.26 L854.80,492.49 L855.30,492.50 L856.80,492.80 L858.80,492.49 L859.80,492.77 L861.30,492.32 L861.80,492.44 L862.30,492.41 L862.80,492.13 L863.80,492.16 L864.30,492.63 L865.30,492.82 L865.80,492.39 L866.30,492.12 L867.80,492.20 L868.30,492.08 L868.80,492.21 L869.80,492.13 L870.30,491.84 L871.30,491.79 L871.80,492.20 L872.30,492.28 L872.80,492.05 L873.30,492.07 L874.30,492.75 L876.30,492.48 L876.80,492.34 L877.30,491.96 L877.80,491.91 L878.30,491.98 L878.80,492.46 L880.30,492.10 L881.30,492.35 L882.30,492.37 L883.80,492.36 L884.30,492.16 L885.30,492.26 L885.80,492.46 L886.80,492.38 L887.30,492.11 L888.30,492.00 L889.30,492.07 L890.80,492.52 L891.80,492.38 L892.30,491.99 L893.30,492.37 L893.80,492.71 L894.80,492.32 L895.80,492.11 L896.80,492.29 L897.30,492.60 L898.80,492.50 L899.30,492.56 L899.80,492.45 L900.80,491.95 L902.30,492.77 L903.30,492.64 L903.80,492.43 L904.30,492.66 L904.80,492.70 L905.30,492.94 L906.30,492.58 L906.80,492.52 L907.30,492.27 L907.80,492.46 L908.30,492.33 L908.80,492.56 L909.30,492.32 L909.80,492.34 L910.30,492.22 L912.30,492.61 L912.80,492.36 L913.30,492.25 L914.80,492.49 L915.30,492.26 L915.80,492.22 L916.30,492.24 L916.80,492.53 L918.80,492.33 L919.30,492.60 L920.30,492.44 L920.80,492.22 L921.80,492.53 L922.80,492.37 L923.30,492.18 L924.80,492.38 L925.80,492.02 L927.30,492.40 L928.30,492.54 L929.30,492.07 L929.80,492.02 L930.30,492.20 L931.30,492.20 L931.80,491.87 L932.30,491.83 L932.80,491.46 L933.30,491.64 L934.80,490.87 L935.30,490.42 L935.80,490.60 L936.30,490.47 L936.80,490.79 L937.80,490.49 L938.80,490.51 L939.80,490.13 L940.80,490.42 L941.30,490.44 L941.80,490.29 L942.30,490.39 L943.30,490.90 L943.80,491.33 L944.30,491.40 L944.80,491.73 L945.30,491.68 L945.80,491.91 L946.80,492.09 L947.30,492.01 L948.30,491.60 L949.80,492.06 L950.30,491.91 L951.30,491.88 L951.80,492.04 L952.80,492.04 L953.30,491.73 L954.30,491.48 L955.30,491.79 L955.80,491.53 L956.30,491.53 L956.80,491.20 L957.30,491.48 L957.80,491.27 L958.30,491.31 L958.80,491.08 L959.30,491.06 L959.80,490.85 L960.30,490.53 L960.80,490.41 L961.30,490.02 L961.80,489.81 L964.30,486.37 L965.80,482.85 L968.30,475.95 L969.80,472.72 L970.30,471.84 L970.80,471.03 L971.30,470.93 L972.30,471.40 L972.80,472.26 L973.30,473.39 L976.80,483.29 L977.80,485.71 L978.80,487.61 L979.80,488.70 L980.30,489.05 L981.80,490.40 L982.80,490.94 L983.30,490.88 L983.80,491.08 L984.80,491.90 L985.30,492.06 L986.80,491.85 L987.30,491.91 L987.80,491.64 L988.80,491.80 L989.30,492.30 L990.30,492.10 L990.80,491.82 L991.30,491.98 L991.80,491.78 L992.30,492.12 L992.80,492.09 L993.30,492.32 L994.80,492.40 L995.30,492.19 L995.80,492.19 L996.30,492.26 L996.80,492.46 L997.30,492.23 L998.30,492.51 L998.80,492.49 L999.30,492.11 L999.80,492.04 L1000.80,492.34 L1001.30,492.23 L1002.30,492.35 L1003.80,492.86 L1004.30,492.57 L1005.30,492.46 L1005.80,492.55 L1006.80,492.15 L1007.30,492.44 L1008.30,492.67 L1008.80,492.60 L1009.80,492.68 L1011.30,492.20 L1011.80,492.53 L1012.80,492.87 L1013.80,492.86 L1014.30,492.53 L1015.30,492.25 L1015.80,492.42 L1016.30,492.30 L1016.80,492.35 L1017.30,492.27 L1018.80,492.76 L1019.30,492.69 L1019.80,492.48 L1020.30,492.53 L1021.80,492.14 L1023.30,492.65 L1023.80,492.58 L1025.30,492.84 L1025.80,492.56 L1026.80,492.48 L1027.30,492.61 L1028.30,492.03 L1029.80,492.55 L1030.80,492.03 L1031.30,492.09 L1031.80,491.87 L1032.30,492.08 L1032.80,492.09 L1033.30,492.43 L1035.30,492.06 L1035.80,491.81 L1036.30,491.77 L1036.80,491.41 L1037.30,491.26 L1037.80,490.93 L1038.30,491.15 L1039.30,490.61 L1040.30,489.65 L1040.80,489.52 L1041.80,488.97 L1042.30,488.17 L1042.80,487.63 L1043.30,486.79 L1043.80,486.47 L1044.30,485.79 L1044.80,485.64 L1045.30,484.80 L1045.80,484.27 L1046.30,483.41 L1047.30,482.89 L1047.80,482.88 L1048.30,483.01 L1048.80,483.01 L1049.30,483.20 L1049.80,483.12 L1050.80,483.88 L1051.30,484.44 L1051.80,484.75 L1053.30,486.85 L1053.80,487.30 L1054.30,487.59 L1055.30,488.79 L1056.30,489.60 L1056.80,489.65 L1057.30,490.06 L1057.80,490.17 L1058.30,490.68 L1058.80,490.97 L1059.30,491.14 L1060.30,491.23 L1061.30,491.71 L1062.30,491.96 L1062.80,492.30 L1063.30,492.41 L1064.80,492.47 L1065.30,492.72 L1065.80,492.74 L1067.30,492.28 L1067.80,492.25 L1068.30,492.38 L1068.80,492.32 L1069.30,492.60 L1070.30,492.69 L1070.80,492.40 L1071.80,492.37 L1072.30,492.68 L1072.80,492.37 L1073.30,492.65 L1073.80,492.61 L1074.30,492.95 L1074.80,492.80 L1075.80,493.07 L1077.30,492.65 L1077.80,492.85 L1078.30,492.65 L1078.80,492.62 L1079.30,492.35 L1079.80,492.76 L1080.80,492.85 L1081.30,492.61 L1081.80,492.76 L1082.30,493.10 L1082.80,493.21 L1083.30,492.97 L1084.30,492.72 L1085.30,492.74 L1086.30,492.99 L1086.80,492.93 L1087.30,492.85 L1088.30,492.42 L1089.30,492.64 L1089.80,493.05 L1090.30,493.06 L1091.80,492.66 L1092.30,492.82 L1093.30,492.49 L1093.80,492.71 L1094.30,492.77 L1094.80,493.05 L1095.30,492.81 L1096.30,492.59 L1096.80,492.85 L1099.30,492.96 L1100.30,492.80 L1100.80,492.94 L1101.30,492.80 L1101.80,492.80 L1102.30,492.59 L1103.30,492.97 L1103.80,493.37 L1105.30,492.92 L1106.30,493.14 L1106.80,492.87 L1107.30,492.93 L1107.80,492.74 L1108.30,493.01 L1108.80,492.80 L1109.30,492.85 L1109.80,493.03 L1110.30,492.88 L1110.80,492.93 L1111.30,492.72 L1111.80,492.93 L1114.30,492.84 L1114.80,492.91 L1115.80,492.89 L1116.80,493.05 L1117.30,493.23 L1118.80,492.63 L1119.30,492.57 L1120.80,492.78 L1122.30,493.36 L1122.80,493.37 L1123.80,493.16 L1124.30,493.26 L1125.30,492.71 L1126.30,492.79 L1127.80,492.54 L1128.30,492.92 L1129.30,493.23 L1130.80,492.80 L1132.30,492.82 L1133.30,492.67 L1133.80,492.92 L1134.30,492.95 L1135.80,492.73 L1136.30,492.76 L1136.80,492.26 L1137.80,491.99 L1138.30,492.26 L1139.80,492.39 L1140.30,492.26 L1140.80,491.91 L1141.80,491.88 L1142.30,491.98 L1143.30,491.58 L1143.80,491.94 L1144.80,492.10 L1145.30,491.64 L1145.80,491.47 L1146.30,491.49 L1146.80,491.71 L1147.30,492.07 L1148.30,491.78 L1148.80,491.74 L1149.30,491.80 L1149.80,492.03 L1150.30,492.04 L1150.80,492.31 L1151.80,492.23 L1152.30,491.86 L1152.80,492.05 L1153.30,492.01 L1153.80,492.38 L1154.30,492.19 L1154.80,492.37 L1155.30,492.18 L1155.80,492.25 L1156.30,492.20 L1156.80,492.74 L1157.30,492.90 L1157.80,492.84 L1158.30,492.62 L1159.80,492.83 L1160.30,492.70 L1160.80,492.71 L1161.30,492.39 L1162.30,492.60 L1163.30,493.10 L1164.30,492.95 L1164.80,492.73 L1165.30,493.01 L1167.30,492.89 L1168.30,492.96 L1169.30,493.23 L1169.80,493.27 L1171.30,492.93 L1172.30,492.89 L1173.80,493.20 L1174.80,492.93 L1176.30,492.83 L1179.30,493.10 L1179.80,492.71 L1181.30,492.62 L1181.80,492.41 L1182.80,492.46 L1183.80,492.89 L1184.30,492.95 L1184.80,492.94 L1185.30,492.64 L1185.80,492.54 L1186.30,492.52 L1186.80,492.74 L1188.30,492.28 L1189.30,492.40 L1189.80,492.13 L1190.30,492.08 L1192.30,491.45 L1193.30,491.64 L1194.30,491.40 L1194.80,491.07 L1195.30,490.96 L1196.80,491.23 L1197.80,490.93 L1198.30,490.91 L1199.30,491.37 L1199.80,491.11 L1200.30,490.99 L1200.80,491.01 L1201.80,491.35 L1202.80,491.46 L1203.80,491.43 L1204.30,491.65 L1204.80,491.52 L1205.30,491.62 L1206.30,492.07 L1206.80,491.96 L1207.30,492.01 L1207.80,492.09 L1208.30,492.30 L1210.80,492.67 L1211.30,492.43 L1211.80,492.31 L1212.80,492.52 L1213.80,492.49 L1214.30,492.73 L1215.30,492.89 L1216.80,492.91 L1217.30,492.70 L1217.80,492.86 L1218.30,492.88 L1218.80,493.10 L1219.80,492.87 L1220.30,493.08 L1220.80,493.07 L1221.30,493.31 L1221.80,493.09 L1222.30,493.17 L1222.80,493.01 L1223.30,493.25 L1223.80,493.18 L1224.30,493.25 L1224.80,493.04 L1225.30,493.23 L1225.80,493.00 L1226.80,493.02 L1227.80,493.21 L1228.30,492.94 L1229.30,492.65 L1229.80,493.06 L1230.30,493.24 L1232.30,493.24 L1233.80,493.51 L1234.30,493.23 L1234.80,493.21 L1235.30,493.00 L1236.30,493.04 L1236.80,493.35 L1237.30,493.50 L1238.30,493.52 L1238.80,493.30 L1239.80,493.13 L1240.80,493.44 L1241.30,493.24 L1241.80,492.84 L1242.30,492.78 L1243.80,492.96 L1244.80,493.41 L1246.30,493.06 L1247.30,493.63 L1248.30,493.13 L1248.80,493.03 L1249.30,493.31 L1249.80,493.33 L1250.80,492.94 L1251.80,493.37 L1252.30,493.16 L1252.80,492.67 L1253.30,492.67 L1253.80,492.85 L1254.30,493.18 L1254.80,493.07 L1255.80,493.07 L1256.30,492.98 L1256.80,493.18 L1257.30,493.03 L1257.80,493.04 L1258.30,492.82 L1258.80,492.96 L1259.30,493.25 L1260.30,493.48 L1260.80,493.22 L1261.30,493.38 L1261.80,493.17 L1262.80,493.06 L1263.30,493.26 L1264.30,493.88 L1265.30,493.70 L1265.80,493.21 L1266.30,493.30 L1266.80,492.98 L1267.30,493.35 L1267.80,493.36 L1268.30,493.57 L1268.80,493.24 L1269.80,493.17 L1270.30,493.37 L1271.80,493.15 L1273.30,493.39 L1274.80,493.11 L1275.30,493.26 L1275.80,493.23 L1276.30,493.04 L1276.80,493.11 L1277.30,493.32 L1277.80,493.72 L1278.80,493.52 L1279.30,493.25 L1281.30,493.62 L1284.30,493.26 L1284.80,493.52 L1285.80,493.72 L1287.30,493.09 L1287.80,493.03 L1290.80,493.52 L1291.80,493.44 L1292.30,493.30 L1292.80,493.32 L1293.30,493.13 L1293.80,493.24 L1294.30,493.02 L1294.80,493.10 L1295.30,492.91 L1296.30,492.83 L1298.30,493.42 L1298.80,493.32 L1299.80,492.71 L1300.30,492.97 L1301.30,493.22 L1302.30,493.22 L1303.30,493.01 L1304.30,493.20 L1306.30,492.81 L1306.80,492.98 L1307.80,493.13 L1308.30,493.32 L1309.30,493.10 L1309.80,492.66 L1310.30,492.66 L1311.30,492.95 L1312.30,492.86 L1313.30,493.31 L1313.80,493.32 L1314.80,492.84 L1315.30,492.96 L1315.80,492.93 L1316.30,493.22 L1316.80,492.98 L1317.30,492.99 L1318.30,492.47 L1318.80,491.94 L1320.30,491.72 L1321.30,490.86 L1322.80,489.78 L1323.80,488.86 L1325.80,486.55 L1326.30,486.19 L1327.30,485.05 L1328.80,483.89 L1329.30,483.87 L1330.30,484.37 L1330.80,484.32 L1331.30,484.60 L1331.80,484.99 L1332.30,485.77 L1332.80,486.10 L1333.30,486.70 L1333.80,487.02 L1334.30,487.75 L1335.30,488.39 L1335.80,488.88 L1336.30,489.64 L1336.80,490.15 L1337.30,490.22 L1337.80,490.43 L1338.30,490.89 L1338.80,491.17 L1339.80,490.65 L1341.80,490.73 L1342.30,491.02 L1342.80,491.05 L1343.80,491.47 L1344.30,491.44 L1345.30,491.59 L1345.80,491.82 L1346.80,491.58 L1347.30,491.75 L1347.80,492.18 L1348.30,492.38 L1348.80,492.37 L1349.30,492.09 L1349.80,492.44 L1350.30,492.48 L1350.80,492.72 L1351.30,492.59 L1352.80,493.11 L1354.30,493.03 L1354.80,493.14 L1356.30,493.12 L1357.80,492.97 L1358.30,493.04 L1358.80,493.30 L1359.30,493.14 L1359.80,493.33 L1360.30,493.11 L1360.80,493.41 L1361.80,493.03 L1362.30,492.99 L1362.80,492.98 L1363.30,493.41 L1363.80,493.08 L1364.30,493.34 L1364.80,492.89 L1365.30,493.00 L1365.80,492.68 L1367.30,493.43 L1367.80,493.43 L1368.30,493.30 L1368.80,492.99 L1369.30,493.04 L1370.30,492.92 L1370.80,492.56 L1372.30,492.89 L1372.80,492.48 L1373.30,492.65 L1373.80,492.50 L1374.30,492.63 L1374.80,492.50 L1375.30,492.63 L1377.30,491.77 L1377.80,491.77 L1378.30,491.45 L1378.80,491.38 L1379.30,491.09 L1379.80,490.98 L1380.30,490.58 L1380.80,490.33 L1381.30,489.73 L1381.80,489.94 L1382.80,489.42 L1383.30,488.47 L1384.30,487.30 L1384.80,487.07 L1385.80,487.09 L1386.30,486.91 L1387.30,486.18 L1388.30,486.24 L1388.80,486.47 L1390.30,486.87 L1391.80,487.50 L1392.30,487.90 L1393.80,489.58 L1394.30,489.68 L1396.30,491.00 L1396.80,491.16 L1398.80,492.17 L1399.30,492.20 L1399.80,492.43 L1400.30,492.21 L1400.80,492.49 L1401.30,492.40 L1401.80,492.77 L1402.80,493.24 L1403.30,493.25 L1403.80,493.10 L1404.30,493.12 L1405.80,492.72 L1406.30,492.67 L1407.80,493.56 L1409.30,492.78 L1409.80,492.84 L1410.80,493.49 L1411.30,493.67 L1411.80,493.58 L1412.80,493.17 L1413.30,493.19 L1414.30,493.59 L1415.30,493.25 L1417.30,493.38 L1417.80,493.31 L1418.80,493.43 L1419.30,493.60 L1419.80,493.58 L1420.80,493.20 L1421.30,493.22 L1421.80,493.37 L1422.30,493.13 L1423.30,493.03 L1424.80,493.33 L1425.30,493.82 L1425.80,493.80 L1426.30,493.54 L1427.80,493.10 L1428.30,492.84 L1428.80,493.07 L1429.30,493.07 L1429.80,493.40 L1430.30,493.28 L1430.80,493.35 L1431.80,493.18 L1432.30,493.25 L1432.80,493.18 L1434.80,493.89 L1436.30,493.14 L1436.80,493.27 L1437.30,493.62 L1437.80,493.64 L1439.30,493.01 L1439.80,493.13 L1440.80,493.06 L1441.30,492.84 L1442.80,493.55 L1443.30,493.47 L1443.80,493.62 L1444.30,493.56 L1444.80,493.19 L1445.80,492.80 L1446.30,493.19 L1447.30,493.67 L1447.80,493.52 L1448.80,493.58 L1449.30,493.73 L1450.80,493.29 L1452.80,493.06 L1453.30,493.40 L1454.30,493.86 L1454.80,493.57 L1455.30,493.40 L1456.30,493.51 L1457.30,493.38 L1457.80,493.51 L1458.30,493.80 L1458.80,493.84 L1459.30,493.66 L1460.30,493.54 L1460.80,493.34 L1461.80,493.44 L1462.30,493.75 L1463.80,493.92 L1465.80,493.38 L1466.80,493.68 L1467.30,493.47 L1467.80,493.49 L1468.30,493.13 L1468.80,493.54 L1469.30,493.63 L1469.80,493.93 L1470.30,493.53 L1471.30,493.36 L1471.80,493.37 L1473.30,493.91 L1473.80,493.78 L1474.30,493.31 L1475.30,493.36 L1476.30,493.74 L1476.80,493.59 L1477.30,493.66 L1477.80,493.23 L1478.80,492.96 L1479.80,493.57 L1480.30,493.76 L1480.80,493.80 L1481.80,493.25 L1482.30,493.22 L1483.30,493.45 L1484.80,493.27 L1486.30,493.63 L1486.80,493.45 L1487.30,493.58 L1487.80,493.58 L1488.30,493.91 L1488.80,493.80 L1489.30,493.91 L1489.80,493.62 L1490.30,493.71 L1490.80,493.48 L1491.80,493.24 L1492.30,493.21 L1492.80,493.40 L1493.80,493.54 L1494.30,493.29 L1495.80,493.55 L1496.30,493.41 L1496.80,493.46 L1497.30,493.62 L1498.80,493.69 L1499.30,493.84 L1499.80,493.70 L1500.30,493.69 L1501.30,493.40 L1502.80,493.62 L1503.30,493.36 L1504.30,493.13 L1504.80,493.40 L1505.80,493.36 L1506.30,493.17 L1507.80,493.74 L1509.80,493.35 L1510.80,493.46 L1512.30,494.05 L1513.30,493.75 L1513.80,493.41 L1514.30,493.27 L1514.80,493.37 L1515.80,493.82 L1516.30,493.76 L1516.80,493.96 L1517.30,493.91 L1518.30,494.01 L1519.30,493.71 L1519.80,493.40 L1520.30,493.61 L1520.80,493.50 L1521.80,493.56 L1522.30,493.97 L1522.80,494.09 L1524.30,493.11 L1524.80,493.35 L1525.30,493.19 L1525.80,493.46 L1526.30,493.46 L1526.80,493.65 L1527.80,493.32 L1528.80,493.31 L1530.30,494.02 L1530.80,493.78 L1531.30,493.36 L1531.80,493.23 L1533.80,493.88 L1534.30,493.87 L1535.30,493.38 L1535.80,493.34 L1536.30,493.50 L1536.80,493.48 L1537.30,493.87 L1537.80,494.01 L1538.30,493.96 L1539.30,493.38 L1539.80,493.77 L1540.80,494.05 L1541.30,493.85 L1542.80,493.94 L1543.80,493.78 L1544.30,493.59 L1544.80,493.52 L1545.30,493.62 L1545.80,493.49 L1546.80,493.64 L1547.30,494.03 L1547.80,494.00 L1548.30,493.85 L1548.80,493.55 L1549.80,493.33 L1550.30,493.35 L1550.80,493.68 L1551.30,493.81 L1552.80,493.69 L1553.30,493.91 L1554.30,493.85 L1555.30,494.08 L1555.80,494.08 L1556.30,493.74 L1558.30,493.34 L1559.30,493.70 L1560.80,493.39 L1561.30,493.54 L1562.30,494.05 L1563.30,493.59 L1563.80,493.09 L1564.30,493.24 L1564.80,493.22 L1565.30,493.53 L1565.80,493.28 L1567.30,492.93 L1567.80,492.68 L1568.30,492.60 L1569.30,492.78 L1569.80,492.33 L1570.30,492.06 L1570.80,491.98 L1571.30,492.21 L1571.80,492.07 L1573.80,492.11 L1574.30,492.29 L1574.80,492.29 L1576.30,493.16 L1576.80,493.12 L1577.30,492.79 L1579.30,493.54 L1579.80,493.38 L1580.30,493.67 L1580.80,493.39 L1582.30,493.69 L1582.80,493.65 L1583.30,493.42 L1583.80,493.49 L1584.30,493.34 L1584.80,493.34 L1585.30,493.17 L1586.30,493.50 L1586.80,493.49 L1587.80,493.28 L1589.30,493.38 L1589.80,493.11 L1590.80,493.30 L1591.30,493.66 L1591.80,493.76 L1593.80,493.42 L1594.30,493.45 L1594.80,493.29 L1595.30,493.45 L1595.80,493.40 L1596.30,493.53 L1597.30,493.26 L1597.80,493.33 L1598.30,493.57 L1598.80,493.57 L1599.80,493.16 L1600.80,493.43 L1601.80,493.25 L1602.80,492.50 L1603.80,492.02 L1604.30,492.12 L1604.80,492.03 L1606.30,491.05 L1607.30,490.72 L1607.80,490.30 L1608.30,490.14 L1608.80,489.61 L1609.30,489.29 L1609.80,489.12 L1610.80,489.28 L1611.80,489.01 L1612.30,489.06 L1612.80,489.58 L1613.80,490.09 L1614.30,490.06 L1615.30,490.33 L1616.30,490.76 L1617.80,492.26 L1618.30,492.38 L1618.80,492.33 L1620.30,492.67 L1621.30,493.12 L1622.30,493.41 L1622.80,493.31 L1623.30,493.38 L1623.80,493.21 L1624.30,493.36 L1625.80,493.53 L1626.30,493.47 L1628.30,493.58 L1628.80,493.66 L1629.30,493.91 L1629.80,493.54 L1630.80,493.31 L1631.30,493.49 L1632.30,493.07 L1633.30,493.43 L1633.80,493.84 L1634.30,493.70 L1637.00,493.72" stroke="#8000ff" clip-path="url(#clip8000ff)"/>
<path class="c" d="M153.2,314.6 L153.9,313.8 L154.5,313.0 L155.1,312.2 L155.7,311.4 L156.3,310.6 L156.8,309.7 L157.2,308.9 L157.7,308.0 L158.1,307.1 L158.6,306.2 L159.0,305.3 L159.4,304.3 L159.8,303.4 L160.1,302.4 L160.4,301.5 L160.7,300.5 L160.9,299.6 L161.1,298.6 L161.3,297.7 L161.4,296.7 L161.6,295.8 L161.7,294.8 L161.8,293.8 L162.0,292.8 L162.1,291.8 L162.2,290.8 L162.3,289.8 L162.4,288.7 L162.5,287.7 L162.6,286.6 L162.7,285.4 L162.8,284.3 L162.9,283.1 L162.9,282.0 L163.0,280.8 L163.1,279.8 L163.2,278.7 L163.3,277.8 L163.4,276.9 L163.6,276.2 L163.8,275.6 L164.1,275.1 L165.0,274.7 L166.2,274.4 L167.4,274.1 L168.3,273.7 L168.8,273.2 L169.1,272.6 L169.3,271.8 L169.6,270.9 L169.8,269.9 L169.9,268.9 L170.1,267.8 L170.2,266.6 L170.3,265.5 L170.5,264.4 L170.6,263.2 L170.7,262.2 L170.8,261.1 L170.9,260.1 L170.9,259.0 L171.0,258.0 L171.1,257.0 L171.1,256.0 L171.2,255.0 L171.2,254.0 L171.3,253.0 L171.4,252.0 L171.4,251.0 L171.5,250.1 L171.5,249.1 L171.6,248.1 L171.7,247.2 L171.8,246.2 L171.9,245.2 L172.0,244.2 L172.2,243.3 L172.4,242.3 L172.7,241.3 L173.1,240.4 L173.6,239.5 L174.1,238.6 L174.7,237.9 L175.5,237.2 L176.5,236.6 L177.3,236.0 L178.0,235.3 L178.4,234.6 L178.6,233.8 L178.8,232.9 L179.0,231.9 L179.1,231.0 L179.3,229.9 L179.4,228.9 L179.5,227.8 L179.6,226.8 L179.7,225.7 L179.8,224.7 L180.0,223.6 L180.1,222.6 L180.2,221.6 L180.4,220.6 L180.5,219.6 L180.6,218.6 L180.7,217.7 L180.9,216.7 L181.0,215.7 L181.2,214.7 L181.4,213.7 L181.6,212.8 L181.8,211.8 L182.0,210.8 L182.2,209.8 L182.4,208.8 L182.7,207.9 L182.9,206.9 L183.2,205.9 L183.5,205.0 L183.8,204.0 L184.1,203.1 L184.4,202.1 L184.8,201.2 L185.2,200.3 L185.7,199.4 L186.1,198.5 L186.5,197.6 L186.9,196.7 L187.3,195.7 L187.5,194.8 L187.7,193.8 L187.9,192.8 L188.0,191.8 L188.1,190.7 L188.2,189.7 L188.3,188.7 L188.5,187.7 L188.7,186.8 L188.9,185.8 L189.2,184.9 L189.6,184.1 L190.3,183.3 L191.0,182.5 L191.7,181.8 L192.4,181.0 L193.1,180.4 L193.9,179.7 L194.7,179.0 L195.4,178.3 L195.9,177.5 L196.2,176.7 L196.6,175.8 L196.9,174.8 L197.1,173.9 L197.4,172.9 L197.6,171.9 L197.9,170.9 L198.1,169.9 L198.4,168.9 L198.7,167.9 L199.1,166.9 L199.5,166.0 L199.9,165.1 L200.3,164.1 L200.7,163.2 L201.1,162.3 L201.3,161.3 L201.5,160.4 L201.7,159.4 L201.8,158.5 L201.9,157.5 L201.9,156.5 L202.0,155.5 L202.1,154.5 L202.1,153.5 L202.2,152.5 L202.2,151.5 L202.3,150.5 L202.4,149.5 L202.4,148.5 L202.5,147.5 L202.6,146.4 L202.6,145.4 L202.7,144.4 L202.7,143.3 L202.8,142.3 L202.9,141.2 L202.9,140.2 L203.0,139.2 L203.1,138.2 L203.2,137.2 L203.3,136.3 L203.4,135.4 L203.7,134.6 L204.2,133.7 L204.9,132.9 L205.7,132.2 L206.6,131.6 L207.5,131.2 L208.4,130.9 L209.4,130.7 L210.4,130.5 L211.4,130.4 L212.4,130.2 L213.6,130.1 L214.8,130.0 L215.9,129.8 L216.7,129.5 L217.1,129.2 L217.3,128.7 L217.5,128.0 L217.6,127.2 L217.8,126.3 L217.9,125.3 L218.0,124.2 L218.0,123.0 L218.1,121.8 L218.2,120.6 L218.3,119.3 L218.4,118.2 L218.5,117.0 L218.5,115.8 L218.6,114.5 L218.7,113.3 L218.7,112.0 L218.8,110.8 L218.8,109.6 L218.9,108.5 L219.0,107.5 L219.0,106.5 L219.1,105.7 L219.3,105.0 L219.4,104.5 L219.6,104.2 L220.1,103.9 L221.0,103.8 L222.2,103.7 L223.5,103.6 L224.5,103.3 L225.3,102.8 L225.9,102.2 L226.5,101.3 L227.1,100.4 L227.7,99.5 L228.3,98.7 L229.1,98.1 L230.1,97.6 L231.2,97.2 L232.1,96.8 L232.6,96.3 L232.9,95.6 L233.1,94.8 L233.3,93.9 L233.4,92.9 L233.6,91.8 L233.7,90.7 L233.8,89.6 L234.0,88.5 L234.3,87.4 L234.6,86.4 L235.1,85.4 L235.8,84.4 L236.6,83.7 L237.2,83.3 L237.8,83.4 L238.3,83.9 L238.7,84.8 L239.2,85.9 L239.6,87.1 L240.1,88.3 L240.5,89.5 L241.0,90.7 L241.4,92.0 L241.9,93.1 L242.3,94.0 L242.8,94.4 L243.2,94.5 L243.6,93.9 L244.1,92.8 L244.5,91.6 L244.9,90.3 L245.3,89.3 L245.9,88.7 L246.5,88.8 L247.2,89.4 L248.1,90.3 L248.9,91.1 L249.8,91.6 L250.6,91.5 L251.4,91.1 L252.3,90.4 L253.1,89.5 L253.8,88.7 L254.4,87.8 L255.0,87.0 L255.6,86.1 L256.1,85.4 L256.8,84.7 L257.6,84.2 L258.5,83.7 L259.3,83.1 L260.1,82.3 L260.9,81.5 L261.5,81.0 L261.8,80.9 L262.1,81.3 L262.3,81.9 L262.5,82.8 L262.7,83.9 L262.8,85.2 L263.0,86.6 L263.1,88.0 L263.3,89.4 L263.5,90.7 L263.7,92.1 L263.8,93.5 L264.0,94.8 L264.2,96.2 L264.4,97.4 L264.5,98.5 L264.7,99.3 L264.9,99.9 L265.2,100.3 L265.5,100.3 L265.8,99.8 L266.2,99.1 L266.7,98.1 L267.2,97.0 L267.7,95.8 L268.2,94.7 L268.6,93.8 L269.1,92.9 L269.6,92.1 L270.0,91.2 L270.5,90.3 L270.9,89.4 L271.3,88.4 L271.6,87.3 L271.9,86.1 L272.2,84.9 L272.4,83.6 L272.7,82.5 L273.0,81.5 L273.3,80.7 L273.7,80.2 L274.1,80.0 L274.9,80.1 L275.9,80.5 L277.0,81.1 L277.8,81.7 L278.4,82.4 L278.8,83.2 L279.2,84.1 L279.5,85.0 L279.9,86.0 L280.2,87.0 L280.6,88.0 L281.0,89.1 L281.5,90.2 L282.0,91.4 L282.6,92.4 L283.1,93.1 L283.6,93.5 L284.1,93.4 L284.6,92.8 L285.1,91.9 L285.6,90.8 L286.2,89.6 L286.7,88.6 L287.4,87.6 L288.2,86.7 L289.0,86.1 L289.6,85.8 L290.0,86.0 L290.4,86.6 L290.7,87.5 L291.1,88.6 L291.4,89.8 L291.7,91.1 L292.0,92.3 L292.4,93.4 L292.7,94.6 L293.0,95.8 L293.3,96.8 L293.7,97.7 L294.2,98.2 L294.8,98.4 L295.9,98.5 L297.1,98.5 L298.1,98.4 L298.6,98.2 L299.0,97.7 L299.4,97.0 L299.7,96.2 L299.9,95.2 L300.2,94.1 L300.4,92.9 L300.6,91.6 L300.9,90.4 L301.1,89.2 L301.3,88.0 L301.5,86.8 L301.8,85.5 L302.0,84.2 L302.2,82.9 L302.4,81.6 L302.6,80.5 L302.8,79.4 L303.0,78.5 L303.2,77.7 L303.4,77.1 L303.6,76.8 L303.8,76.7 L304.0,76.9 L304.1,77.3 L304.3,78.0 L304.5,78.8 L304.7,79.8 L304.9,80.9 L305.1,82.2 L305.3,83.5 L305.5,84.8 L305.7,86.2 L305.8,87.5 L306.0,88.8 L306.2,90.1 L306.4,91.5 L306.6,92.9 L306.7,94.3 L306.9,95.7 L307.1,97.0 L307.3,98.3 L307.4,99.4 L307.6,100.5 L307.8,101.4 L308.0,102.2 L308.2,102.7 L308.5,103.1 L308.7,103.2 L309.0,103.1 L309.3,102.7 L309.7,101.9 L310.1,100.9 L310.5,99.8 L310.9,98.7 L311.4,97.5 L311.8,96.5 L312.2,95.5 L312.6,94.6 L313.0,93.7 L313.5,92.9 L313.9,92.0 L314.4,91.1 L315.0,90.2 L315.7,89.2 L316.5,88.3 L317.2,87.5 L318.0,86.9 L318.6,86.7 L319.1,87.0 L319.5,87.7 L319.9,88.7 L320.3,89.9 L320.6,91.2 L321.0,92.6 L321.3,93.9 L321.6,95.0 L322.0,95.9 L322.3,96.3 L322.7,96.4 L323.0,96.0 L323.4,95.2 L323.8,94.2 L324.1,93.0 L324.5,91.6 L324.9,90.3 L325.2,89.0 L325.5,87.8 L325.8,86.8 L326.1,86.1 L326.4,85.7 L326.6,85.8 L326.9,86.1 L327.1,86.7 L327.3,87.5 L327.5,88.5 L327.7,89.6 L327.9,90.9 L328.1,92.3 L328.2,93.8 L328.4,95.3 L328.6,96.8 L328.8,98.2 L328.9,99.5 L329.1,100.8 L329.2,101.9 L329.4,102.8 L329.6,103.6 L329.7,104.0 L329.9,104.2 L330.1,104.2 L330.2,103.9 L330.4,103.4 L330.5,102.7 L330.6,101.9 L330.8,100.9 L330.9,99.8 L331.0,98.6 L331.2,97.2 L331.3,95.9 L331.5,94.5 L331.6,93.0 L331.8,91.6 L331.9,90.2 L332.1,88.8 L332.3,87.5 L332.5,86.1 L332.6,84.6 L332.8,83.2 L333.0,81.9 L333.2,80.6 L333.4,79.5 L333.6,78.5 L333.8,77.7 L334.0,77.1 L334.3,76.7 L334.5,76.6 L334.8,76.9 L335.1,77.5 L335.4,78.5 L335.7,79.6 L336.0,80.8 L336.4,82.0 L336.9,83.2 L337.3,84.1 L337.9,84.8 L338.6,85.1 L339.8,85.3 L340.9,85.5 L341.7,85.7 L342.2,86.2 L342.5,86.8 L342.8,87.7 L343.0,88.7 L343.2,89.7 L343.4,90.9 L343.5,92.1 L343.8,93.2 L344.0,94.4 L344.3,95.4 L344.6,96.3 L345.1,97.1 L345.8,97.8 L346.6,98.5 L347.5,99.1 L348.5,99.5 L349.5,99.9 L350.4,100.3 L351.4,100.5 L352.5,100.6 L353.5,100.9 L354.3,101.2 L354.8,101.8 L355.3,102.7 L355.7,103.8 L356.0,105.0 L356.4,106.3 L356.7,107.6 L356.9,108.8 L357.2,109.9 L357.5,110.9 L357.8,111.5 L358.1,111.9 L358.4,111.8 L358.8,111.3 L359.1,110.5 L359.5,109.5 L359.8,108.3 L360.1,106.9 L360.5,105.6 L360.8,104.3 L361.2,103.1 L361.5,102.2 L361.9,101.5 L362.2,101.2 L362.5,101.3 L362.9,101.6 L363.2,102.2 L363.6,103.1 L364.0,104.1 L364.3,105.2 L364.6,106.5 L365.0,107.8 L365.3,109.2 L365.6,110.5 L366.0,111.8 L366.3,113.1 L366.6,114.4 L366.9,115.8 L367.2,117.1 L367.4,118.4 L367.7,119.7 L368.0,120.9 L368.3,122.0 L368.5,123.0 L368.8,123.8 L369.1,124.5 L369.3,125.0 L369.6,125.4 L369.8,125.4 L370.0,125.3 L370.3,124.9 L370.5,124.3 L370.7,123.6 L370.9,122.7 L371.1,121.6 L371.3,120.5 L371.4,119.2 L371.6,117.9 L371.8,116.5 L372.0,115.0 L372.2,113.6 L372.3,112.1 L372.5,110.7 L372.7,109.3 L372.9,108.0 L373.1,106.8 L373.3,105.6 L373.5,104.6 L373.7,103.8 L374.0,103.1 L374.2,102.6 L374.5,102.3 L374.7,102.2 L375.0,102.4 L375.3,102.9 L375.7,103.6 L376.1,104.5 L376.5,105.5 L376.9,106.6 L377.3,107.8 L377.7,109.1 L378.1,110.3 L378.4,111.6 L378.8,112.8 L379.2,114.1 L379.5,115.4 L379.8,116.7 L380.2,117.9 L380.5,119.0 L380.9,120.0 L381.2,120.8 L381.6,121.3 L382.1,121.6 L382.6,121.5 L383.2,121.0 L384.0,120.3 L384.9,119.3 L385.7,118.3 L386.5,117.5 L387.0,116.9 L387.4,116.7 L387.7,116.7 L388.0,117.1 L388.2,117.6 L388.4,118.3 L388.6,119.2 L388.8,120.3 L389.0,121.5 L389.1,122.7 L389.3,124.1 L389.4,125.5 L389.6,126.9 L389.7,128.2 L389.9,129.6 L390.1,130.9 L390.3,132.1 L390.5,133.3 L390.6,134.4 L390.8,135.6 L390.9,136.7 L391.1,137.8 L391.3,138.8 L391.4,139.8 L391.6,140.8 L391.8,141.7 L392.1,142.5 L392.3,143.3 L392.6,144.0 L393.0,144.7 L393.6,145.2 L394.6,145.7 L395.5,146.3 L396.1,147.0 L396.5,147.9 L396.7,149.0 L397.0,150.2 L397.2,151.5 L397.4,152.8 L397.5,154.0 L397.7,155.2 L397.9,156.3 L398.1,157.2 L398.3,157.9 L398.6,158.2 L399.0,158.3 L399.7,158.0 L400.6,157.3 L401.5,156.5 L402.2,155.5 L402.7,154.5 L403.0,153.5 L403.2,152.4 L403.4,151.2 L403.6,149.9 L403.8,148.6 L403.9,147.2 L404.1,145.9 L404.2,144.5 L404.3,143.1 L404.4,141.8 L404.5,140.5 L404.6,139.3 L404.7,138.1 L404.8,137.0 L404.9,136.0 L405.0,135.2 L405.1,134.4 L405.2,133.9 L405.3,133.4 L405.4,133.2 L405.6,133.1 L405.7,133.3 L405.8,133.6 L406.0,134.2 L406.1,134.9 L406.2,135.9 L406.3,136.9 L406.4,138.1 L406.5,139.4 L406.6,140.7 L406.8,142.2 L406.9,143.7 L407.0,145.2 L407.1,146.7 L407.2,148.2 L407.3,149.7 L407.5,151.1 L407.6,152.4 L407.8,153.7 L408.0,154.9 L408.1,155.9 L408.3,156.8 L408.5,157.5 L408.7,158.0 L409.0,158.4 L409.2,158.5 L409.5,158.3 L409.9,157.8 L410.4,157.0 L411.0,155.9 L411.7,154.9 L412.5,154.0 L413.2,153.5 L414.1,153.4 L415.1,153.6 L416.2,154.0 L417.2,154.5 L418.0,155.1 L418.5,155.9 L418.8,156.9 L419.1,157.9 L419.3,159.0 L419.6,159.9 L420.1,160.6 L420.8,161.2 L421.8,161.6 L422.8,161.9 L423.7,162.4 L424.6,163.0 L425.4,163.7 L426.2,164.4 L426.8,165.2 L427.1,166.0 L427.3,166.9 L427.5,167.8 L427.6,168.7 L427.7,169.7 L427.8,170.7 L427.9,171.7 L427.9,172.7 L428.0,173.8 L428.1,174.8 L428.2,175.9 L428.3,176.9 L428.4,177.9 L428.6,179.0 L428.8,180.0 L429.2,181.0 L429.8,182.0 L430.5,182.5 L431.1,182.5 L431.8,182.0 L432.5,181.2 L433.1,180.2 L433.7,179.1 L434.2,177.9 L434.6,176.7 L435.0,175.5 L435.3,174.2 L435.7,173.1 L436.0,172.2 L436.3,171.5 L436.6,171.1 L437.0,171.2 L437.3,171.7 L437.7,172.5 L438.0,173.5 L438.4,174.7 L438.7,175.9 L439.1,177.2 L439.4,178.3 L439.8,179.5 L440.1,180.7 L440.5,181.8 L440.8,182.8 L441.2,183.6 L441.7,184.2 L442.4,184.4 L443.5,184.5 L444.7,184.5 L445.5,184.4 L445.9,184.0 L446.2,183.2 L446.5,182.2 L446.7,181.1 L446.9,179.9 L447.2,178.7 L447.5,177.6 L447.9,176.5 L448.4,175.6 L449.0,175.0 L449.8,175.0 L450.8,175.3 L451.9,175.8 L452.8,176.5 L453.5,177.2 L453.8,178.0 L454.0,178.8 L454.2,179.7 L454.4,180.6 L454.5,181.6 L454.6,182.6 L454.8,183.7 L454.9,184.8 L455.1,185.9 L455.3,187.0 L455.5,188.2 L455.7,189.5 L455.9,190.9 L456.1,192.1 L456.3,193.3 L456.6,194.3 L456.8,195.0 L457.1,195.4 L457.5,195.4 L457.9,195.0 L458.5,194.2 L459.1,193.2 L459.7,192.1 L460.3,191.0 L460.8,190.1 L461.2,189.1 L461.6,188.2 L462.0,187.4 L462.4,186.5 L462.8,185.6 L463.1,184.7 L463.5,183.8 L464.0,182.8 L464.4,181.7 L464.9,180.6 L465.4,179.4 L465.9,178.4 L466.4,177.5 L466.9,176.9 L467.3,176.8 L467.7,177.0 L468.0,177.6 L468.3,178.5 L468.6,179.5 L468.9,180.7 L469.2,182.0 L469.5,183.2 L469.9,184.4 L470.3,185.4 L470.9,186.2 L471.6,187.0 L472.3,187.7 L473.1,188.4 L473.8,189.1 L474.4,189.9 L474.7,190.8 L475.0,191.8 L475.2,192.9 L475.4,194.2 L475.6,195.5 L475.7,196.8 L475.9,198.0 L476.0,199.2 L476.1,200.3 L476.3,201.3 L476.6,202.0 L476.8,202.5 L477.2,202.8 L477.7,202.8 L478.8,202.5 L479.8,202.0 L480.7,201.4 L481.5,200.7 L482.3,200.2 L483.2,200.3 L484.0,200.7 L484.9,201.4 L485.7,202.2 L486.3,203.1 L486.8,204.0 L487.2,205.0 L487.5,206.0 L487.9,206.9 L488.4,207.7 L489.0,208.4 L489.9,209.0 L491.0,209.5 L492.0,209.8 L492.9,209.9 L493.5,209.7 L494.0,209.1 L494.4,208.3 L494.8,207.2 L495.2,206.0 L495.7,204.9 L496.2,203.8 L496.8,202.7 L497.5,201.7 L498.1,201.0 L498.7,200.7 L499.2,201.0 L499.6,201.8 L500.0,202.9 L500.3,204.3 L500.7,205.6 L501.0,206.8 L501.4,207.7 L501.9,208.1 L502.4,207.9 L502.9,207.2 L503.5,206.2 L504.2,205.2 L504.9,204.3 L505.8,203.5 L506.6,202.9 L506.9,202.8 L507.1,203.1 L507.3,203.7 L507.5,204.5 L507.6,205.5 L507.7,206.7 L507.8,208.1 L507.9,209.5 L508.0,211.0 L508.1,212.5 L508.2,214.0 L508.3,215.4 L508.3,216.7 L508.4,217.9 L508.5,218.9 L508.7,219.7 L508.8,220.2 L509.0,220.5 L509.2,220.3 L509.4,219.9 L509.6,219.2 L509.9,218.2 L510.2,217.1 L510.5,215.8 L510.8,214.5 L511.2,213.3 L511.5,212.1 L511.9,210.9 L512.4,209.8 L512.9,208.7 L513.5,207.9 L514.0,207.3 L514.6,207.3 L515.1,207.6 L515.6,208.3 L516.2,209.2 L516.7,210.3 L517.2,211.5 L517.6,212.7 L518.0,213.9 L518.3,215.1 L518.6,216.4 L518.8,217.7 L519.1,219.0 L519.3,220.3 L519.5,221.5 L519.7,222.5 L520.0,223.4 L520.2,224.1 L520.4,224.6 L520.7,224.9 L521.0,224.8 L521.3,224.4 L521.5,223.8 L521.8,223.0 L522.1,222.0 L522.4,220.9 L522.7,219.6 L523.1,218.4 L523.4,217.1 L523.8,215.9 L524.1,214.8 L524.5,213.6 L525.0,212.5 L525.4,211.5 L525.9,210.9 L526.3,210.8 L526.7,211.0 L527.1,211.6 L527.5,212.5 L527.9,213.5 L528.2,214.7 L528.6,216.0 L528.9,217.3 L529.3,218.6 L529.6,219.9 L529.9,221.2 L530.1,222.5 L530.4,223.8 L530.7,225.1 L530.9,226.4 L531.2,227.5 L531.4,228.5 L531.7,229.4 L532.0,230.0 L532.3,230.5 L532.6,230.7 L533.0,230.6 L533.4,230.2 L533.9,229.6 L534.4,228.7 L534.9,227.6 L535.4,226.5 L535.9,225.3 L536.3,224.1 L536.6,223.0 L537.0,221.8 L537.3,220.5 L537.6,219.2 L537.9,218.0 L538.2,216.8 L538.5,215.7 L538.8,214.8 L539.1,214.0 L539.4,213.4 L539.7,213.1 L540.0,213.1 L540.3,213.3 L540.6,213.8 L540.9,214.6 L541.1,215.5 L541.4,216.5 L541.7,217.7 L542.0,218.9 L542.3,220.2 L542.6,221.4 L543.0,222.7 L543.3,223.9 L543.7,225.1 L544.2,226.3 L544.7,227.4 L545.2,228.3 L545.6,229.0 L546.0,229.3 L546.4,229.1 L546.7,228.6 L547.0,227.8 L547.2,226.8 L547.5,225.6 L547.8,224.3 L548.0,222.9 L548.3,221.4 L548.5,220.1 L548.7,218.8 L548.9,217.7 L549.2,216.9 L549.4,216.3 L549.6,216.0 L549.8,216.1 L550.0,216.4 L550.2,216.9 L550.4,217.6 L550.5,218.6 L550.7,219.6 L550.8,220.8 L550.9,222.1 L551.1,223.4 L551.3,224.8 L551.5,226.1 L551.7,227.5 L551.9,228.8 L552.2,230.0 L552.5,231.1 L552.8,232.1 L553.2,233.0 L553.8,233.7 L554.8,234.3 L555.7,234.6 L556.7,234.6 L557.6,234.4 L558.6,234.1 L559.6,233.6 L560.5,233.1 L561.4,232.5 L562.3,231.8 L563.3,231.0 L564.1,230.3 L564.9,229.8 L565.4,229.6 L565.8,229.9 L566.2,230.4 L566.4,231.3 L566.7,232.4 L566.9,233.7 L567.1,235.1 L567.3,236.5 L567.5,237.8 L567.7,239.1 L568.0,240.1 L568.3,241.0 L568.7,241.5 L569.2,241.7 L570.1,241.5 L571.2,241.2 L572.3,240.7 L573.2,240.0 L573.9,239.2 L574.5,238.2 L575.1,237.1 L575.7,236.1 L576.2,235.2 L576.6,234.7 L577.0,234.6 L577.4,234.8 L577.8,235.4 L578.1,236.3 L578.4,237.4 L578.6,238.6 L578.9,240.0 L579.2,241.4 L579.4,242.9 L579.7,244.2 L579.9,245.5 L580.2,246.7 L580.5,247.6 L580.8,248.3 L581.2,248.6 L581.5,248.6 L581.9,248.3 L582.4,247.6 L582.8,246.7 L583.3,245.6 L583.8,244.4 L584.2,243.1 L584.7,241.9 L585.2,240.7 L585.6,239.5 L586.1,238.3 L586.5,237.3 L587.0,236.6 L587.4,236.3 L587.8,236.6 L588.1,237.4 L588.4,238.6 L588.7,239.9 L589.0,241.2 L589.3,242.3 L589.8,243.1 L590.3,243.4 L591.1,243.3 L592.2,242.8 L593.2,242.1 L593.8,241.3 L594.4,240.3 L594.9,239.1 L595.4,237.9 L595.8,236.8 L596.2,236.0 L596.6,235.5 L597.0,235.5 L597.3,236.0 L597.7,237.0 L598.0,238.1 L598.3,239.5 L598.6,240.9 L598.9,242.3 L599.2,243.5 L599.5,244.4 L599.9,245.0 L600.2,245.1 L600.6,244.7 L600.9,243.7 L601.3,242.5 L601.6,241.2 L602.0,240.0 L602.5,238.9 L603.0,238.2 L603.6,238.1 L604.4,238.4 L605.4,239.0 L606.4,239.6 L607.3,240.1 L608.3,240.5 L609.3,240.8 L610.2,241.1 L611.1,241.5 L611.8,242.1 L612.4,242.8 L612.9,243.7 L613.5,244.6 L614.1,245.5 L614.9,246.4 L615.7,247.4 L616.5,248.2 L617.3,248.9 L617.9,249.4 L618.3,249.6 L618.7,249.3 L619.0,248.8 L619.2,248.0 L619.5,247.0 L619.7,245.8 L619.9,244.5 L620.1,243.1 L620.2,241.7 L620.4,240.3 L620.5,238.9 L620.7,237.6 L620.9,236.5 L621.0,235.5 L621.2,234.8 L621.4,234.3 L621.6,234.2 L621.7,234.4 L621.9,234.8 L622.1,235.4 L622.3,236.3 L622.5,237.3 L622.6,238.5 L622.8,239.8 L623.0,241.2 L623.1,242.6 L623.3,244.1 L623.5,245.6 L623.6,247.1 L623.8,248.5 L624.0,249.9 L624.2,251.1 L624.4,252.2 L624.6,253.2 L624.8,253.9 L625.0,254.5 L625.2,254.8 L625.5,254.8 L625.7,254.5 L625.9,254.0 L626.2,253.3 L626.4,252.3 L626.7,251.3 L626.9,250.1 L627.2,248.8 L627.5,247.5 L627.9,246.3 L628.3,245.0 L628.7,243.9 L629.1,242.9 L629.8,241.9 L630.6,241.0 L631.5,240.3 L632.2,239.9 L632.6,239.9 L633.0,240.4 L633.3,241.2 L633.5,242.3 L633.8,243.5 L634.0,244.9 L634.2,246.4 L634.4,247.8 L634.6,249.1 L634.8,250.3 L635.1,251.3 L635.4,251.9 L635.8,252.2 L636.3,252.0 L637.0,251.4 L637.8,250.6 L638.7,249.7 L639.6,249.0 L640.4,248.7 L641.0,248.8 L641.6,249.4 L642.1,250.2 L642.7,251.3 L643.2,252.4 L643.7,253.6 L644.2,254.7 L644.7,255.9 L645.1,257.1 L645.6,258.1 L646.0,258.8 L646.4,259.2 L646.8,259.2 L647.1,258.7 L647.5,257.9 L647.8,256.9 L648.1,255.8 L648.4,254.5 L648.8,253.3 L649.2,252.1 L649.6,251.1 L650.2,250.2 L651.0,249.5 L651.9,249.0 L652.9,248.7 L653.9,248.7 L654.9,249.2 L655.9,249.8 L656.7,250.3 L657.2,250.4 L657.6,250.0 L657.9,249.2 L658.2,248.1 L658.4,246.9 L658.6,245.5 L658.8,244.1 L659.0,242.8 L659.2,241.7 L659.5,240.8 L659.7,240.4 L660.0,240.3 L660.3,240.6 L660.6,241.2 L661.0,242.0 L661.3,243.0 L661.7,244.2 L662.0,245.5 L662.4,246.8 L662.7,248.2 L663.0,249.6 L663.4,250.9 L663.7,252.2 L664.0,253.6 L664.3,255.0 L664.7,256.4 L665.0,257.6 L665.3,258.8 L665.6,259.9 L666.0,260.9 L666.3,261.6 L666.6,262.2 L666.9,262.4 L667.2,262.5 L667.5,262.2 L667.8,261.5 L668.0,260.5 L668.2,259.3 L668.4,258.0 L668.6,256.7 L668.9,255.4 L669.2,254.2 L669.5,253.2 L669.9,252.5 L670.3,252.2 L671.1,252.2 L672.1,252.4 L673.3,252.8 L674.2,253.3 L675.0,254.0 L675.7,254.8 L676.5,255.5 L677.2,256.2 L678.0,256.6 L679.0,256.7 L680.0,256.6 L681.1,256.4 L682.1,256.0 L682.8,255.6 L683.4,255.0 L683.8,254.2 L684.3,253.2 L684.7,252.2 L685.0,251.1 L685.4,250.0 L685.7,248.8 L686.0,247.6 L686.3,246.3 L686.6,245.2 L686.9,244.2 L687.3,243.5 L687.7,243.1 L688.2,243.1 L689.0,243.5 L689.9,244.1 L690.9,244.7 L692.0,245.1 L692.9,245.1 L694.0,244.9 L695.1,244.6 L696.1,244.3 L696.8,244.3 L697.4,244.6 L697.8,245.3 L698.3,246.3 L698.7,247.5 L699.0,248.8 L699.3,250.2 L699.7,251.5 L700.0,252.7 L700.3,253.7 L700.6,254.4 L701.0,254.8 L701.4,254.7 L701.8,254.3 L702.1,253.4 L702.4,252.4 L702.8,251.2 L703.2,249.9 L703.6,248.7 L704.1,247.7 L704.7,246.9 L705.5,246.4 L706.6,246.0 L707.7,245.9 L708.4,246.2 L708.8,247.1 L709.1,248.3 L709.4,249.5 L709.8,250.3 L710.3,250.5 L711.2,250.1 L712.2,249.4 L713.2,248.6 L714.0,248.0 L714.6,247.9 L715.0,248.1 L715.4,248.8 L715.7,249.8 L716.0,251.0 L716.3,252.3 L716.5,253.8 L716.8,255.2 L717.0,256.5 L717.2,257.7 L717.5,258.6 L717.8,259.2 L718.0,259.3 L718.3,259.1 L718.6,258.6 L718.9,257.7 L719.1,256.7 L719.4,255.5 L719.7,254.2 L720.0,252.8 L720.3,251.5 L720.6,250.3 L721.1,249.0 L721.5,247.8 L722.0,246.7 L722.5,245.8 L722.9,245.3 L723.3,245.2 L723.6,245.6 L723.9,246.4 L724.2,247.4 L724.5,248.6 L724.7,250.0 L725.0,251.5 L725.2,252.9 L725.5,254.3 L725.7,255.5 L726.0,256.5 L726.3,257.2 L726.6,257.6 L726.9,257.4 L727.3,256.8 L727.6,255.8 L728.0,254.6 L728.5,253.2 L728.9,251.9 L729.3,250.8 L729.7,250.0 L730.2,249.6 L730.6,249.8 L731.0,250.6 L731.4,251.7 L731.8,252.9 L732.2,254.2 L732.7,255.4 L733.2,256.3 L733.7,256.7 L734.4,256.5 L735.1,255.8 L735.9,255.0 L736.7,254.1 L737.6,253.4 L738.4,253.1 L739.2,253.4 L740.1,253.9 L740.9,254.7 L741.6,255.6 L742.2,256.6 L742.8,257.8 L743.3,258.9 L743.8,260.1 L744.2,261.1 L744.6,261.9 L745.0,262.4 L745.3,262.5 L745.6,262.2 L745.9,261.6 L746.2,260.6 L746.4,259.5 L746.6,258.2 L746.9,256.8 L747.1,255.4 L747.3,253.9 L747.5,252.4 L747.7,251.1 L747.9,249.9 L748.1,249.0 L748.3,248.3 L748.6,247.9 L748.8,247.9 L749.1,248.3 L749.4,249.1 L749.7,250.2 L750.0,251.4 L750.3,252.8 L750.6,254.2 L750.9,255.5 L751.2,256.7 L751.6,257.6 L751.9,258.2 L752.3,258.4 L752.7,258.2 L753.2,257.5 L753.6,256.5 L754.1,255.4 L754.6,254.2 L755.2,253.1 L755.8,252.3 L756.6,251.7 L757.5,251.1 L758.5,250.7 L759.5,250.5 L760.5,250.5 L761.5,250.6 L762.5,250.9 L763.5,251.4 L764.5,251.9 L765.5,252.2 L766.3,252.3 L766.9,252.0 L767.5,251.2 L768.0,250.2 L768.5,249.0 L769.0,248.0 L769.6,247.2 L770.3,246.9 L771.3,246.7 L772.5,246.8 L773.7,247.0 L774.7,247.4 L775.3,247.9 L775.6,248.7 L775.9,249.6 L776.2,250.8 L776.4,252.1 L776.6,253.4 L776.8,254.8 L777.0,256.1 L777.1,257.2 L777.3,258.2 L777.5,258.9 L777.7,259.3 L777.9,259.3 L778.2,258.9 L778.5,258.3 L778.7,257.3 L779.0,256.2 L779.3,254.9 L779.6,253.5 L779.8,252.1 L780.1,250.7 L780.4,249.3 L780.8,248.0 L781.1,246.9 L781.4,246.1 L781.8,245.5 L782.1,245.2 L782.5,245.3 L782.8,245.9 L783.2,246.7 L783.6,247.8 L784.1,249.0 L784.5,250.2 L785.0,251.2 L785.6,252.1 L786.3,252.6 L787.2,253.0 L788.3,253.3 L789.3,253.6 L790.2,254.0 L790.8,254.6 L791.4,255.3 L792.0,256.1 L792.5,257.0 L793.0,257.9 L793.6,258.8 L794.2,259.7 L794.9,260.5 L795.8,261.2 L796.8,261.9 L797.8,262.4 L798.6,262.8 L799.1,262.8 L799.5,262.6 L799.8,262.1 L800.1,261.4 L800.4,260.5 L800.6,259.4 L800.9,258.2 L801.1,256.9 L801.2,255.5 L801.4,254.1 L801.6,252.7 L801.7,251.2 L801.9,249.9 L802.1,248.6 L802.3,247.4 L802.5,246.4 L802.7,245.5 L802.9,244.9 L803.2,244.5 L803.5,244.3 L803.8,244.5 L804.2,244.9 L804.6,245.5 L805.1,246.4 L805.5,247.4 L806.0,248.5 L806.4,249.7 L806.9,251.0 L807.3,252.2 L807.7,253.5 L808.0,254.7 L808.3,256.0 L808.6,257.3 L808.9,258.6 L809.2,259.9 L809.5,261.1 L809.7,262.3 L810.0,263.3 L810.3,264.2 L810.6,264.8 L810.9,265.3 L811.2,265.5 L811.5,265.4 L811.9,265.0 L812.2,264.3 L812.6,263.4 L812.9,262.4 L813.3,261.2 L813.7,260.0 L814.1,258.8 L814.6,257.7 L815.1,256.7 L815.7,255.9 L816.4,255.2 L817.4,254.6 L818.4,254.2 L819.4,254.0 L820.3,254.1 L821.0,254.6 L821.8,255.5 L822.5,256.5 L823.1,257.6 L823.7,258.5 L824.2,259.1 L824.7,259.3 L825.1,259.0 L825.4,258.3 L825.7,257.3 L826.0,256.1 L826.3,254.7 L826.5,253.2 L826.8,251.8 L827.0,250.5 L827.3,249.4 L827.6,248.5 L827.9,248.0 L828.2,247.9 L828.5,248.2 L828.9,249.0 L829.3,250.0 L829.7,251.2 L830.0,252.5 L830.4,253.9 L830.8,255.3 L831.2,256.5 L831.6,257.5 L832.0,258.1 L832.4,258.4 L832.8,258.3 L833.2,257.7 L833.6,256.8 L833.9,255.6 L834.3,254.3 L834.7,253.0 L835.1,251.6 L835.5,250.4 L835.9,249.4 L836.4,248.7 L836.8,248.4 L837.4,248.5 L838.0,249.1 L838.6,249.9 L839.3,250.9 L840.0,251.9 L840.7,253.0 L841.5,253.9 L842.2,254.6 L843.0,254.9 L843.8,254.9 L844.6,254.5 L845.5,254.0 L846.3,253.3 L847.2,252.6 L848.1,251.9 L849.1,251.5 L850.0,251.2 L851.1,251.0 L852.1,250.8 L852.9,250.4 L853.4,249.7 L853.9,248.6 L854.4,247.4 L854.8,246.3 L855.1,245.5 L855.5,245.2 L855.8,245.3 L856.2,245.8 L856.5,246.6 L856.7,247.6 L857.0,248.9 L857.3,250.3 L857.5,251.7 L857.8,253.2 L858.0,254.7 L858.3,256.1 L858.5,257.4 L858.8,258.5 L859.1,259.4 L859.4,260.0 L859.7,260.2 L860.0,260.0 L860.4,259.4 L860.7,258.5 L861.1,257.3 L861.5,256.0 L861.9,254.7 L862.3,253.4 L862.7,252.2 L863.2,251.3 L863.7,250.7 L864.2,250.5 L864.9,250.9 L865.7,251.7 L866.5,252.7 L867.2,253.5 L867.8,254.0 L868.1,254.0 L868.4,253.6 L868.7,252.9 L869.0,251.9 L869.2,250.7 L869.4,249.4 L869.6,248.0 L869.8,246.5 L870.0,245.0 L870.2,243.7 L870.4,242.4 L870.6,241.4 L870.8,240.6 L871.1,240.1 L871.4,239.9 L871.8,240.1 L872.2,240.6 L872.6,241.4 L873.0,242.4 L873.5,243.5 L874.0,244.7 L874.5,245.9 L875.0,247.1 L875.5,248.3 L876.0,249.4 L876.6,250.5 L877.3,251.5 L877.9,252.1 L878.4,252.3 L878.9,251.9 L879.3,251.1 L879.7,249.9 L880.1,248.6 L880.4,247.3 L880.8,245.9 L881.1,244.8 L881.5,243.9 L881.8,243.5 L882.1,243.6 L882.4,244.1 L882.6,245.0 L882.9,246.2 L883.1,247.6 L883.4,249.0 L883.6,250.4 L883.9,251.6 L884.1,252.5 L884.4,253.1 L884.7,253.2 L885.0,252.9 L885.3,252.3 L885.7,251.4 L886.0,250.3 L886.4,249.0 L886.7,247.6 L887.1,246.2 L887.4,244.7 L887.8,243.4 L888.1,242.2 L888.4,241.1 L888.8,240.3 L889.1,239.7 L889.3,239.6 L889.6,239.7 L889.8,240.2 L890.1,241.0 L890.3,241.9 L890.5,243.1 L890.7,244.4 L890.9,245.8 L891.1,247.3 L891.3,248.8 L891.5,250.2 L891.7,251.7 L891.9,253.0 L892.1,254.2 L892.4,255.2 L892.6,255.9 L892.9,256.5 L893.2,256.7 L893.6,256.5 L893.9,256.0 L894.3,255.2 L894.8,254.2 L895.3,253.0 L895.8,251.8 L896.3,250.6 L896.9,249.5 L897.6,248.6 L898.2,248.0 L898.9,247.8 L899.8,247.8 L900.9,248.0 L902.0,248.4 L903.0,248.9 L903.8,249.5 L904.4,250.3 L904.9,251.3 L905.4,252.4 L905.9,253.5 L906.3,254.7 L906.7,255.8 L907.1,256.8 L907.5,257.7 L907.9,258.2 L908.3,258.4 L908.7,258.3 L909.2,257.9 L909.6,257.2 L910.0,256.3 L910.4,255.3 L910.8,254.1 L911.3,252.9 L911.7,251.7 L912.2,250.5 L912.8,249.5 L913.4,248.5 L914.1,247.4 L914.8,246.5 L915.6,245.7 L916.3,245.0 L917.1,244.5 L917.9,244.3 L918.6,244.4 L919.4,244.9 L920.1,245.6 L920.8,246.5 L921.5,247.3 L922.3,248.1 L923.1,248.7 L924.0,248.9 L925.1,249.1 L926.2,249.2 L927.2,249.4 L927.9,249.8 L928.4,250.5 L928.8,251.4 L929.2,252.6 L929.5,253.9 L929.9,255.2 L930.2,256.3 L930.5,257.3 L930.8,258.1 L931.1,258.4 L931.5,258.3 L931.8,257.9 L932.2,257.1 L932.5,256.1 L932.8,254.9 L933.1,253.5 L933.5,252.1 L933.8,250.7 L934.2,249.3 L934.5,248.0 L934.9,246.9 L935.3,246.1 L935.8,245.5 L936.3,245.2 L936.8,245.4 L937.5,246.0 L938.3,246.8 L939.1,247.7 L940.0,248.4 L940.8,248.7 L941.7,248.6 L942.6,248.1 L943.5,247.4 L944.4,246.8 L945.3,246.3 L946.2,246.1 L947.2,246.4 L948.2,247.0 L949.1,247.6 L949.8,247.9 L950.3,247.7 L950.7,247.0 L951.1,246.1 L951.4,244.9 L951.7,243.6 L952.0,242.2 L952.3,240.8 L952.6,239.5 L952.9,238.5 L953.3,237.7 L953.7,237.3 L954.1,237.4 L954.6,237.8 L955.1,238.5 L955.6,239.5 L956.2,240.6 L956.7,241.7 L957.4,242.8 L958.0,243.8 L958.7,244.5 L959.6,245.0 L960.6,245.4 L961.6,245.8 L962.6,246.2 L963.4,246.6 L964.0,247.2 L964.4,248.0 L964.8,249.0 L965.2,250.2 L965.5,251.4 L965.8,252.6 L966.1,253.9 L966.4,255.0 L966.6,256.0 L966.9,256.8 L967.1,257.3 L967.4,257.6 L967.6,257.5 L967.8,257.2 L968.0,256.6 L968.2,255.9 L968.3,254.9 L968.5,253.8 L968.6,252.7 L968.8,251.4 L968.9,250.0 L969.1,248.7 L969.3,247.3 L969.5,246.0 L969.7,244.7 L969.9,243.5 L970.2,242.4 L970.5,241.5 L970.9,240.8 L971.5,240.1 L972.5,239.6 L973.6,239.3 L974.7,239.1 L975.5,239.1 L976.4,239.4 L977.2,240.0 L977.9,240.7 L978.6,241.6 L979.2,242.6 L979.7,243.5 L980.1,244.6 L980.5,245.7 L980.8,247.0 L981.1,248.3 L981.4,249.6 L981.7,250.9 L981.9,252.2 L982.1,253.5 L982.4,254.7 L982.6,255.9 L982.8,256.9 L983.0,257.8 L983.2,258.6 L983.4,259.1 L983.7,259.5 L983.9,259.7 L984.2,259.6 L984.4,259.3 L984.7,258.7 L984.9,257.9 L985.1,257.0 L985.4,255.8 L985.6,254.6 L985.8,253.2 L986.1,251.8 L986.3,250.4 L986.6,248.9 L986.8,247.4 L987.0,246.0 L987.3,244.7 L987.5,243.4 L987.8,242.3 L988.1,241.3 L988.3,240.5 L988.6,239.9 L988.9,239.6 L989.2,239.5 L989.5,239.7 L989.9,240.3 L990.3,241.2 L990.6,242.3 L991.0,243.6 L991.4,244.9 L991.9,246.2 L992.3,247.3 L992.7,248.4 L993.2,249.1 L993.6,249.6 L994.0,249.6 L994.4,249.2 L994.8,248.6 L995.2,247.7 L995.6,246.6 L996.0,245.5 L996.4,244.3 L996.9,243.1 L997.4,242.0 L998.0,241.1 L998.7,240.3 L999.6,239.7 L1000.3,239.7 L1000.9,240.2 L1001.4,241.1 L1001.9,242.2 L1002.3,243.4 L1002.9,244.5 L1003.4,245.7 L1003.9,246.8 L1004.4,247.9 L1004.9,248.8 L1005.5,249.4 L1006.0,249.7 L1006.6,249.6 L1007.2,249.1 L1007.8,248.3 L1008.4,247.3 L1009.0,246.2 L1009.6,245.1 L1010.1,244.1 L1010.7,243.0 L1011.2,242.0 L1011.7,241.2 L1012.3,240.9 L1013.0,241.0 L1013.8,241.4 L1014.7,242.1 L1015.5,243.0 L1016.2,244.0 L1016.7,244.9 L1017.1,246.0 L1017.4,247.2 L1017.6,248.3 L1017.8,249.4 L1018.1,250.2 L1018.5,250.7 L1019.1,251.0 L1020.2,251.0 L1021.4,251.0 L1022.6,250.8 L1023.5,250.4 L1024.1,249.9 L1024.5,249.0 L1024.9,247.9 L1025.2,246.6 L1025.4,245.3 L1025.7,244.1 L1026.0,243.0 L1026.3,242.3 L1026.7,242.0 L1027.2,242.1 L1027.8,242.7 L1028.4,243.6 L1029.1,244.6 L1029.8,245.6 L1030.5,246.6 L1031.3,247.5 L1032.0,248.2 L1032.6,248.5 L1033.2,248.2 L1033.7,247.5 L1034.1,246.5 L1034.6,245.3 L1035.0,244.0 L1035.4,242.7 L1035.7,241.6 L1036.1,240.7 L1036.5,240.2 L1036.8,240.1 L1037.1,240.4 L1037.4,240.9 L1037.7,241.6 L1038.0,242.6 L1038.2,243.8 L1038.5,245.0 L1038.8,246.4 L1039.0,247.8 L1039.3,249.2 L1039.5,250.5 L1039.8,251.8 L1040.0,253.1 L1040.2,254.4 L1040.4,255.7 L1040.7,256.7 L1040.9,257.4 L1041.3,257.8 L1041.7,257.7 L1042.3,257.2 L1043.1,256.5 L1044.0,255.6 L1045.0,254.7 L1045.9,254.1 L1046.7,253.8 L1047.4,253.9 L1048.1,254.3 L1048.7,255.0 L1049.4,255.9 L1050.0,257.0 L1050.6,258.1 L1051.1,259.1 L1051.6,260.2 L1052.0,261.3 L1052.4,262.2 L1052.9,262.6 L1053.7,262.6 L1054.6,262.4 L1055.6,261.9 L1056.6,261.3 L1057.5,260.6 L1058.3,259.8 L1059.0,258.8 L1059.6,257.8 L1060.2,256.8 L1060.8,256.0 L1061.4,255.6 L1062.1,255.6 L1062.8,256.2 L1063.6,257.1 L1064.4,258.1 L1065.2,259.1 L1065.8,259.7 L1066.2,259.9 L1066.6,259.6 L1066.9,258.9 L1067.1,257.9 L1067.4,256.7 L1067.6,255.3 L1067.8,253.9 L1068.0,252.5 L1068.2,251.2 L1068.5,250.1 L1068.8,249.4 L1069.1,249.0 L1069.5,249.1 L1069.9,249.5 L1070.5,250.2 L1071.0,251.2 L1071.6,252.3 L1072.2,253.5 L1072.8,254.7 L1073.3,255.9 L1073.9,257.0 L1074.5,258.2 L1075.1,259.4 L1075.7,260.5 L1076.3,261.4 L1076.9,262.1 L1077.6,262.5 L1078.1,262.6 L1078.7,262.4 L1079.3,261.7 L1079.8,260.7 L1080.4,259.5 L1080.9,258.3 L1081.5,257.3 L1082.0,256.6 L1082.6,256.4 L1083.1,256.8 L1083.6,257.6 L1084.2,258.7 L1084.7,260.0 L1085.2,261.1 L1085.8,262.0 L1086.3,262.5 L1086.8,262.5 L1087.3,262.1 L1087.8,261.3 L1088.3,260.3 L1088.8,259.1 L1089.3,257.9 L1089.8,256.7 L1090.3,255.6 L1090.8,254.5 L1091.4,253.5 L1091.9,253.0 L1092.2,252.9 L1092.5,253.2 L1092.8,253.9 L1093.0,254.8 L1093.2,255.9 L1093.4,257.2 L1093.6,258.5 L1093.8,259.9 L1094.1,261.2 L1094.3,262.4 L1094.7,263.4 L1095.1,264.2 L1095.6,264.7 L1096.6,265.0 L1097.8,265.3 L1098.8,265.6 L1099.6,266.1 L1100.0,266.8 L1100.4,267.8 L1100.7,268.9 L1100.9,270.2 L1101.1,271.4 L1101.4,272.6 L1101.6,273.6 L1101.9,274.4 L1102.2,274.9 L1102.5,274.9 L1102.9,274.7 L1103.2,274.1 L1103.6,273.3 L1104.0,272.4 L1104.4,271.2 L1104.9,270.0 L1105.3,268.8 L1105.8,267.5 L1106.2,266.2 L1106.7,265.1 L1107.2,263.9 L1107.8,262.8 L1108.4,261.8 L1109.0,261.1 L1109.5,260.8 L1110.0,261.1 L1110.5,261.8 L1111.0,262.8 L1111.5,264.1 L1112.0,265.3 L1112.5,266.5 L1113.0,267.4 L1113.5,267.8 L1114.1,267.7 L1114.8,267.1 L1115.5,266.2 L1116.2,265.1 L1116.9,264.1 L1117.5,263.3 L1117.9,263.0 L1118.2,263.1 L1118.5,263.5 L1118.8,264.1 L1119.1,265.0 L1119.3,266.1 L1119.5,267.3 L1119.7,268.7 L1119.9,270.1 L1120.2,271.5 L1120.5,272.8 L1120.8,274.1 L1121.1,275.4 L1121.5,276.7 L1121.9,278.0 L1122.4,279.3 L1122.8,280.4 L1123.3,281.3 L1123.7,282.1 L1124.2,282.6 L1124.6,282.9 L1124.9,282.8 L1125.3,282.3 L1125.6,281.5 L1125.8,280.5 L1126.1,279.3 L1126.3,278.0 L1126.6,276.7 L1126.9,275.3 L1127.2,274.1 L1127.5,273.0 L1127.9,272.2 L1128.3,271.6 L1128.8,271.4 L1129.6,271.4 L1130.5,271.7 L1131.6,272.1 L1132.7,272.5 L1133.7,273.0 L1134.6,273.5 L1135.4,274.0 L1136.3,274.5 L1137.1,275.1 L1137.9,275.6 L1138.7,276.3 L1139.5,276.9 L1140.4,277.7 L1141.4,278.4 L1142.3,279.2 L1143.1,279.7 L1143.9,280.1 L1144.5,280.2 L1145.1,279.9 L1145.6,279.2 L1146.0,278.3 L1146.5,277.1 L1146.9,275.8 L1147.3,274.4 L1147.7,273.1 L1148.0,271.8 L1148.4,270.8 L1148.7,269.9 L1149.0,269.4 L1149.3,269.3 L1149.6,269.6 L1149.9,270.3 L1150.2,271.3 L1150.4,272.6 L1150.6,274.0 L1150.9,275.4 L1151.1,276.9 L1151.3,278.2 L1151.6,279.4 L1151.8,280.3 L1152.1,280.9 L1152.4,281.1 L1152.7,280.8 L1153.1,280.0 L1153.5,278.9 L1153.9,277.6 L1154.3,276.3 L1154.7,275.0 L1155.1,274.0 L1155.6,273.3 L1156.1,273.2 L1156.6,273.6 L1157.2,274.4 L1157.7,275.5 L1158.4,276.7 L1159.0,277.8 L1159.6,278.7 L1160.2,279.3 L1160.7,279.2 L1161.3,278.7 L1161.8,277.8 L1162.3,276.6 L1162.8,275.4 L1163.4,274.2 L1163.9,273.2 L1164.4,272.5 L1165.0,272.3 L1165.5,272.5 L1166.1,273.2 L1166.7,274.1 L1167.3,275.2 L1167.8,276.4 L1168.3,277.5 L1168.7,278.5 L1169.0,279.5 L1169.4,280.4 L1169.7,281.3 L1169.9,282.3 L1170.2,283.2 L1170.5,284.1 L1170.8,285.0 L1171.1,286.0 L1171.4,286.9 L1171.8,287.9 L1172.2,289.0 L1172.7,290.1 L1173.3,291.2 L1173.9,292.2 L1174.4,293.1 L1175.0,293.6 L1175.4,293.8 L1175.9,293.5 L1176.2,292.8 L1176.6,291.9 L1177.0,290.7 L1177.3,289.4 L1177.6,288.0 L1178.0,286.6 L1178.3,285.3 L1178.6,284.2 L1179.0,283.3 L1179.4,282.7 L1179.8,282.5 L1180.2,282.8 L1180.6,283.4 L1181.1,284.4 L1181.5,285.6 L1182.0,286.8 L1182.5,288.0 L1183.0,289.1 L1183.6,289.9 L1184.3,290.3 L1185.1,290.3 L1186.1,290.2 L1187.2,289.8 L1188.2,289.2 L1189.1,288.6 L1189.7,287.8 L1190.3,286.9 L1190.8,285.8 L1191.3,284.7 L1191.7,283.5 L1192.1,282.2 L1192.5,281.0 L1192.9,279.9 L1193.2,278.9 L1193.5,278.1 L1193.8,277.6 L1194.1,277.2 L1194.4,277.2 L1194.6,277.5 L1194.8,278.1 L1195.0,278.9 L1195.2,279.8 L1195.3,281.0 L1195.5,282.2 L1195.6,283.6 L1195.8,285.0 L1195.9,286.5 L1196.1,288.0 L1196.2,289.4 L1196.4,290.8 L1196.5,292.1 L1196.7,293.2 L1196.9,294.3 L1197.1,295.1 L1197.3,295.7 L1197.6,296.0 L1197.9,296.0 L1198.2,295.8 L1198.6,295.2 L1199.1,294.4 L1199.6,293.5 L1200.2,292.4 L1200.8,291.3 L1201.4,290.2 L1202.0,289.1 L1202.7,288.2 L1203.4,287.3 L1204.3,286.5 L1205.2,285.8 L1206.1,285.2 L1206.8,285.0 L1207.4,285.0 L1207.8,285.5 L1208.2,286.2 L1208.5,287.2 L1208.8,288.3 L1209.1,289.5 L1209.5,290.7 L1209.8,291.9 L1210.3,292.9 L1210.9,293.7 L1211.7,294.4 L1212.7,294.9 L1213.6,295.2 L1214.5,295.1 L1215.3,294.5 L1216.0,293.7 L1216.8,292.7 L1217.5,291.9 L1218.2,291.4 L1218.9,291.4 L1219.6,291.8 L1220.3,292.6 L1220.9,293.6 L1221.6,294.7 L1222.2,295.7 L1222.9,296.5 L1223.7,296.9 L1224.6,296.9 L1225.6,296.7 L1226.6,296.4 L1227.7,296.2 L1228.7,296.0 L1229.5,296.2 L1230.3,296.8 L1231.1,297.7 L1231.8,298.7 L1232.5,299.7 L1233.1,300.3 L1233.7,300.5 L1234.2,300.0 L1234.6,299.2 L1235.0,298.0 L1235.4,296.7 L1235.8,295.4 L1236.2,294.3 L1236.6,293.4 L1237.1,293.1 L1237.6,293.2 L1238.2,293.8 L1238.7,294.7 L1239.3,295.8 L1240.0,296.9 L1240.6,298.0 L1241.3,298.9 L1242.1,299.5 L1242.9,299.7 L1243.8,299.5 L1244.8,299.1 L1245.8,298.6 L1246.7,297.9 L1247.4,297.1 L1248.0,296.1 L1248.6,295.1 L1249.2,294.4 L1249.6,294.3 L1250.1,294.6 L1250.5,295.2 L1250.9,296.2 L1251.2,297.3 L1251.6,298.6 L1251.9,300.0 L1252.3,301.4 L1252.6,302.7 L1252.9,303.8 L1253.2,304.8 L1253.6,305.5 L1253.9,305.8 L1254.2,305.8 L1254.5,305.5 L1254.7,304.9 L1255.0,304.1 L1255.2,303.2 L1255.4,302.1 L1255.7,300.9 L1255.9,299.6 L1256.2,298.3 L1256.5,296.9 L1256.8,295.6 L1257.1,294.4 L1257.5,293.2 L1258.0,292.2 L1258.5,291.3 L1259.4,290.5 L1260.3,290.0 L1260.7,289.9 L1261.1,290.2 L1261.3,290.8 L1261.6,291.6 L1261.8,292.7 L1262.0,293.9 L1262.2,295.3 L1262.3,296.8 L1262.4,298.3 L1262.6,299.9 L1262.7,301.4 L1262.9,302.8 L1263.0,304.1 L1263.2,305.3 L1263.4,306.3 L1263.6,307.0 L1263.9,307.5 L1264.2,307.6 L1264.6,307.3 L1265.2,306.6 L1266.0,305.6 L1266.8,304.7 L1267.6,304.1 L1268.2,304.1 L1268.9,304.6 L1269.5,305.6 L1270.0,306.7 L1270.6,307.9 L1271.1,308.8 L1271.5,309.3 L1271.9,309.4 L1272.2,309.2 L1272.4,308.7 L1272.7,308.0 L1272.9,307.0 L1273.1,305.9 L1273.3,304.7 L1273.5,303.4 L1273.7,302.0 L1274.0,300.6 L1274.2,299.2 L1274.5,297.9 L1274.8,296.7 L1275.2,295.6 L1275.6,294.7 L1276.2,293.9 L1277.2,293.3 L1278.2,293.1 L1278.9,293.3 L1279.4,294.0 L1279.9,295.1 L1280.4,296.3 L1280.8,297.4 L1281.4,298.3 L1282.0,298.7 L1282.9,298.6 L1283.9,298.2 L1285.0,297.9 L1285.8,297.9 L1286.3,298.4 L1286.8,299.3 L1287.2,300.4 L1287.6,301.6 L1288.1,302.8 L1288.6,303.6 L1289.2,304.0 L1290.1,304.1 L1291.1,304.0 L1292.2,303.7 L1293.3,303.2 L1294.1,302.7 L1294.8,302.1 L1295.5,301.4 L1296.1,300.6 L1296.6,299.7 L1297.1,298.8 L1297.6,297.8 L1297.9,296.7 L1298.3,295.5 L1298.6,294.2 L1298.9,293.0 L1299.2,291.8 L1299.5,290.7 L1299.8,289.9 L1300.1,289.2 L1300.4,288.9 L1300.8,288.8 L1301.1,289.2 L1301.5,289.8 L1301.9,290.7 L1302.3,291.8 L1302.7,293.0 L1303.1,294.3 L1303.5,295.5 L1303.9,296.7 L1304.2,298.0 L1304.6,299.3 L1305.0,300.6 L1305.4,301.9 L1305.8,303.2 L1306.1,304.3 L1306.5,305.3 L1306.9,306.1 L1307.2,306.7 L1307.6,307.1 L1307.9,307.2 L1308.2,306.9 L1308.5,306.4 L1308.9,305.5 L1309.2,304.5 L1309.5,303.2 L1309.8,301.9 L1310.1,300.5 L1310.4,299.1 L1310.7,297.7 L1311.0,296.5 L1311.3,295.4 L1311.6,294.5 L1311.8,293.9 L1312.1,293.7 L1312.4,293.8 L1312.6,294.3 L1312.8,295.1 L1313.0,296.1 L1313.2,297.4 L1313.3,298.8 L1313.5,300.2 L1313.7,301.7 L1313.9,303.1 L1314.1,304.4 L1314.4,305.5 L1314.6,306.3 L1314.9,306.9 L1315.3,307.2 L1315.7,307.0 L1316.4,306.4 L1317.3,305.6 L1318.2,304.8 L1319.2,304.1 L1320.1,303.6 L1321.0,303.6 L1321.8,304.1 L1322.6,304.9 L1323.5,305.8 L1324.2,306.6 L1324.8,307.1 L1325.3,307.1 L1325.6,306.7 L1325.9,306.0 L1326.2,305.0 L1326.5,303.9 L1326.7,302.6 L1327.0,301.3 L1327.3,300.0 L1327.7,298.9 L1328.2,297.9 L1328.9,297.0 L1329.8,296.3 L1330.7,295.7 L1331.6,295.5 L1332.3,295.6 L1333.0,296.0 L1333.7,296.7 L1334.3,297.7 L1334.9,298.7 L1335.4,299.8 L1335.9,300.9 L1336.3,302.1 L1336.7,303.3 L1337.1,304.5 L1337.4,305.6 L1337.8,306.6 L1338.2,307.4 L1338.6,307.9 L1339.1,308.0 L1339.6,307.8 L1340.1,307.3 L1340.7,306.5 L1341.3,305.6 L1341.9,304.6 L1342.6,303.5 L1343.2,302.6 L1344.0,301.7 L1344.8,301.0 L1345.7,300.4 L1346.6,300.0 L1347.4,300.0 L1348.1,300.3 L1348.7,301.0 L1349.2,301.8 L1349.8,302.8 L1350.4,303.9 L1351.0,304.9 L1351.7,305.8 L1352.5,306.8 L1353.2,307.7 L1354.0,308.5 L1354.8,309.2 L1355.6,309.7 L1356.3,309.9 L1357.0,309.7 L1357.7,309.2 L1358.3,308.3 L1358.9,307.3 L1359.5,306.2 L1360.1,305.2 L1360.7,304.3 L1361.4,303.7 L1362.2,303.5 L1363.1,303.5 L1364.1,303.8 L1365.1,304.2 L1366.1,304.7 L1367.0,305.2 L1367.8,305.9 L1368.5,306.7 L1369.2,307.5 L1369.8,308.4 L1370.5,309.3 L1371.1,310.0 L1371.9,310.5 L1372.7,310.8 L1373.7,310.9 L1374.8,311.0 L1375.9,310.9 L1376.7,310.7 L1377.3,310.3 L1377.8,309.5 L1378.1,308.5 L1378.5,307.3 L1378.9,306.2 L1379.3,305.2 L1379.9,304.5 L1380.6,303.9 L1381.5,303.5 L1382.5,303.1 L1383.5,302.9 L1384.6,302.7 L1385.5,302.6 L1386.5,302.6 L1387.5,302.5 L1388.6,302.5 L1389.6,302.5 L1390.6,302.5 L1391.6,302.7 L1392.5,302.9 L1393.5,303.2 L1394.5,303.6 L1395.4,304.0 L1396.4,304.3 L1397.3,304.5 L1398.3,304.4 L1399.4,304.1 L1400.5,303.8 L1401.4,303.6 L1402.2,303.6 L1402.7,304.0 L1403.2,304.9 L1403.6,306.0 L1404.0,307.3 L1404.4,308.5 L1404.8,309.7 L1405.2,310.6 L1405.7,311.0 L1406.3,311.0 L1407.0,310.6 L1407.8,309.9 L1408.6,309.1 L1409.5,308.3 L1410.4,307.6 L1411.4,307.2 L1412.3,307.1 L1413.3,307.3 L1414.4,307.6 L1415.5,307.9 L1416.4,308.1 L1417.1,308.0 L1417.8,307.5 L1418.4,306.7 L1418.9,305.6 L1419.4,304.4 L1419.9,303.2 L1420.3,301.9 L1420.8,300.8 L1421.2,299.9 L1421.7,299.3 L1422.2,299.1 L1422.6,299.3 L1423.1,300.0 L1423.5,301.0 L1423.9,302.3 L1424.4,303.5 L1424.8,304.8 L1425.3,305.9 L1425.8,306.7 L1426.3,307.1 L1426.9,307.0 L1427.5,306.6 L1428.2,305.8 L1428.9,304.8 L1429.6,303.8 L1430.4,302.9 L1431.2,302.2 L1432.1,301.6 L1433.1,301.1 L1434.1,300.9 L1434.9,300.9 L1435.6,301.2 L1436.2,301.9 L1436.8,302.9 L1437.3,303.9 L1437.8,305.1 L1438.4,306.2 L1438.9,307.1 L1439.6,307.7 L1440.2,308.1 L1441.0,308.0 L1441.9,307.7 L1442.8,307.2 L1443.8,306.6 L1444.7,305.9 L1445.6,305.2 L1446.5,304.5 L1447.3,303.7 L1448.1,303.0 L1449.0,302.4 L1449.8,301.9 L1450.6,301.8 L1451.3,301.9 L1452.0,302.3 L1452.7,303.0 L1453.3,303.9 L1454.0,304.8 L1454.7,305.8 L1455.4,306.6 L1456.2,307.3 L1457.1,307.8 L1458.1,308.3 L1459.2,308.7 L1460.3,309.0 L1461.3,309.1 L1462.3,309.2 L1463.1,309.0 L1463.8,308.7 L1464.5,308.1 L1465.1,307.2 L1465.6,306.1 L1466.1,304.9 L1466.6,303.8 L1467.1,302.7 L1467.6,301.8 L1468.1,301.2 L1468.7,300.9 L1469.3,300.9 L1469.9,301.3 L1470.5,301.9 L1471.2,302.8 L1471.8,303.7 L1472.5,304.8 L1473.1,305.8 L1473.8,306.9 L1474.5,307.8 L1475.2,308.9 L1476.0,309.9 L1476.8,310.8 L1477.6,311.8 L1478.3,312.6 L1479.1,313.2 L1479.7,313.7 L1480.3,314.0 L1480.8,314.0 L1481.3,313.7 L1481.6,313.1 L1482.0,312.3 L1482.3,311.3 L1482.5,310.2 L1482.8,308.9 L1483.0,307.6 L1483.3,306.2 L1483.5,304.9 L1483.8,303.7 L1484.1,302.5 L1484.5,301.5 L1484.8,300.7 L1485.3,300.2 L1485.8,299.9 L1486.5,299.9 L1487.3,299.9 L1488.3,300.2 L1489.4,300.4 L1490.6,300.8 L1491.7,301.2 L1492.7,301.6 L1493.6,302.0 L1494.5,302.4 L1495.4,302.9 L1496.3,303.3 L1497.2,303.8 L1498.1,304.3 L1499.0,304.8 L1499.8,305.4 L1500.7,306.0 L1501.6,306.6 L1502.5,306.9 L1503.4,307.1 L1504.3,307.1 L1505.1,306.7 L1506.0,306.1 L1506.8,305.5 L1507.7,304.8 L1508.6,304.2 L1509.5,303.7 L1510.4,303.5 L1511.4,303.3 L1512.5,303.2 L1513.6,303.2 L1514.5,303.4 L1515.4,303.6 L1516.2,304.1 L1516.9,304.9 L1517.5,305.9 L1518.2,307.0 L1518.8,308.0 L1519.3,308.9 L1519.9,309.5 L1520.5,309.8 L1521.1,309.8 L1521.7,309.4 L1522.2,308.8 L1522.7,308.0 L1523.2,307.0 L1523.8,305.9 L1524.3,304.8 L1524.8,303.6 L1525.4,302.5 L1526.0,301.5 L1526.6,300.4 L1527.3,299.4 L1528.0,298.6 L1528.7,298.2 L1529.4,298.3 L1530.1,298.8 L1530.8,299.6 L1531.6,300.5 L1532.4,301.3 L1533.2,301.7 L1534.1,301.7 L1535.0,301.4 L1536.0,300.9 L1537.0,300.2 L1538.0,299.5 L1539.0,298.9 L1539.8,298.4 L1540.5,298.2 L1541.0,298.3 L1541.5,298.7 L1541.9,299.6 L1542.2,300.6 L1542.5,301.8 L1542.8,303.1 L1543.1,304.4 L1543.5,305.6 L1543.9,306.7 L1544.3,307.5 L1544.8,308.0 L1545.6,308.3 L1546.6,308.4 L1547.7,308.5 L1548.9,308.4 L1549.9,308.1 L1550.7,307.7 L1551.4,307.0 L1552.0,306.1 L1552.7,305.1 L1553.3,304.2 L1554.0,303.7 L1554.8,303.5 L1555.7,303.7 L1556.7,304.1 L1557.7,304.6 L1558.5,305.3 L1559.3,306.0 L1560.1,306.9 L1560.8,307.8 L1561.6,308.7 L1562.2,309.5 L1562.9,310.2 L1563.5,310.6 L1564.1,310.7 L1564.7,310.6 L1565.2,310.1 L1565.7,309.4 L1566.2,308.6 L1566.7,307.6 L1567.2,306.5 L1567.6,305.3 L1568.1,304.2 L1568.6,303.0 L1569.2,301.8 L1569.7,300.7 L1570.3,299.6 L1570.9,298.5 L1571.5,297.5 L1572.1,296.8 L1572.6,296.4 L1573.2,296.4 L1573.7,296.8 L1574.1,297.6 L1574.5,298.7 L1575.0,299.9 L1575.4,301.2 L1575.8,302.5 L1576.3,303.6 L1576.7,304.5 L1577.2,305.2 L1577.8,305.3 L1578.4,305.1 L1579.0,304.5 L1579.6,303.6 L1580.4,302.6 L1581.1,301.6 L1581.9,300.7 L1582.7,300.1 L1583.5,299.8 L1584.5,299.6 L1585.6,299.6 L1586.7,299.6 L1587.8,299.8 L1588.9,300.1 L1589.8,300.5 L1590.5,300.9 L1591.0,301.6 L1591.5,302.4 L1591.9,303.3 L1592.3,304.4 L1592.7,305.5 L1593.1,306.5 L1593.5,307.5 L1594.0,308.3 L1594.6,309.0 L1595.4,309.5 L1596.3,309.9 L1597.4,310.2 L1598.4,310.4 L1599.4,310.4 L1600.3,310.2 L1601.3,309.9 L1602.2,309.5 L1603.2,309.1 L1604.1,308.6 L1605.0,308.1 L1605.9,307.7 L1606.7,307.1 L1607.5,306.6 L1608.3,306.0 L1609.1,305.4 L1609.9,304.8 L1610.7,304.2 L1611.5,303.5 L1612.4,302.8 L1613.3,302.1 L1614.2,301.4 L1615.1,300.8 L1616.0,300.3 L1616.9,300.0 L1617.7,299.9 L1618.4,300.2 L1619.1,300.9 L1619.7,301.8 L1620.4,302.8 L1621.0,303.9 L1621.6,304.9 L1622.2,305.7 L1622.8,306.2 L1623.5,306.2 L1624.1,305.8 L1624.7,305.1 L1625.3,304.1 L1625.9,303.1 L1626.5,302.0 L1627.2,301.0 L1627.9,300.3 L1628.7,299.9 L1629.6,299.6 L1630.6,299.5 L1631.6,299.4 L1632.7,299.5 L1633.7,299.6 L1634.7,299.8 L1635.7,300.1 L1636.6,300.4 L1636.9,300.5" stroke="#404040" style="stroke-width:6.5;stroke-linejoin:round"/>
<circle cx="153.2" cy="314.6" r="3.25" fill="#404040" shape-rendering="crispEdges"/>
<text class="lab" x="1439.0" y="222.0" fill="#404040" style="font-size:58.8px">mKB</text>
<text class="lab" x="946.2" y="432.9" fill="#8000ff" style="font-size:59.1px">Ni(Fe)DMOF/mKB14</text>
<text class="lab" x="1197.1" y="608.2" fill="#800000" style="font-size:58.8px">Ni(Fe)DMOF</text>
<text class="lab" x="1094.4" y="813.2" fill="#008000" style="font-size:59.1px">NiDMOF/mKB14</text>
<text class="lab" x="1335.6" y="979.0" fill="#ff0000" style="font-size:59.0px">NiDMOF</text>
<text class="lab" x="1180.0" y="1131.0" fill="#0000ff" style="font-size:58.5px">Sim. Ni DMOF</text>
<text class="tick" x="134.75" y="1328.7">5</text>
<text class="tick" x="348.90" y="1328.7">10</text>
<text class="tick" x="563.05" y="1328.7">15</text>
<text class="tick" x="777.20" y="1328.7">20</text>
<text class="tick" x="991.35" y="1328.7">25</text>
<text class="tick" x="1205.50" y="1328.7">30</text>
<text class="tick" x="1419.65" y="1328.7">35</text>
<text class="tick" x="1633.80" y="1328.7">40</text>
<text class="ax" x="884.5" y="1419.3" style="font-size:64.5px">2 theta <tspan dx="-1.5">(</tspan><tspan dy="-27" dx="0.6" style="font-size:44.2px;font-weight:bold">o</tspan><tspan dy="27" dx="1.2">)</tspan></text>
<text class="ax" transform="translate(74.0,607.0) rotate(-90) scale(0.95,1)" style="font-size:65px">Intensity (a.u)</text>
</svg>
</body>
</html>
